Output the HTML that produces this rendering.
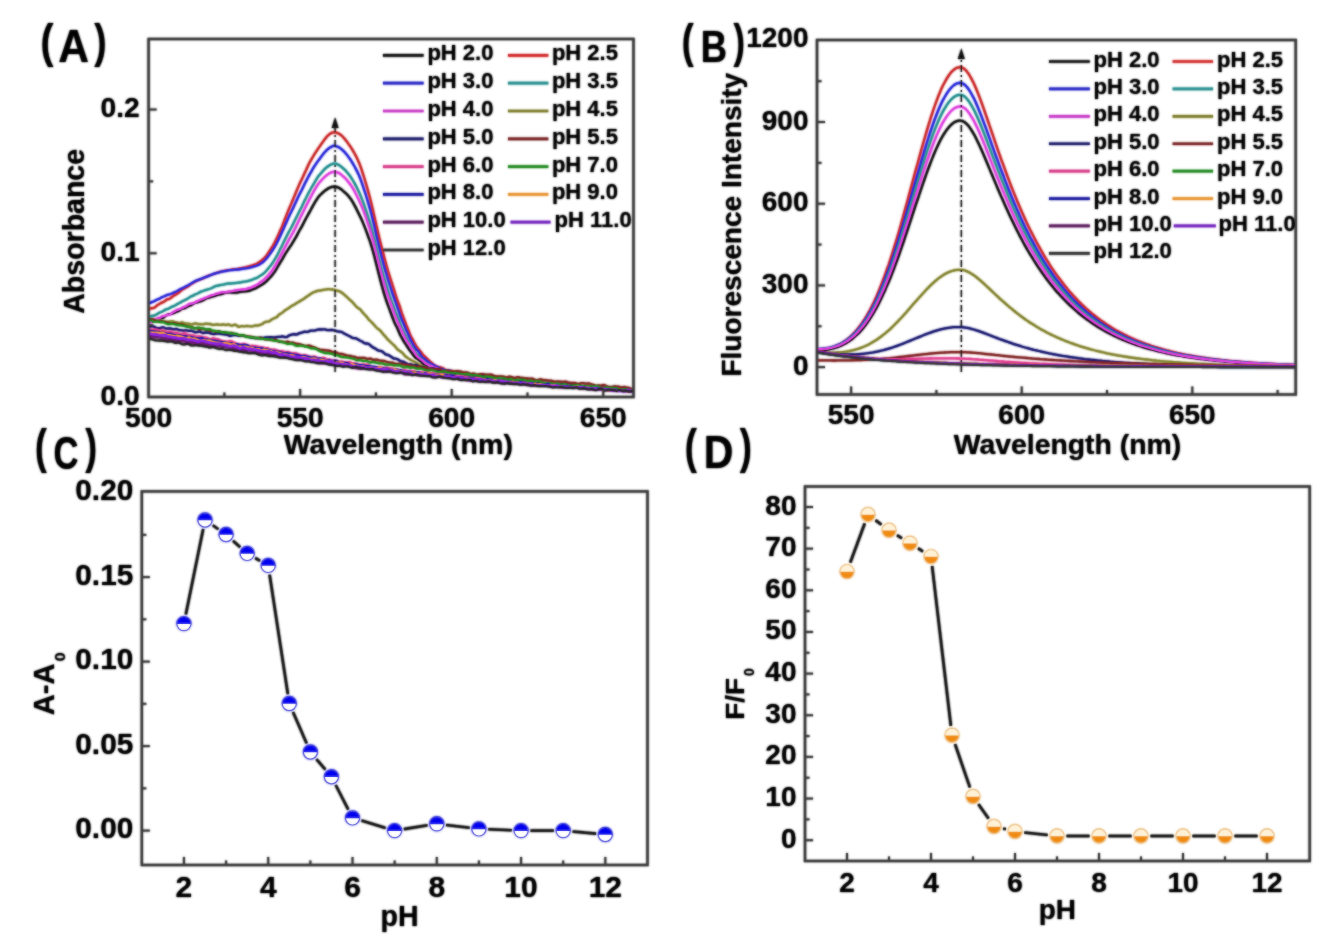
<!DOCTYPE html>
<html><head><meta charset="utf-8"><style>
html,body{margin:0;padding:0;background:#fff;width:1326px;height:945px;overflow:hidden;font-family:"Liberation Sans", sans-serif;}
</style></head><body>
<svg width="1326" height="945" viewBox="0 0 1326 945" style="position:absolute;left:0;top:0">
<defs><filter id="soft" x="0" y="0" width="1326" height="945" filterUnits="userSpaceOnUse"><feGaussianBlur stdDeviation="0.9"/></filter>
<g id="content" font-family='"Liberation Sans", sans-serif'>
<svg x="148.6" y="39" width="484.9" height="358" viewBox="148.6 39 484.9 358" overflow="hidden">
<path d="M148.6 321.4 L150.1 321.3 L151.6 321.5 L153.1 321.4 L154.7 320.7 L156.2 319.9 L157.7 319.4 L159.2 318.9 L160.7 318.3 L162.2 317.9 L163.8 317.3 L165.3 316.1 L166.8 315.1 L168.3 314.4 L169.8 314.2 L171.3 313.9 L172.8 313.5 L174.4 312.8 L175.9 311.9 L177.4 311.4 L178.9 310.9 L180.4 309.8 L181.9 308.7 L183.5 308.3 L185.0 308.0 L186.5 307.2 L188.0 306.3 L189.5 305.7 L191.0 305.2 L192.5 304.3 L194.1 303.2 L195.6 302.6 L197.1 302.4 L198.6 302.0 L200.1 301.5 L201.6 301.0 L203.2 300.3 L204.7 299.3 L206.2 298.4 L207.7 298.0 L209.2 297.6 L210.7 296.9 L212.3 296.5 L213.8 296.2 L215.3 295.6 L216.8 295.1 L218.3 294.6 L219.8 294.3 L221.3 294.2 L222.9 293.6 L224.4 293.0 L225.9 292.7 L227.4 292.5 L228.9 292.3 L230.4 292.4 L232.0 292.5 L233.5 292.5 L235.0 292.6 L236.5 292.7 L238.0 292.4 L239.5 291.9 L241.0 291.6 L242.6 291.5 L244.1 291.3 L245.6 291.3 L247.1 291.1 L248.6 290.8 L250.1 290.5 L251.7 289.8 L253.2 289.1 L254.7 288.7 L256.2 288.0 L257.7 287.1 L259.2 286.2 L260.7 285.3 L262.3 284.4 L263.8 283.3 L265.3 282.2 L266.8 280.9 L268.3 279.3 L269.8 277.8 L271.4 276.0 L272.9 274.1 L274.4 272.1 L275.9 269.8 L277.4 267.2 L278.9 264.7 L280.4 262.2 L282.0 259.6 L283.5 256.9 L285.0 254.2 L286.5 251.9 L288.0 249.6 L289.5 247.3 L291.1 245.1 L292.6 242.7 L294.1 240.2 L295.6 237.7 L297.1 234.9 L298.6 232.0 L300.1 229.3 L301.7 226.6 L303.2 223.7 L304.7 220.8 L306.2 218.0 L307.7 215.3 L309.2 212.6 L310.8 209.8 L312.3 206.9 L313.8 204.2 L315.3 201.6 L316.8 199.3 L318.3 197.1 L319.9 195.3 L321.4 193.8 L322.9 192.4 L324.4 191.1 L325.9 190.0 L327.4 189.0 L328.9 188.0 L330.5 187.4 L332.0 186.9 L333.5 186.7 L335.0 186.8 L336.5 186.9 L338.0 187.4 L339.6 188.2 L341.1 189.2 L342.6 190.5 L344.1 191.8 L345.6 193.1 L347.1 194.4 L348.6 196.2 L350.2 198.2 L351.7 200.4 L353.2 202.9 L354.7 205.6 L356.2 208.4 L357.7 211.5 L359.3 214.7 L360.8 217.8 L362.3 221.1 L363.8 224.6 L365.3 228.4 L366.8 232.4 L368.3 236.5 L369.9 240.9 L371.4 245.7 L372.9 250.8 L374.4 256.3 L375.9 262.2 L377.4 268.2 L379.0 274.4 L380.5 280.4 L382.0 286.0 L383.5 291.4 L385.0 296.4 L386.5 301.0 L388.0 305.1 L389.6 309.3 L391.1 313.5 L392.6 317.5 L394.1 321.4 L395.6 324.7 L397.1 327.5 L398.7 331.3 L400.2 334.9 L401.7 337.5 L403.2 340.3 L404.7 342.7 L406.2 344.9 L407.8 347.4 L409.3 349.7 L410.8 351.6 L412.3 353.7 L413.8 355.8 L415.3 357.5 L416.8 358.6 L418.4 359.6 L419.9 360.8 L421.4 361.9 L422.9 363.5 L424.4 365.0 L425.9 366.2 L427.5 367.4 L429.0 368.1 L430.5 368.4 L432.0 368.5 L433.5 369.0 L435.0 369.8 L436.5 370.7 L438.1 371.2 L439.6 371.3 L441.1 371.3 L442.6 371.8 L444.1 372.1 L445.6 371.9 L447.2 372.3 L448.7 373.2 L450.2 373.9 L451.7 374.2 L453.2 374.3 L454.7 374.6 L456.2 374.7 L457.8 374.7 L459.3 374.9 L460.8 375.3 L462.3 376.0 L463.8 376.5 L465.3 377.0 L466.9 377.0 L468.4 376.9 L469.9 377.2 L471.4 377.4 L472.9 377.9 L474.4 378.2 L475.9 378.3 L477.5 378.7 L479.0 379.1 L480.5 379.5 L482.0 379.8 L483.5 380.1 L485.0 380.0 L486.6 379.9 L488.1 380.0 L489.6 380.6 L491.1 381.5 L492.6 381.4 L494.1 381.1 L495.6 381.2 L497.2 381.2 L498.7 381.4 L500.2 381.8 L501.7 381.5 L503.2 381.2 L504.7 381.8 L506.3 382.4 L507.8 382.7 L509.3 383.0 L510.8 383.3 L512.3 382.9 L513.8 382.2 L515.4 382.4 L516.9 382.8 L518.4 382.7 L519.9 382.7 L521.4 382.9 L522.9 382.9 L524.4 383.2 L526.0 383.5 L527.5 383.9 L529.0 384.8 L530.5 384.9 L532.0 384.6 L533.5 384.8 L535.1 384.9 L536.6 385.1 L538.1 384.7 L539.6 384.0 L541.1 384.4 L542.6 384.8 L544.1 384.8 L545.7 385.0 L547.2 385.1 L548.7 384.9 L550.2 385.2 L551.7 385.7 L553.2 385.7 L554.8 385.9 L556.3 386.1 L557.8 386.0 L559.3 386.0 L560.8 385.8 L562.3 385.8 L563.8 386.1 L565.4 386.2 L566.9 386.6 L568.4 387.2 L569.9 387.2 L571.4 387.0 L572.9 387.0 L574.5 387.0 L576.0 387.1 L577.5 387.2 L579.0 386.5 L580.5 386.5 L582.0 387.3 L583.5 387.6 L585.1 387.5 L586.6 387.1 L588.1 387.3 L589.6 388.2 L591.1 388.7 L592.6 388.8 L594.2 389.1 L595.7 389.0 L597.2 388.8 L598.7 388.6 L600.2 388.2 L601.7 388.4 L603.2 389.2 L604.8 389.5 L606.3 389.2 L607.8 388.9 L609.3 389.5 L610.8 389.9 L612.3 389.6 L613.9 389.4 L615.4 389.4 L616.9 389.2 L618.4 389.3 L619.9 389.7 L621.4 390.1 L623.0 390.1 L624.5 390.5 L626.0 390.8 L627.5 390.8 L629.0 390.8 L630.5 390.9 L632.0 390.6 L633.6 390.1" fill="none" stroke="#0a0a0a" stroke-width="2.3" stroke-linejoin="round" stroke-linecap="round"/>
<path d="M148.6 309.4 L150.1 308.7 L151.6 308.2 L153.1 308.1 L154.7 307.5 L156.2 306.2 L157.7 304.9 L159.2 304.1 L160.7 303.1 L162.2 302.4 L163.8 301.9 L165.3 300.7 L166.8 299.5 L168.3 299.2 L169.8 298.6 L171.3 297.5 L172.8 296.3 L174.4 295.3 L175.9 294.4 L177.4 293.5 L178.9 292.5 L180.4 291.1 L181.9 289.7 L183.5 288.9 L185.0 288.1 L186.5 287.3 L188.0 286.4 L189.5 285.2 L191.0 284.1 L192.5 283.3 L194.1 282.3 L195.6 281.4 L197.1 280.6 L198.6 279.9 L200.1 279.4 L201.6 278.9 L203.2 278.3 L204.7 277.4 L206.2 276.7 L207.7 276.0 L209.2 275.4 L210.7 275.0 L212.3 274.5 L213.8 273.9 L215.3 273.4 L216.8 272.9 L218.3 272.4 L219.8 271.9 L221.3 271.5 L222.9 271.2 L224.4 270.8 L225.9 270.5 L227.4 270.3 L228.9 270.1 L230.4 269.8 L232.0 269.5 L233.5 269.3 L235.0 269.2 L236.5 269.1 L238.0 268.8 L239.5 268.5 L241.0 268.3 L242.6 268.0 L244.1 267.7 L245.6 267.4 L247.1 266.9 L248.6 266.5 L250.1 266.1 L251.7 265.7 L253.2 265.1 L254.7 264.6 L256.2 264.1 L257.7 263.3 L259.2 262.2 L260.7 261.1 L262.3 259.8 L263.8 258.5 L265.3 257.0 L266.8 255.1 L268.3 252.9 L269.8 250.6 L271.4 248.2 L272.9 245.8 L274.4 243.1 L275.9 240.1 L277.4 236.9 L278.9 233.7 L280.4 230.2 L282.0 226.6 L283.5 222.8 L285.0 219.0 L286.5 215.2 L288.0 211.4 L289.5 207.7 L291.1 204.1 L292.6 200.5 L294.1 196.9 L295.6 193.3 L297.1 189.6 L298.6 186.1 L300.1 182.8 L301.7 179.6 L303.2 176.2 L304.7 172.9 L306.2 169.8 L307.7 166.5 L309.2 163.3 L310.8 160.4 L312.3 157.9 L313.8 155.3 L315.3 152.9 L316.8 150.7 L318.3 148.4 L319.9 146.1 L321.4 143.9 L322.9 141.8 L324.4 139.7 L325.9 137.7 L327.4 136.0 L328.9 134.6 L330.5 133.5 L332.0 132.7 L333.5 132.4 L335.0 132.4 L336.5 132.6 L338.0 133.2 L339.6 134.1 L341.1 135.2 L342.6 136.5 L344.1 138.2 L345.6 140.0 L347.1 141.9 L348.6 144.1 L350.2 146.3 L351.7 148.6 L353.2 151.1 L354.7 153.7 L356.2 156.6 L357.7 159.8 L359.3 163.4 L360.8 167.3 L362.3 171.8 L363.8 176.5 L365.3 181.5 L366.8 186.6 L368.3 191.9 L369.9 197.7 L371.4 203.8 L372.9 210.2 L374.4 216.7 L375.9 223.4 L377.4 230.1 L379.0 236.7 L380.5 242.9 L382.0 248.8 L383.5 254.6 L385.0 260.3 L386.5 265.7 L388.0 271.0 L389.6 276.0 L391.1 280.8 L392.6 285.5 L394.1 290.2 L395.6 295.1 L397.1 299.7 L398.7 303.7 L400.2 308.0 L401.7 312.8 L403.2 316.9 L404.7 320.8 L406.2 325.0 L407.8 328.7 L409.3 332.7 L410.8 336.2 L412.3 338.9 L413.8 341.8 L415.3 344.5 L416.8 346.9 L418.4 349.1 L419.9 350.7 L421.4 352.7 L422.9 354.7 L424.4 356.2 L425.9 357.6 L427.5 359.1 L429.0 360.7 L430.5 361.9 L432.0 363.2 L433.5 364.4 L435.0 365.4 L436.5 366.4 L438.1 366.9 L439.6 367.1 L441.1 367.6 L442.6 368.1 L444.1 368.9 L445.6 370.1 L447.2 370.9 L448.7 370.9 L450.2 370.9 L451.7 371.3 L453.2 371.7 L454.7 372.1 L456.2 372.9 L457.8 373.4 L459.3 372.8 L460.8 372.6 L462.3 373.4 L463.8 374.2 L465.3 374.2 L466.9 374.1 L468.4 374.6 L469.9 375.3 L471.4 375.8 L472.9 375.8 L474.4 375.6 L475.9 375.4 L477.5 375.7 L479.0 376.8 L480.5 377.4 L482.0 377.4 L483.5 377.5 L485.0 377.6 L486.6 377.7 L488.1 377.8 L489.6 378.0 L491.1 378.6 L492.6 379.4 L494.1 379.9 L495.6 380.0 L497.2 380.2 L498.7 380.2 L500.2 379.8 L501.7 379.8 L503.2 380.3 L504.7 380.9 L506.3 381.2 L507.8 380.8 L509.3 380.6 L510.8 381.3 L512.3 381.2 L513.8 380.9 L515.4 381.2 L516.9 381.4 L518.4 381.5 L519.9 381.8 L521.4 381.6 L522.9 381.6 L524.4 382.3 L526.0 382.6 L527.5 382.2 L529.0 381.9 L530.5 381.8 L532.0 382.3 L533.5 383.1 L535.1 383.3 L536.6 383.0 L538.1 383.1 L539.6 383.5 L541.1 383.4 L542.6 383.2 L544.1 383.3 L545.7 383.7 L547.2 384.0 L548.7 384.2 L550.2 384.3 L551.7 384.0 L553.2 383.2 L554.8 383.0 L556.3 383.7 L557.8 384.2 L559.3 384.5 L560.8 384.9 L562.3 385.1 L563.8 385.0 L565.4 384.6 L566.9 384.4 L568.4 385.1 L569.9 385.4 L571.4 385.1 L572.9 385.3 L574.5 385.6 L576.0 386.0 L577.5 386.4 L579.0 386.1 L580.5 385.8 L582.0 386.1 L583.5 386.5 L585.1 386.7 L586.6 386.6 L588.1 386.6 L589.6 386.9 L591.1 387.0 L592.6 386.7 L594.2 386.6 L595.7 386.8 L597.2 386.9 L598.7 386.7 L600.2 386.9 L601.7 387.4 L603.2 387.9 L604.8 388.1 L606.3 388.0 L607.8 387.8 L609.3 387.9 L610.8 388.3 L612.3 388.6 L613.9 388.6 L615.4 388.5 L616.9 388.6 L618.4 388.9 L619.9 389.2 L621.4 389.4 L623.0 389.1 L624.5 388.7 L626.0 389.0 L627.5 389.6 L629.0 390.0 L630.5 389.9 L632.0 389.3 L633.6 389.1" fill="none" stroke="#c82424" stroke-width="2.3" stroke-linejoin="round" stroke-linecap="round"/>
<path d="M148.6 303.5 L150.1 303.0 L151.6 302.2 L153.1 301.7 L154.7 301.0 L156.2 300.0 L157.7 299.3 L159.2 298.8 L160.7 298.0 L162.2 297.0 L163.8 296.5 L165.3 295.9 L166.8 295.1 L168.3 294.7 L169.8 294.3 L171.3 293.7 L172.8 293.1 L174.4 292.4 L175.9 291.7 L177.4 291.0 L178.9 290.1 L180.4 289.2 L181.9 288.4 L183.5 287.7 L185.0 286.9 L186.5 286.1 L188.0 285.5 L189.5 284.6 L191.0 283.6 L192.5 282.8 L194.1 281.8 L195.6 280.9 L197.1 280.4 L198.6 279.9 L200.1 279.2 L201.6 278.6 L203.2 278.0 L204.7 277.3 L206.2 276.8 L207.7 276.4 L209.2 275.7 L210.7 275.0 L212.3 274.4 L213.8 273.8 L215.3 273.3 L216.8 272.9 L218.3 272.6 L219.8 272.2 L221.3 271.7 L222.9 271.3 L224.4 271.1 L225.9 271.0 L227.4 270.6 L228.9 270.2 L230.4 270.1 L232.0 270.0 L233.5 269.8 L235.0 269.6 L236.5 269.5 L238.0 269.5 L239.5 269.3 L241.0 269.0 L242.6 268.7 L244.1 268.5 L245.6 268.3 L247.1 268.1 L248.6 267.8 L250.1 267.5 L251.7 267.1 L253.2 266.7 L254.7 266.2 L256.2 265.8 L257.7 265.2 L259.2 264.4 L260.7 263.5 L262.3 262.5 L263.8 261.3 L265.3 259.8 L266.8 258.0 L268.3 256.1 L269.8 254.1 L271.4 251.8 L272.9 249.5 L274.4 247.3 L275.9 244.7 L277.4 241.7 L278.9 238.7 L280.4 235.4 L282.0 232.0 L283.5 228.7 L285.0 225.3 L286.5 222.0 L288.0 218.6 L289.5 215.3 L291.1 212.1 L292.6 208.9 L294.1 205.7 L295.6 202.5 L297.1 199.2 L298.6 196.0 L300.1 193.0 L301.7 190.1 L303.2 187.0 L304.7 183.8 L306.2 180.9 L307.7 178.0 L309.2 175.1 L310.8 172.4 L312.3 169.7 L313.8 167.2 L315.3 164.9 L316.8 162.7 L318.3 160.6 L319.9 158.5 L321.4 156.4 L322.9 154.4 L324.4 152.6 L325.9 150.9 L327.4 149.5 L328.9 148.3 L330.5 147.2 L332.0 146.4 L333.5 145.9 L335.0 145.9 L336.5 146.3 L338.0 146.8 L339.6 147.7 L341.1 148.9 L342.6 150.2 L344.1 151.6 L345.6 153.3 L347.1 155.1 L348.6 157.1 L350.2 159.3 L351.7 161.6 L353.2 164.1 L354.7 166.7 L356.2 169.6 L357.7 172.6 L359.3 176.0 L360.8 179.9 L362.3 184.2 L363.8 188.6 L365.3 193.2 L366.8 198.0 L368.3 203.1 L369.9 208.6 L371.4 214.3 L372.9 220.3 L374.4 226.5 L375.9 233.0 L377.4 239.6 L379.0 246.1 L380.5 252.3 L382.0 258.3 L383.5 264.0 L385.0 269.4 L386.5 274.5 L388.0 279.6 L389.6 284.5 L391.1 289.2 L392.6 293.8 L394.1 298.0 L395.6 302.1 L397.1 306.4 L398.7 310.9 L400.2 315.5 L401.7 319.4 L403.2 322.7 L404.7 326.5 L406.2 330.1 L407.8 333.3 L409.3 336.8 L410.8 340.1 L412.3 342.8 L413.8 345.5 L415.3 348.1 L416.8 349.9 L418.4 351.2 L419.9 353.6 L421.4 356.4 L422.9 358.0 L424.4 358.6 L425.9 359.9 L427.5 361.1 L429.0 362.3 L430.5 363.7 L432.0 364.3 L433.5 365.0 L435.0 366.0 L436.5 366.6 L438.1 367.3 L439.6 368.3 L441.1 368.9 L442.6 369.1 L444.1 369.8 L445.6 370.4 L447.2 370.3 L448.7 370.3 L450.2 370.9 L451.7 371.6 L453.2 372.2 L454.7 372.9 L456.2 373.4 L457.8 373.4 L459.3 373.7 L460.8 373.9 L462.3 374.1 L463.8 375.0 L465.3 375.6 L466.9 375.4 L468.4 375.3 L469.9 375.7 L471.4 376.4 L472.9 376.8 L474.4 377.2 L475.9 377.3 L477.5 376.9 L479.0 376.9 L480.5 377.3 L482.0 377.5 L483.5 377.6 L485.0 378.6 L486.6 379.4 L488.1 379.2 L489.6 378.9 L491.1 379.1 L492.6 379.5 L494.1 379.3 L495.6 379.2 L497.2 380.1 L498.7 380.8 L500.2 380.9 L501.7 380.5 L503.2 380.2 L504.7 380.2 L506.3 380.3 L507.8 380.5 L509.3 380.8 L510.8 381.2 L512.3 381.8 L513.8 382.0 L515.4 382.0 L516.9 382.0 L518.4 381.8 L519.9 381.6 L521.4 382.1 L522.9 382.7 L524.4 382.7 L526.0 382.5 L527.5 382.8 L529.0 383.0 L530.5 383.1 L532.0 383.0 L533.5 382.9 L535.1 383.6 L536.6 383.7 L538.1 383.3 L539.6 383.2 L541.1 383.5 L542.6 383.6 L544.1 383.5 L545.7 383.3 L547.2 383.6 L548.7 384.2 L550.2 384.5 L551.7 384.4 L553.2 384.4 L554.8 384.6 L556.3 385.3 L557.8 385.7 L559.3 385.1 L560.8 384.7 L562.3 384.6 L563.8 384.6 L565.4 385.0 L566.9 385.4 L568.4 385.4 L569.9 385.5 L571.4 385.5 L572.9 385.7 L574.5 385.9 L576.0 386.1 L577.5 386.5 L579.0 386.9 L580.5 387.1 L582.0 387.3 L583.5 386.8 L585.1 386.1 L586.6 386.1 L588.1 386.7 L589.6 387.6 L591.1 387.6 L592.6 387.2 L594.2 387.5 L595.7 387.9 L597.2 388.3 L598.7 388.1 L600.2 387.6 L601.7 387.8 L603.2 388.2 L604.8 388.6 L606.3 388.6 L607.8 388.1 L609.3 388.2 L610.8 388.5 L612.3 388.8 L613.9 388.9 L615.4 388.5 L616.9 388.5 L618.4 389.1 L619.9 389.1 L621.4 389.0 L623.0 389.1 L624.5 388.6 L626.0 388.8 L627.5 389.3 L629.0 389.2 L630.5 389.3 L632.0 389.9 L633.6 389.9" fill="none" stroke="#2424d8" stroke-width="2.3" stroke-linejoin="round" stroke-linecap="round"/>
<path d="M148.6 317.1 L150.1 316.6 L151.6 316.0 L153.1 315.8 L154.7 315.5 L156.2 314.8 L157.7 313.7 L159.2 312.8 L160.7 312.2 L162.2 311.6 L163.8 310.7 L165.3 309.7 L166.8 309.2 L168.3 308.8 L169.8 307.9 L171.3 307.0 L172.8 306.4 L174.4 305.8 L175.9 305.0 L177.4 304.1 L178.9 303.3 L180.4 302.5 L181.9 301.5 L183.5 300.7 L185.0 300.1 L186.5 299.2 L188.0 298.4 L189.5 297.4 L191.0 296.4 L192.5 295.9 L194.1 295.1 L195.6 294.3 L197.1 293.7 L198.6 293.0 L200.1 292.1 L201.6 291.4 L203.2 291.0 L204.7 290.3 L206.2 289.8 L207.7 289.5 L209.2 289.0 L210.7 288.5 L212.3 287.8 L213.8 286.9 L215.3 286.2 L216.8 285.8 L218.3 285.5 L219.8 285.2 L221.3 284.9 L222.9 284.7 L224.4 284.3 L225.9 283.9 L227.4 283.6 L228.9 283.5 L230.4 283.5 L232.0 283.3 L233.5 283.2 L235.0 283.1 L236.5 282.8 L238.0 282.7 L239.5 282.5 L241.0 282.3 L242.6 281.9 L244.1 281.7 L245.6 281.5 L247.1 281.2 L248.6 280.8 L250.1 280.4 L251.7 279.9 L253.2 279.2 L254.7 278.6 L256.2 278.1 L257.7 277.5 L259.2 276.4 L260.7 275.4 L262.3 274.5 L263.8 273.4 L265.3 272.0 L266.8 270.3 L268.3 268.5 L269.8 266.6 L271.4 264.7 L272.9 262.5 L274.4 260.1 L275.9 257.6 L277.4 254.9 L278.9 251.9 L280.4 248.8 L282.0 245.7 L283.5 242.6 L285.0 239.5 L286.5 236.6 L288.0 233.6 L289.5 230.8 L291.1 228.0 L292.6 225.1 L294.1 222.1 L295.6 219.1 L297.1 216.1 L298.6 213.1 L300.1 210.1 L301.7 206.9 L303.2 203.7 L304.7 200.6 L306.2 197.8 L307.7 194.8 L309.2 191.8 L310.8 189.0 L312.3 186.3 L313.8 183.8 L315.3 181.2 L316.8 178.6 L318.3 176.3 L319.9 174.4 L321.4 172.7 L322.9 171.0 L324.4 169.3 L325.9 167.9 L327.4 166.8 L328.9 165.7 L330.5 164.8 L332.0 164.0 L333.5 163.6 L335.0 163.7 L336.5 163.9 L338.0 164.5 L339.6 165.4 L341.1 166.6 L342.6 167.9 L344.1 169.2 L345.6 170.6 L347.1 172.4 L348.6 174.3 L350.2 176.3 L351.7 178.6 L353.2 181.0 L354.7 183.6 L356.2 186.4 L357.7 189.5 L359.3 192.8 L360.8 196.4 L362.3 200.2 L363.8 204.2 L365.3 208.6 L366.8 213.1 L368.3 217.8 L369.9 222.7 L371.4 228.0 L372.9 233.6 L374.4 239.4 L375.9 245.6 L377.4 252.1 L379.0 258.5 L380.5 264.5 L382.0 270.3 L383.5 275.8 L385.0 280.9 L386.5 285.7 L388.0 290.7 L389.6 295.5 L391.1 299.8 L392.6 303.9 L394.1 308.0 L395.6 312.1 L397.1 315.8 L398.7 319.6 L400.2 323.9 L401.7 327.7 L403.2 330.7 L404.7 333.9 L406.2 337.1 L407.8 339.9 L409.3 342.9 L410.8 345.4 L412.3 347.5 L413.8 349.6 L415.3 351.8 L416.8 353.9 L418.4 355.8 L419.9 357.5 L421.4 358.8 L422.9 360.0 L424.4 361.6 L425.9 363.0 L427.5 363.8 L429.0 364.4 L430.5 365.1 L432.0 366.2 L433.5 367.4 L435.0 367.9 L436.5 368.1 L438.1 369.1 L439.6 370.1 L441.1 370.5 L442.6 370.9 L444.1 370.9 L445.6 371.0 L447.2 371.7 L448.7 372.5 L450.2 372.7 L451.7 372.5 L453.2 372.3 L454.7 372.3 L456.2 373.4 L457.8 374.7 L459.3 374.9 L460.8 374.8 L462.3 374.9 L463.8 375.3 L465.3 375.7 L466.9 376.0 L468.4 376.0 L469.9 376.2 L471.4 377.2 L472.9 378.1 L474.4 377.9 L475.9 377.3 L477.5 377.7 L479.0 378.4 L480.5 378.6 L482.0 378.4 L483.5 378.7 L485.0 379.2 L486.6 379.6 L488.1 379.7 L489.6 379.8 L491.1 379.6 L492.6 380.0 L494.1 381.0 L495.6 381.3 L497.2 380.9 L498.7 381.1 L500.2 381.6 L501.7 381.7 L503.2 381.6 L504.7 381.8 L506.3 381.9 L507.8 381.7 L509.3 381.5 L510.8 381.6 L512.3 381.8 L513.8 382.3 L515.4 382.7 L516.9 382.7 L518.4 382.5 L519.9 382.5 L521.4 382.6 L522.9 382.8 L524.4 383.0 L526.0 383.4 L527.5 383.8 L529.0 383.9 L530.5 383.7 L532.0 383.6 L533.5 383.9 L535.1 384.0 L536.6 384.1 L538.1 383.9 L539.6 384.0 L541.1 384.3 L542.6 384.4 L544.1 384.3 L545.7 384.4 L547.2 384.7 L548.7 384.9 L550.2 385.2 L551.7 385.4 L553.2 385.2 L554.8 385.2 L556.3 385.3 L557.8 385.2 L559.3 385.4 L560.8 385.5 L562.3 385.8 L563.8 386.4 L565.4 386.5 L566.9 386.6 L568.4 386.4 L569.9 385.8 L571.4 385.6 L572.9 386.2 L574.5 387.0 L576.0 386.8 L577.5 386.3 L579.0 386.3 L580.5 386.5 L582.0 387.1 L583.5 387.7 L585.1 387.9 L586.6 387.5 L588.1 387.3 L589.6 387.6 L591.1 387.5 L592.6 387.4 L594.2 387.6 L595.7 387.9 L597.2 387.8 L598.7 387.7 L600.2 388.2 L601.7 388.1 L603.2 387.8 L604.8 387.9 L606.3 388.5 L607.8 389.5 L609.3 389.6 L610.8 389.4 L612.3 389.4 L613.9 389.2 L615.4 389.2 L616.9 389.4 L618.4 389.5 L619.9 389.7 L621.4 389.6 L623.0 389.9 L624.5 390.7 L626.0 391.0 L627.5 391.0 L629.0 390.6 L630.5 390.0 L632.0 389.6 L633.6 389.8" fill="none" stroke="#1e8c8c" stroke-width="2.3" stroke-linejoin="round" stroke-linecap="round"/>
<path d="M148.6 322.2 L150.1 322.1 L151.6 321.4 L153.1 320.7 L154.7 320.1 L156.2 319.0 L157.7 318.2 L159.2 318.1 L160.7 317.4 L162.2 316.3 L163.8 316.2 L165.3 315.7 L166.8 314.9 L168.3 314.9 L169.8 314.6 L171.3 313.5 L172.8 312.3 L174.4 311.4 L175.9 310.6 L177.4 309.8 L178.9 309.4 L180.4 309.0 L181.9 308.1 L183.5 307.2 L185.0 306.7 L186.5 305.9 L188.0 304.8 L189.5 304.0 L191.0 303.7 L192.5 303.5 L194.1 303.0 L195.6 302.1 L197.1 301.4 L198.6 300.7 L200.1 300.0 L201.6 299.3 L203.2 298.8 L204.7 298.1 L206.2 297.5 L207.7 297.0 L209.2 296.3 L210.7 295.6 L212.3 295.2 L213.8 294.8 L215.3 294.2 L216.8 293.7 L218.3 293.3 L219.8 292.8 L221.3 292.4 L222.9 292.2 L224.4 292.3 L225.9 292.3 L227.4 291.9 L228.9 291.5 L230.4 291.3 L232.0 291.2 L233.5 290.8 L235.0 290.3 L236.5 290.1 L238.0 290.0 L239.5 289.8 L241.0 289.6 L242.6 289.5 L244.1 289.5 L245.6 289.3 L247.1 288.7 L248.6 288.2 L250.1 288.0 L251.7 287.4 L253.2 286.6 L254.7 285.9 L256.2 285.3 L257.7 284.4 L259.2 283.2 L260.7 282.0 L262.3 281.0 L263.8 279.8 L265.3 278.4 L266.8 276.9 L268.3 275.2 L269.8 273.4 L271.4 271.5 L272.9 269.3 L274.4 266.9 L275.9 264.4 L277.4 261.7 L278.9 258.9 L280.4 255.9 L282.0 253.1 L283.5 250.0 L285.0 247.0 L286.5 244.2 L288.0 241.4 L289.5 238.7 L291.1 236.0 L292.6 233.2 L294.1 230.4 L295.6 227.4 L297.1 224.3 L298.6 221.2 L300.1 218.0 L301.7 214.9 L303.2 211.8 L304.7 208.7 L306.2 205.7 L307.7 202.8 L309.2 199.9 L310.8 196.9 L312.3 194.0 L313.8 191.1 L315.3 188.6 L316.8 186.2 L318.3 183.9 L319.9 181.9 L321.4 180.2 L322.9 178.7 L324.4 177.2 L325.9 175.8 L327.4 174.6 L328.9 173.6 L330.5 172.8 L332.0 172.1 L333.5 171.9 L335.0 171.9 L336.5 172.1 L338.0 172.6 L339.6 173.4 L341.1 174.5 L342.6 175.8 L344.1 177.1 L345.6 178.6 L347.1 180.3 L348.6 182.2 L350.2 184.2 L351.7 186.3 L353.2 188.8 L354.7 191.4 L356.2 194.4 L357.7 197.5 L359.3 200.9 L360.8 204.3 L362.3 207.8 L363.8 211.4 L365.3 215.5 L366.8 219.9 L368.3 224.4 L369.9 229.1 L371.4 234.4 L372.9 239.9 L374.4 245.5 L375.9 251.6 L377.4 257.8 L379.0 263.9 L380.5 270.0 L382.0 275.7 L383.5 281.1 L385.0 286.5 L386.5 291.4 L388.0 295.8 L389.6 300.1 L391.1 304.3 L392.6 308.6 L394.1 312.9 L395.6 316.7 L397.1 320.5 L398.7 324.1 L400.2 327.4 L401.7 330.6 L403.2 333.9 L404.7 337.1 L406.2 339.9 L407.8 342.3 L409.3 344.4 L410.8 347.1 L412.3 349.3 L413.8 351.1 L415.3 353.5 L416.8 355.9 L418.4 357.6 L419.9 358.6 L421.4 359.7 L422.9 360.9 L424.4 362.4 L425.9 363.6 L427.5 364.3 L429.0 365.1 L430.5 365.7 L432.0 366.1 L433.5 367.1 L435.0 367.7 L436.5 368.0 L438.1 368.8 L439.6 369.6 L441.1 370.0 L442.6 370.8 L444.1 371.9 L445.6 372.1 L447.2 372.3 L448.7 372.8 L450.2 372.9 L451.7 373.1 L453.2 373.5 L454.7 373.8 L456.2 374.3 L457.8 375.2 L459.3 375.7 L460.8 375.7 L462.3 375.8 L463.8 375.9 L465.3 376.1 L466.9 376.4 L468.4 376.3 L469.9 376.6 L471.4 377.6 L472.9 378.3 L474.4 378.7 L475.9 378.5 L477.5 378.0 L479.0 378.3 L480.5 378.7 L482.0 378.6 L483.5 379.4 L485.0 380.0 L486.6 379.5 L488.1 379.3 L489.6 380.0 L491.1 380.3 L492.6 380.3 L494.1 380.6 L495.6 380.8 L497.2 380.8 L498.7 381.1 L500.2 381.6 L501.7 381.8 L503.2 381.9 L504.7 382.3 L506.3 382.1 L507.8 381.8 L509.3 382.0 L510.8 382.3 L512.3 382.3 L513.8 382.5 L515.4 382.9 L516.9 382.9 L518.4 383.0 L519.9 383.6 L521.4 383.4 L522.9 382.8 L524.4 382.9 L526.0 383.5 L527.5 383.5 L529.0 383.3 L530.5 383.1 L532.0 383.7 L533.5 384.7 L535.1 384.4 L536.6 383.6 L538.1 383.7 L539.6 384.6 L541.1 385.0 L542.6 384.9 L544.1 384.9 L545.7 385.1 L547.2 385.2 L548.7 384.9 L550.2 384.7 L551.7 385.2 L553.2 385.9 L554.8 386.4 L556.3 386.1 L557.8 386.0 L559.3 386.1 L560.8 385.6 L562.3 385.3 L563.8 386.0 L565.4 386.1 L566.9 385.8 L568.4 386.0 L569.9 386.5 L571.4 386.7 L572.9 386.7 L574.5 386.7 L576.0 386.6 L577.5 386.5 L579.0 386.8 L580.5 387.3 L582.0 387.0 L583.5 386.9 L585.1 387.3 L586.6 387.2 L588.1 387.2 L589.6 387.5 L591.1 387.8 L592.6 388.0 L594.2 388.4 L595.7 388.8 L597.2 388.8 L598.7 388.6 L600.2 388.3 L601.7 388.1 L603.2 388.1 L604.8 388.2 L606.3 388.6 L607.8 389.2 L609.3 389.4 L610.8 389.5 L612.3 389.1 L613.9 389.0 L615.4 389.5 L616.9 389.4 L618.4 389.2 L619.9 389.4 L621.4 389.5 L623.0 389.6 L624.5 389.7 L626.0 390.1 L627.5 390.4 L629.0 390.1 L630.5 390.1 L632.0 390.5 L633.6 390.3" fill="none" stroke="#dd3add" stroke-width="2.3" stroke-linejoin="round" stroke-linecap="round"/>
<path d="M148.6 319.7 L150.1 319.5 L151.6 319.5 L153.1 319.7 L154.7 320.1 L156.2 320.4 L157.7 320.1 L159.2 320.3 L160.7 321.0 L162.2 321.0 L163.8 321.2 L165.3 321.7 L166.8 321.8 L168.3 321.6 L169.8 321.7 L171.3 321.5 L172.8 321.4 L174.4 322.0 L175.9 322.5 L177.4 322.7 L178.9 323.2 L180.4 322.9 L181.9 322.3 L183.5 322.9 L185.0 323.4 L186.5 323.6 L188.0 323.6 L189.5 323.9 L191.0 324.6 L192.5 324.3 L194.1 323.6 L195.6 323.4 L197.1 323.8 L198.6 324.2 L200.1 324.1 L201.6 324.3 L203.2 324.4 L204.7 323.9 L206.2 323.6 L207.7 323.9 L209.2 324.0 L210.7 324.2 L212.3 324.8 L213.8 324.8 L215.3 324.6 L216.8 324.5 L218.3 324.5 L219.8 324.9 L221.3 324.8 L222.9 324.4 L224.4 324.6 L225.9 325.0 L227.4 324.7 L228.9 324.5 L230.4 325.3 L232.0 325.7 L233.5 325.1 L235.0 324.6 L236.5 325.3 L238.0 326.5 L239.5 326.8 L241.0 326.2 L242.6 326.1 L244.1 326.3 L245.6 326.2 L247.1 325.9 L248.6 326.2 L250.1 326.4 L251.7 326.3 L253.2 326.2 L254.7 325.6 L256.2 325.5 L257.7 325.6 L259.2 325.2 L260.7 324.7 L262.3 324.0 L263.8 322.8 L265.3 321.9 L266.8 321.7 L268.3 321.7 L269.8 321.0 L271.4 319.7 L272.9 318.8 L274.4 318.2 L275.9 317.7 L277.4 316.5 L278.9 314.7 L280.4 313.7 L282.0 313.0 L283.5 311.7 L285.0 310.3 L286.5 309.4 L288.0 308.5 L289.5 307.5 L291.1 306.3 L292.6 305.4 L294.1 304.8 L295.6 303.8 L297.1 302.8 L298.6 302.0 L300.1 301.0 L301.7 300.0 L303.2 299.2 L304.7 298.2 L306.2 297.0 L307.7 296.1 L309.2 295.0 L310.8 293.8 L312.3 292.9 L313.8 292.2 L315.3 291.6 L316.8 291.1 L318.3 290.6 L319.9 290.5 L321.4 290.3 L322.9 289.9 L324.4 289.7 L325.9 289.6 L327.4 289.2 L328.9 289.1 L330.5 289.3 L332.0 289.5 L333.5 289.7 L335.0 290.0 L336.5 290.5 L338.0 290.8 L339.6 291.3 L341.1 292.2 L342.6 293.3 L344.1 294.5 L345.6 295.8 L347.1 297.2 L348.6 298.7 L350.2 300.1 L351.7 301.4 L353.2 303.0 L354.7 304.8 L356.2 306.5 L357.7 307.9 L359.3 308.7 L360.8 310.0 L362.3 312.1 L363.8 313.8 L365.3 315.3 L366.8 316.9 L368.3 319.0 L369.9 320.7 L371.4 322.0 L372.9 323.6 L374.4 325.3 L375.9 327.0 L377.4 328.5 L379.0 329.4 L380.5 330.8 L382.0 332.8 L383.5 334.6 L385.0 336.1 L386.5 337.9 L388.0 339.7 L389.6 341.2 L391.1 342.7 L392.6 344.0 L394.1 345.3 L395.6 347.1 L397.1 348.9 L398.7 350.3 L400.2 351.2 L401.7 352.2 L403.2 353.8 L404.7 355.6 L406.2 357.1 L407.8 358.1 L409.3 359.1 L410.8 360.0 L412.3 360.8 L413.8 361.6 L415.3 362.2 L416.8 363.3 L418.4 364.3 L419.9 364.9 L421.4 365.7 L422.9 366.1 L424.4 366.6 L425.9 367.5 L427.5 368.1 L429.0 368.4 L430.5 368.4 L432.0 368.4 L433.5 369.0 L435.0 369.5 L436.5 369.9 L438.1 370.3 L439.6 370.5 L441.1 370.9 L442.6 371.5 L444.1 372.0 L445.6 371.8 L447.2 371.4 L448.7 371.5 L450.2 372.2 L451.7 372.7 L453.2 373.1 L454.7 373.8 L456.2 373.8 L457.8 373.4 L459.3 373.8 L460.8 373.8 L462.3 373.7 L463.8 374.3 L465.3 374.7 L466.9 374.8 L468.4 375.0 L469.9 375.2 L471.4 375.3 L472.9 375.2 L474.4 375.6 L475.9 376.4 L477.5 376.8 L479.0 376.8 L480.5 376.9 L482.0 376.8 L483.5 376.7 L485.0 377.1 L486.6 377.4 L488.1 377.6 L489.6 378.0 L491.1 377.7 L492.6 377.3 L494.1 377.5 L495.6 378.2 L497.2 378.5 L498.7 378.4 L500.2 378.8 L501.7 379.1 L503.2 378.8 L504.7 378.9 L506.3 379.2 L507.8 379.4 L509.3 379.4 L510.8 379.7 L512.3 379.9 L513.8 379.6 L515.4 379.7 L516.9 380.2 L518.4 379.9 L519.9 379.8 L521.4 380.6 L522.9 381.2 L524.4 380.9 L526.0 380.9 L527.5 381.2 L529.0 381.1 L530.5 381.4 L532.0 381.6 L533.5 381.5 L535.1 381.6 L536.6 381.8 L538.1 382.1 L539.6 382.4 L541.1 382.5 L542.6 382.6 L544.1 382.6 L545.7 382.9 L547.2 383.1 L548.7 383.1 L550.2 383.2 L551.7 383.2 L553.2 383.4 L554.8 384.0 L556.3 384.3 L557.8 384.1 L559.3 383.9 L560.8 384.0 L562.3 384.3 L563.8 384.7 L565.4 385.1 L566.9 385.6 L568.4 385.9 L569.9 385.5 L571.4 385.4 L572.9 385.4 L574.5 385.6 L576.0 385.7 L577.5 385.8 L579.0 386.2 L580.5 386.5 L582.0 386.7 L583.5 386.5 L585.1 386.5 L586.6 387.0 L588.1 387.0 L589.6 386.8 L591.1 386.9 L592.6 386.9 L594.2 386.9 L595.7 387.0 L597.2 387.2 L598.7 387.2 L600.2 387.4 L601.7 388.0 L603.2 388.2 L604.8 388.0 L606.3 387.9 L607.8 387.9 L609.3 388.5 L610.8 388.8 L612.3 388.5 L613.9 389.0 L615.4 389.2 L616.9 389.0 L618.4 389.0 L619.9 389.0 L621.4 389.2 L623.0 389.2 L624.5 389.5 L626.0 390.0 L627.5 389.9 L629.0 389.7 L630.5 389.6 L632.0 389.3 L633.6 389.2" fill="none" stroke="#80802a" stroke-width="2.3" stroke-linejoin="round" stroke-linecap="round"/>
<path d="M148.6 326.8 L150.1 326.5 L151.6 326.1 L153.1 326.3 L154.7 327.1 L156.2 328.0 L157.7 328.3 L159.2 328.1 L160.7 327.9 L162.2 327.4 L163.8 327.4 L165.3 328.4 L166.8 328.7 L168.3 328.5 L169.8 328.4 L171.3 328.6 L172.8 329.2 L174.4 329.3 L175.9 328.8 L177.4 329.3 L178.9 330.1 L180.4 330.2 L181.9 330.4 L183.5 330.6 L185.0 330.3 L186.5 330.4 L188.0 330.9 L189.5 330.8 L191.0 330.6 L192.5 331.0 L194.1 331.9 L195.6 332.4 L197.1 332.2 L198.6 331.5 L200.1 331.5 L201.6 332.5 L203.2 333.1 L204.7 332.7 L206.2 332.4 L207.7 332.5 L209.2 332.9 L210.7 333.4 L212.3 333.9 L213.8 334.1 L215.3 333.9 L216.8 333.7 L218.3 333.4 L219.8 333.6 L221.3 334.0 L222.9 334.0 L224.4 334.3 L225.9 334.5 L227.4 334.7 L228.9 335.6 L230.4 335.9 L232.0 335.5 L233.5 335.1 L235.0 334.8 L236.5 335.1 L238.0 335.6 L239.5 335.8 L241.0 335.7 L242.6 335.7 L244.1 335.9 L245.6 336.3 L247.1 336.6 L248.6 336.9 L250.1 337.3 L251.7 337.6 L253.2 337.9 L254.7 338.0 L256.2 338.2 L257.7 338.3 L259.2 337.9 L260.7 337.7 L262.3 337.8 L263.8 337.8 L265.3 337.5 L266.8 337.3 L268.3 337.3 L269.8 337.2 L271.4 337.1 L272.9 337.4 L274.4 337.5 L275.9 337.3 L277.4 336.8 L278.9 336.9 L280.4 336.8 L282.0 336.5 L283.5 336.7 L285.0 337.2 L286.5 337.2 L288.0 336.2 L289.5 335.2 L291.1 334.8 L292.6 334.4 L294.1 334.2 L295.6 334.5 L297.1 334.4 L298.6 333.6 L300.1 332.9 L301.7 332.6 L303.2 332.1 L304.7 331.7 L306.2 331.8 L307.7 331.9 L309.2 331.2 L310.8 330.7 L312.3 330.7 L313.8 330.7 L315.3 330.4 L316.8 329.9 L318.3 329.5 L319.9 329.5 L321.4 329.5 L322.9 329.3 L324.4 329.3 L325.9 329.7 L327.4 330.1 L328.9 330.1 L330.5 330.0 L332.0 329.9 L333.5 330.1 L335.0 330.5 L336.5 331.1 L338.0 331.5 L339.6 331.6 L341.1 331.8 L342.6 332.5 L344.1 333.4 L345.6 334.2 L347.1 335.0 L348.6 335.8 L350.2 336.5 L351.7 337.5 L353.2 338.1 L354.7 338.1 L356.2 338.4 L357.7 339.3 L359.3 340.3 L360.8 341.0 L362.3 341.6 L363.8 342.8 L365.3 343.6 L366.8 343.4 L368.3 343.8 L369.9 344.9 L371.4 346.3 L372.9 347.4 L374.4 348.1 L375.9 348.9 L377.4 350.1 L379.0 350.7 L380.5 350.9 L382.0 351.4 L383.5 352.5 L385.0 353.9 L386.5 354.7 L388.0 354.9 L389.6 355.7 L391.1 356.7 L392.6 357.9 L394.1 358.6 L395.6 358.6 L397.1 359.0 L398.7 360.0 L400.2 361.0 L401.7 361.4 L403.2 361.6 L404.7 362.5 L406.2 363.4 L407.8 364.1 L409.3 364.3 L410.8 364.2 L412.3 364.9 L413.8 365.4 L415.3 365.0 L416.8 365.0 L418.4 365.9 L419.9 366.9 L421.4 366.9 L422.9 366.8 L424.4 367.7 L425.9 368.2 L427.5 368.5 L429.0 369.0 L430.5 368.7 L432.0 368.4 L433.5 368.5 L435.0 368.8 L436.5 369.4 L438.1 370.0 L439.6 370.4 L441.1 370.9 L442.6 371.3 L444.1 371.4 L445.6 371.5 L447.2 371.6 L448.7 371.7 L450.2 371.8 L451.7 372.0 L453.2 372.8 L454.7 373.5 L456.2 373.2 L457.8 372.5 L459.3 372.8 L460.8 373.5 L462.3 373.9 L463.8 374.1 L465.3 374.3 L466.9 374.2 L468.4 374.1 L469.9 374.3 L471.4 374.9 L472.9 375.3 L474.4 375.5 L475.9 375.4 L477.5 375.5 L479.0 375.6 L480.5 375.4 L482.0 375.6 L483.5 376.2 L485.0 376.8 L486.6 377.2 L488.1 377.2 L489.6 377.6 L491.1 377.9 L492.6 378.0 L494.1 378.1 L495.6 377.9 L497.2 377.7 L498.7 378.1 L500.2 378.5 L501.7 378.7 L503.2 378.8 L504.7 378.7 L506.3 378.6 L507.8 378.6 L509.3 378.8 L510.8 379.4 L512.3 379.9 L513.8 380.3 L515.4 380.6 L516.9 380.6 L518.4 380.3 L519.9 380.0 L521.4 380.0 L522.9 380.5 L524.4 381.3 L526.0 381.2 L527.5 380.9 L529.0 381.3 L530.5 381.7 L532.0 381.8 L533.5 381.9 L535.1 382.0 L536.6 382.0 L538.1 382.1 L539.6 382.3 L541.1 382.6 L542.6 382.8 L544.1 383.0 L545.7 383.3 L547.2 383.4 L548.7 383.4 L550.2 383.6 L551.7 383.9 L553.2 384.1 L554.8 384.4 L556.3 384.5 L557.8 384.2 L559.3 384.3 L560.8 384.4 L562.3 384.5 L563.8 384.9 L565.4 385.0 L566.9 384.5 L568.4 384.5 L569.9 384.9 L571.4 385.1 L572.9 385.7 L574.5 386.1 L576.0 385.9 L577.5 385.7 L579.0 386.1 L580.5 386.5 L582.0 387.3 L583.5 387.7 L585.1 387.5 L586.6 387.5 L588.1 387.6 L589.6 387.5 L591.1 387.4 L592.6 387.6 L594.2 388.2 L595.7 388.2 L597.2 387.9 L598.7 387.7 L600.2 388.1 L601.7 388.7 L603.2 388.5 L604.8 388.3 L606.3 388.7 L607.8 388.9 L609.3 389.0 L610.8 389.5 L612.3 389.9 L613.9 390.2 L615.4 389.9 L616.9 389.4 L618.4 389.7 L619.9 390.0 L621.4 389.8 L623.0 390.2 L624.5 390.2 L626.0 389.6 L627.5 389.8 L629.0 390.0 L630.5 389.9 L632.0 390.1 L633.6 390.4" fill="none" stroke="#14146e" stroke-width="2.3" stroke-linejoin="round" stroke-linecap="round"/>
<path d="M148.6 319.0 L150.1 319.2 L151.6 319.2 L153.1 319.4 L154.7 319.9 L156.2 320.7 L157.7 321.4 L159.2 321.5 L160.7 321.2 L162.2 321.5 L163.8 321.8 L165.3 321.9 L166.8 322.3 L168.3 322.7 L169.8 323.3 L171.3 323.8 L172.8 323.4 L174.4 323.0 L175.9 323.5 L177.4 324.1 L178.9 324.5 L180.4 324.5 L181.9 324.5 L183.5 324.9 L185.0 325.7 L186.5 326.2 L188.0 326.5 L189.5 327.0 L191.0 327.2 L192.5 327.7 L194.1 328.2 L195.6 328.1 L197.1 328.3 L198.6 328.8 L200.1 329.0 L201.6 328.9 L203.2 329.0 L204.7 329.5 L206.2 329.8 L207.7 329.9 L209.2 330.6 L210.7 330.9 L212.3 330.8 L213.8 331.2 L215.3 331.8 L216.8 332.0 L218.3 331.5 L219.8 331.5 L221.3 332.1 L222.9 332.2 L224.4 332.1 L225.9 332.6 L227.4 333.2 L228.9 333.3 L230.4 333.0 L232.0 333.0 L233.5 333.6 L235.0 334.0 L236.5 334.2 L238.0 334.8 L239.5 335.3 L241.0 335.2 L242.6 335.2 L244.1 335.7 L245.6 336.2 L247.1 336.5 L248.6 336.6 L250.1 336.6 L251.7 336.9 L253.2 337.4 L254.7 337.8 L256.2 338.0 L257.7 338.0 L259.2 337.8 L260.7 337.8 L262.3 338.4 L263.8 338.9 L265.3 339.3 L266.8 339.4 L268.3 339.2 L269.8 339.4 L271.4 340.0 L272.9 340.1 L274.4 339.5 L275.9 339.7 L277.4 341.0 L278.9 341.7 L280.4 341.7 L282.0 341.7 L283.5 341.9 L285.0 342.1 L286.5 341.9 L288.0 341.7 L289.5 342.4 L291.1 342.8 L292.6 342.5 L294.1 343.0 L295.6 343.6 L297.1 343.8 L298.6 344.0 L300.1 344.4 L301.7 344.8 L303.2 345.3 L304.7 345.8 L306.2 345.8 L307.7 345.6 L309.2 345.6 L310.8 346.2 L312.3 346.9 L313.8 347.1 L315.3 347.7 L316.8 348.6 L318.3 349.1 L319.9 349.7 L321.4 350.1 L322.9 350.0 L324.4 350.1 L325.9 350.3 L327.4 350.5 L328.9 350.6 L330.5 351.1 L332.0 351.8 L333.5 352.1 L335.0 352.0 L336.5 352.5 L338.0 353.5 L339.6 354.0 L341.1 353.9 L342.6 354.1 L344.1 354.6 L345.6 355.0 L347.1 355.7 L348.6 355.8 L350.2 355.8 L351.7 356.3 L353.2 356.6 L354.7 356.8 L356.2 357.5 L357.7 358.0 L359.3 358.0 L360.8 357.8 L362.3 357.9 L363.8 357.9 L365.3 358.2 L366.8 358.8 L368.3 358.9 L369.9 358.7 L371.4 359.0 L372.9 359.6 L374.4 359.9 L375.9 359.7 L377.4 359.9 L379.0 360.4 L380.5 360.7 L382.0 361.0 L383.5 361.0 L385.0 361.2 L386.5 361.8 L388.0 362.1 L389.6 362.6 L391.1 362.7 L392.6 362.7 L394.1 363.3 L395.6 363.8 L397.1 364.0 L398.7 363.9 L400.2 363.7 L401.7 363.8 L403.2 364.2 L404.7 364.5 L406.2 364.7 L407.8 364.6 L409.3 365.1 L410.8 365.7 L412.3 365.7 L413.8 365.9 L415.3 366.5 L416.8 366.8 L418.4 366.5 L419.9 366.5 L421.4 367.3 L422.9 367.7 L424.4 367.4 L425.9 367.6 L427.5 368.5 L429.0 368.8 L430.5 368.7 L432.0 368.9 L433.5 369.1 L435.0 369.0 L436.5 368.9 L438.1 368.9 L439.6 369.0 L441.1 369.5 L442.6 370.4 L444.1 371.0 L445.6 370.6 L447.2 370.3 L448.7 370.7 L450.2 370.8 L451.7 370.9 L453.2 371.4 L454.7 371.4 L456.2 371.2 L457.8 371.2 L459.3 371.3 L460.8 371.7 L462.3 372.2 L463.8 372.4 L465.3 372.4 L466.9 372.5 L468.4 372.9 L469.9 373.6 L471.4 374.0 L472.9 373.6 L474.4 373.7 L475.9 374.4 L477.5 374.6 L479.0 374.3 L480.5 374.2 L482.0 374.1 L483.5 374.2 L485.0 374.6 L486.6 374.6 L488.1 374.6 L489.6 374.7 L491.1 374.7 L492.6 375.2 L494.1 375.9 L495.6 376.4 L497.2 376.3 L498.7 376.3 L500.2 376.4 L501.7 376.5 L503.2 376.7 L504.7 377.0 L506.3 377.4 L507.8 377.2 L509.3 376.7 L510.8 376.8 L512.3 377.3 L513.8 377.9 L515.4 377.9 L516.9 377.4 L518.4 377.2 L519.9 377.6 L521.4 377.8 L522.9 378.0 L524.4 378.3 L526.0 378.3 L527.5 378.5 L529.0 378.8 L530.5 378.7 L532.0 378.7 L533.5 379.2 L535.1 379.9 L536.6 380.2 L538.1 379.9 L539.6 379.5 L541.1 379.4 L542.6 379.8 L544.1 380.1 L545.7 380.2 L547.2 380.5 L548.7 380.6 L550.2 380.7 L551.7 381.0 L553.2 381.3 L554.8 381.7 L556.3 381.7 L557.8 381.5 L559.3 381.6 L560.8 381.7 L562.3 381.8 L563.8 381.8 L565.4 381.7 L566.9 382.0 L568.4 382.7 L569.9 382.8 L571.4 383.0 L572.9 383.2 L574.5 382.9 L576.0 383.3 L577.5 384.0 L579.0 383.8 L580.5 383.3 L582.0 383.1 L583.5 383.2 L585.1 383.6 L586.6 383.7 L588.1 383.3 L589.6 383.6 L591.1 384.4 L592.6 384.7 L594.2 385.1 L595.7 385.6 L597.2 385.7 L598.7 385.5 L600.2 385.7 L601.7 385.6 L603.2 385.0 L604.8 385.3 L606.3 386.1 L607.8 386.6 L609.3 386.8 L610.8 387.2 L612.3 387.0 L613.9 386.4 L615.4 386.4 L616.9 386.6 L618.4 386.7 L619.9 387.1 L621.4 387.5 L623.0 387.3 L624.5 387.0 L626.0 387.4 L627.5 387.7 L629.0 388.0 L630.5 388.6 L632.0 389.0 L633.6 389.0" fill="none" stroke="#7e1e1e" stroke-width="2.3" stroke-linejoin="round" stroke-linecap="round"/>
<path d="M148.6 328.8 L150.1 329.3 L151.6 329.9 L153.1 329.9 L154.7 329.5 L156.2 329.5 L157.7 329.9 L159.2 330.2 L160.7 330.4 L162.2 330.7 L163.8 331.0 L165.3 331.5 L166.8 332.1 L168.3 332.1 L169.8 331.8 L171.3 331.8 L172.8 332.7 L174.4 333.1 L175.9 332.8 L177.4 333.0 L178.9 333.7 L180.4 334.1 L181.9 334.2 L183.5 333.7 L185.0 333.5 L186.5 334.4 L188.0 335.0 L189.5 335.2 L191.0 335.4 L192.5 335.5 L194.1 335.9 L195.6 336.6 L197.1 336.7 L198.6 336.5 L200.1 336.6 L201.6 336.9 L203.2 337.3 L204.7 337.6 L206.2 337.7 L207.7 338.4 L209.2 339.0 L210.7 339.1 L212.3 338.7 L213.8 338.3 L215.3 338.9 L216.8 339.3 L218.3 339.4 L219.8 340.2 L221.3 341.0 L222.9 341.1 L224.4 341.4 L225.9 341.8 L227.4 341.8 L228.9 341.4 L230.4 341.2 L232.0 341.6 L233.5 342.4 L235.0 343.0 L236.5 343.6 L238.0 344.0 L239.5 344.2 L241.0 344.6 L242.6 344.2 L244.1 343.9 L245.6 344.4 L247.1 345.0 L248.6 345.7 L250.1 346.2 L251.7 346.0 L253.2 346.0 L254.7 346.2 L256.2 346.4 L257.7 346.7 L259.2 347.1 L260.7 347.2 L262.3 347.4 L263.8 348.0 L265.3 348.3 L266.8 348.2 L268.3 348.5 L269.8 349.3 L271.4 349.9 L272.9 349.7 L274.4 349.6 L275.9 350.1 L277.4 350.8 L278.9 351.1 L280.4 351.2 L282.0 351.3 L283.5 351.6 L285.0 352.2 L286.5 352.3 L288.0 351.9 L289.5 352.5 L291.1 353.3 L292.6 353.4 L294.1 353.3 L295.6 353.4 L297.1 353.9 L298.6 354.4 L300.1 354.8 L301.7 355.4 L303.2 355.5 L304.7 355.2 L306.2 355.5 L307.7 356.1 L309.2 356.7 L310.8 357.0 L312.3 356.9 L313.8 356.8 L315.3 356.9 L316.8 357.6 L318.3 358.1 L319.9 358.4 L321.4 358.4 L322.9 358.0 L324.4 358.1 L325.9 359.1 L327.4 359.8 L328.9 359.7 L330.5 359.8 L332.0 360.5 L333.5 360.7 L335.0 360.5 L336.5 360.8 L338.0 361.1 L339.6 361.4 L341.1 361.6 L342.6 361.7 L344.1 362.3 L345.6 362.5 L347.1 362.4 L348.6 362.2 L350.2 362.4 L351.7 363.1 L353.2 363.5 L354.7 363.5 L356.2 363.7 L357.7 364.3 L359.3 364.8 L360.8 364.7 L362.3 364.6 L363.8 364.8 L365.3 364.8 L366.8 364.6 L368.3 364.9 L369.9 365.9 L371.4 366.9 L372.9 367.2 L374.4 367.1 L375.9 367.1 L377.4 367.2 L379.0 367.4 L380.5 367.2 L382.0 367.5 L383.5 368.1 L385.0 367.9 L386.5 367.7 L388.0 368.0 L389.6 368.3 L391.1 368.4 L392.6 368.6 L394.1 369.1 L395.6 369.5 L397.1 369.7 L398.7 369.8 L400.2 370.2 L401.7 370.5 L403.2 370.5 L404.7 370.3 L406.2 370.6 L407.8 371.1 L409.3 371.1 L410.8 371.1 L412.3 371.2 L413.8 371.5 L415.3 371.8 L416.8 372.3 L418.4 372.6 L419.9 372.3 L421.4 372.3 L422.9 372.8 L424.4 372.7 L425.9 372.4 L427.5 372.5 L429.0 372.7 L430.5 373.1 L432.0 373.4 L433.5 373.3 L435.0 373.8 L436.5 374.2 L438.1 374.1 L439.6 374.4 L441.1 374.7 L442.6 374.8 L444.1 374.6 L445.6 374.7 L447.2 375.2 L448.7 375.3 L450.2 375.4 L451.7 375.7 L453.2 375.9 L454.7 376.2 L456.2 376.7 L457.8 376.9 L459.3 376.6 L460.8 376.4 L462.3 376.5 L463.8 376.7 L465.3 377.0 L466.9 377.1 L468.4 377.2 L469.9 377.6 L471.4 377.8 L472.9 378.0 L474.4 377.9 L475.9 377.6 L477.5 378.1 L479.0 378.8 L480.5 378.9 L482.0 378.7 L483.5 378.6 L485.0 379.1 L486.6 379.5 L488.1 379.7 L489.6 379.7 L491.1 379.4 L492.6 379.2 L494.1 379.5 L495.6 380.1 L497.2 380.4 L498.7 380.4 L500.2 380.4 L501.7 380.5 L503.2 381.0 L504.7 381.3 L506.3 381.6 L507.8 382.0 L509.3 382.3 L510.8 382.1 L512.3 381.8 L513.8 382.1 L515.4 382.6 L516.9 382.8 L518.4 382.8 L519.9 382.5 L521.4 382.3 L522.9 382.5 L524.4 382.8 L526.0 382.8 L527.5 383.0 L529.0 383.3 L530.5 383.5 L532.0 383.9 L533.5 383.9 L535.1 383.6 L536.6 383.7 L538.1 384.1 L539.6 384.3 L541.1 383.8 L542.6 383.4 L544.1 383.8 L545.7 384.3 L547.2 384.4 L548.7 384.5 L550.2 384.4 L551.7 384.1 L553.2 384.6 L554.8 385.0 L556.3 385.1 L557.8 385.7 L559.3 386.1 L560.8 386.1 L562.3 385.7 L563.8 385.6 L565.4 385.7 L566.9 385.4 L568.4 385.4 L569.9 385.7 L571.4 386.5 L572.9 387.3 L574.5 387.2 L576.0 386.7 L577.5 386.8 L579.0 387.0 L580.5 386.8 L582.0 386.6 L583.5 386.7 L585.1 387.2 L586.6 387.4 L588.1 387.6 L589.6 388.2 L591.1 388.6 L592.6 388.7 L594.2 388.9 L595.7 388.8 L597.2 388.4 L598.7 388.2 L600.2 388.1 L601.7 388.5 L603.2 388.9 L604.8 388.9 L606.3 388.8 L607.8 388.9 L609.3 389.2 L610.8 389.4 L612.3 389.7 L613.9 390.0 L615.4 389.9 L616.9 389.8 L618.4 390.2 L619.9 390.3 L621.4 389.9 L623.0 390.3 L624.5 390.9 L626.0 391.0 L627.5 391.0 L629.0 391.0 L630.5 391.1 L632.0 391.3 L633.6 391.4" fill="none" stroke="#e0388a" stroke-width="2.4" stroke-linejoin="round" stroke-linecap="round"/>
<path d="M148.6 320.5 L150.1 320.3 L151.6 320.7 L153.1 321.3 L154.7 321.6 L156.2 321.6 L157.7 321.5 L159.2 321.8 L160.7 322.0 L162.2 321.8 L163.8 322.2 L165.3 323.0 L166.8 323.7 L168.3 324.0 L169.8 324.0 L171.3 323.7 L172.8 323.9 L174.4 324.2 L175.9 324.6 L177.4 325.0 L178.9 325.0 L180.4 325.1 L181.9 325.5 L183.5 325.7 L185.0 326.0 L186.5 326.5 L188.0 326.7 L189.5 327.0 L191.0 327.2 L192.5 327.6 L194.1 328.3 L195.6 328.4 L197.1 327.9 L198.6 327.6 L200.1 328.0 L201.6 328.5 L203.2 328.5 L204.7 328.9 L206.2 329.5 L207.7 329.5 L209.2 329.2 L210.7 329.7 L212.3 330.6 L213.8 330.9 L215.3 331.0 L216.8 331.5 L218.3 331.6 L219.8 331.6 L221.3 332.2 L222.9 332.5 L224.4 332.5 L225.9 332.5 L227.4 332.6 L228.9 332.9 L230.4 333.2 L232.0 333.5 L233.5 333.9 L235.0 333.9 L236.5 334.0 L238.0 334.7 L239.5 335.3 L241.0 335.3 L242.6 335.2 L244.1 335.7 L245.6 336.5 L247.1 336.8 L248.6 337.1 L250.1 337.2 L251.7 337.2 L253.2 337.7 L254.7 338.0 L256.2 337.8 L257.7 337.8 L259.2 338.4 L260.7 338.8 L262.3 338.8 L263.8 338.9 L265.3 339.2 L266.8 339.2 L268.3 339.4 L269.8 339.7 L271.4 339.8 L272.9 340.2 L274.4 340.7 L275.9 340.9 L277.4 340.9 L278.9 341.0 L280.4 341.6 L282.0 342.1 L283.5 342.3 L285.0 342.6 L286.5 343.5 L288.0 343.9 L289.5 343.6 L291.1 343.5 L292.6 343.8 L294.1 344.5 L295.6 345.4 L297.1 345.8 L298.6 345.6 L300.1 345.6 L301.7 345.6 L303.2 345.9 L304.7 346.3 L306.2 346.5 L307.7 347.0 L309.2 347.5 L310.8 348.1 L312.3 348.4 L313.8 348.2 L315.3 348.6 L316.8 349.3 L318.3 350.2 L319.9 351.1 L321.4 351.6 L322.9 352.1 L324.4 352.9 L325.9 353.2 L327.4 353.0 L328.9 353.2 L330.5 353.5 L332.0 353.7 L333.5 354.5 L335.0 354.8 L336.5 355.0 L338.0 355.4 L339.6 356.2 L341.1 356.9 L342.6 357.2 L344.1 357.1 L345.6 357.3 L347.1 357.4 L348.6 357.7 L350.2 358.0 L351.7 358.4 L353.2 358.6 L354.7 359.1 L356.2 360.1 L357.7 360.3 L359.3 359.8 L360.8 360.0 L362.3 360.9 L363.8 361.2 L365.3 360.8 L366.8 360.9 L368.3 361.8 L369.9 362.5 L371.4 362.2 L372.9 361.9 L374.4 362.2 L375.9 362.5 L377.4 362.9 L379.0 363.3 L380.5 363.3 L382.0 363.3 L383.5 363.9 L385.0 364.5 L386.5 364.6 L388.0 364.6 L389.6 364.7 L391.1 364.7 L392.6 365.0 L394.1 365.3 L395.6 365.4 L397.1 365.4 L398.7 365.1 L400.2 365.6 L401.7 366.5 L403.2 367.2 L404.7 367.4 L406.2 367.0 L407.8 366.9 L409.3 367.5 L410.8 367.8 L412.3 367.4 L413.8 367.4 L415.3 368.2 L416.8 368.7 L418.4 368.7 L419.9 368.5 L421.4 368.7 L422.9 369.2 L424.4 369.6 L425.9 370.1 L427.5 370.4 L429.0 370.4 L430.5 370.0 L432.0 370.1 L433.5 370.5 L435.0 370.9 L436.5 371.5 L438.1 371.9 L439.6 371.8 L441.1 371.7 L442.6 371.6 L444.1 371.4 L445.6 371.6 L447.2 372.4 L448.7 372.6 L450.2 372.6 L451.7 373.2 L453.2 373.1 L454.7 372.8 L456.2 373.1 L457.8 373.4 L459.3 373.5 L460.8 373.9 L462.3 374.2 L463.8 374.1 L465.3 374.2 L466.9 374.1 L468.4 373.9 L469.9 374.5 L471.4 375.4 L472.9 375.3 L474.4 374.9 L475.9 375.2 L477.5 375.7 L479.0 375.9 L480.5 376.0 L482.0 376.6 L483.5 376.9 L485.0 376.4 L486.6 376.5 L488.1 376.9 L489.6 377.0 L491.1 377.2 L492.6 377.5 L494.1 377.8 L495.6 378.0 L497.2 378.1 L498.7 378.2 L500.2 378.0 L501.7 378.2 L503.2 378.4 L504.7 378.5 L506.3 379.1 L507.8 379.7 L509.3 379.2 L510.8 378.8 L512.3 379.5 L513.8 380.2 L515.4 380.1 L516.9 379.8 L518.4 379.8 L519.9 379.8 L521.4 379.6 L522.9 379.7 L524.4 380.2 L526.0 380.7 L527.5 380.8 L529.0 380.8 L530.5 380.7 L532.0 381.2 L533.5 381.7 L535.1 381.3 L536.6 381.2 L538.1 381.4 L539.6 381.3 L541.1 381.9 L542.6 382.8 L544.1 383.1 L545.7 383.2 L547.2 383.3 L548.7 383.3 L550.2 383.1 L551.7 383.4 L553.2 383.8 L554.8 383.6 L556.3 383.5 L557.8 383.6 L559.3 384.3 L560.8 384.9 L562.3 384.6 L563.8 384.2 L565.4 384.3 L566.9 384.8 L568.4 385.3 L569.9 385.5 L571.4 385.6 L572.9 385.6 L574.5 385.4 L576.0 385.2 L577.5 385.2 L579.0 385.5 L580.5 385.7 L582.0 385.8 L583.5 386.1 L585.1 386.4 L586.6 386.2 L588.1 386.3 L589.6 386.4 L591.1 386.2 L592.6 386.3 L594.2 386.3 L595.7 386.1 L597.2 386.3 L598.7 386.8 L600.2 387.5 L601.7 388.5 L603.2 388.9 L604.8 388.1 L606.3 387.3 L607.8 387.7 L609.3 388.2 L610.8 387.9 L612.3 387.8 L613.9 388.0 L615.4 388.2 L616.9 388.5 L618.4 388.9 L619.9 389.5 L621.4 389.8 L623.0 389.5 L624.5 389.2 L626.0 389.1 L627.5 389.3 L629.0 390.0 L630.5 390.1 L632.0 390.0 L633.6 390.2" fill="none" stroke="#1a8a1a" stroke-width="2.3" stroke-linejoin="round" stroke-linecap="round"/>
<path d="M148.6 330.7 L150.1 330.8 L151.6 331.1 L153.1 331.4 L154.7 331.7 L156.2 332.0 L157.7 332.0 L159.2 332.2 L160.7 332.6 L162.2 332.5 L163.8 332.7 L165.3 333.4 L166.8 333.9 L168.3 333.9 L169.8 333.7 L171.3 333.9 L172.8 334.6 L174.4 335.0 L175.9 335.2 L177.4 335.1 L178.9 335.1 L180.4 335.5 L181.9 336.1 L183.5 336.2 L185.0 336.1 L186.5 336.5 L188.0 336.9 L189.5 336.9 L191.0 336.9 L192.5 337.4 L194.1 338.0 L195.6 338.2 L197.1 338.2 L198.6 338.5 L200.1 338.2 L201.6 337.9 L203.2 338.4 L204.7 339.4 L206.2 339.9 L207.7 339.6 L209.2 339.8 L210.7 340.2 L212.3 340.4 L213.8 340.8 L215.3 340.9 L216.8 341.0 L218.3 341.4 L219.8 341.6 L221.3 342.0 L222.9 342.5 L224.4 342.5 L225.9 342.7 L227.4 343.2 L228.9 343.4 L230.4 343.3 L232.0 343.5 L233.5 344.1 L235.0 344.3 L236.5 344.1 L238.0 344.4 L239.5 344.9 L241.0 345.1 L242.6 345.0 L244.1 345.0 L245.6 345.2 L247.1 345.3 L248.6 346.1 L250.1 347.3 L251.7 347.8 L253.2 347.7 L254.7 347.5 L256.2 347.9 L257.7 348.2 L259.2 348.1 L260.7 348.1 L262.3 348.5 L263.8 349.0 L265.3 349.1 L266.8 349.3 L268.3 349.9 L269.8 350.3 L271.4 350.6 L272.9 350.9 L274.4 351.4 L275.9 351.8 L277.4 351.7 L278.9 352.0 L280.4 352.5 L282.0 352.8 L283.5 353.5 L285.0 353.5 L286.5 353.0 L288.0 353.3 L289.5 353.8 L291.1 353.8 L292.6 354.3 L294.1 354.8 L295.6 354.9 L297.1 354.9 L298.6 355.4 L300.1 356.0 L301.7 356.2 L303.2 356.0 L304.7 356.0 L306.2 356.4 L307.7 356.6 L309.2 357.1 L310.8 357.8 L312.3 357.7 L313.8 357.5 L315.3 358.0 L316.8 358.6 L318.3 358.7 L319.9 358.5 L321.4 359.0 L322.9 359.4 L324.4 359.8 L325.9 360.5 L327.4 360.5 L328.9 360.4 L330.5 360.7 L332.0 360.9 L333.5 361.0 L335.0 360.8 L336.5 361.0 L338.0 361.9 L339.6 362.4 L341.1 362.8 L342.6 363.1 L344.1 363.0 L345.6 363.0 L347.1 363.1 L348.6 363.7 L350.2 364.5 L351.7 364.8 L353.2 364.9 L354.7 364.5 L356.2 364.3 L357.7 364.7 L359.3 365.1 L360.8 365.1 L362.3 365.1 L363.8 365.5 L365.3 366.0 L366.8 366.1 L368.3 366.0 L369.9 366.3 L371.4 366.7 L372.9 366.8 L374.4 366.9 L375.9 367.1 L377.4 367.6 L379.0 368.0 L380.5 368.1 L382.0 368.1 L383.5 368.4 L385.0 368.7 L386.5 368.7 L388.0 369.0 L389.6 369.5 L391.1 369.8 L392.6 369.9 L394.1 369.8 L395.6 369.7 L397.1 369.8 L398.7 370.1 L400.2 370.2 L401.7 370.5 L403.2 371.1 L404.7 371.2 L406.2 371.2 L407.8 371.5 L409.3 371.8 L410.8 372.0 L412.3 372.1 L413.8 372.1 L415.3 372.1 L416.8 372.2 L418.4 372.5 L419.9 372.9 L421.4 373.2 L422.9 373.0 L424.4 373.1 L425.9 373.7 L427.5 374.3 L429.0 374.2 L430.5 374.1 L432.0 374.6 L433.5 374.7 L435.0 374.6 L436.5 374.8 L438.1 375.2 L439.6 375.4 L441.1 375.5 L442.6 375.2 L444.1 375.0 L445.6 375.3 L447.2 375.4 L448.7 375.7 L450.2 375.7 L451.7 375.4 L453.2 375.8 L454.7 376.8 L456.2 377.7 L457.8 377.6 L459.3 377.3 L460.8 377.7 L462.3 377.8 L463.8 377.9 L465.3 378.3 L466.9 378.4 L468.4 377.7 L469.9 377.6 L471.4 378.3 L472.9 378.5 L474.4 378.6 L475.9 379.1 L477.5 379.3 L479.0 379.3 L480.5 379.7 L482.0 379.5 L483.5 379.4 L485.0 379.7 L486.6 379.3 L488.1 379.3 L489.6 379.9 L491.1 379.9 L492.6 380.3 L494.1 380.9 L495.6 381.1 L497.2 380.9 L498.7 380.7 L500.2 381.4 L501.7 381.9 L503.2 381.8 L504.7 381.4 L506.3 381.1 L507.8 381.7 L509.3 382.3 L510.8 382.5 L512.3 382.8 L513.8 383.0 L515.4 382.8 L516.9 382.8 L518.4 382.7 L519.9 382.3 L521.4 382.3 L522.9 382.8 L524.4 383.4 L526.0 383.6 L527.5 383.7 L529.0 383.8 L530.5 383.9 L532.0 383.9 L533.5 383.8 L535.1 383.9 L536.6 383.8 L538.1 384.0 L539.6 384.3 L541.1 384.5 L542.6 384.8 L544.1 384.8 L545.7 384.7 L547.2 384.3 L548.7 384.0 L550.2 385.2 L551.7 385.8 L553.2 385.4 L554.8 385.7 L556.3 386.2 L557.8 386.3 L559.3 386.4 L560.8 386.3 L562.3 386.2 L563.8 386.4 L565.4 386.5 L566.9 386.3 L568.4 386.6 L569.9 387.1 L571.4 387.6 L572.9 387.9 L574.5 387.8 L576.0 387.4 L577.5 387.5 L579.0 387.7 L580.5 387.6 L582.0 387.4 L583.5 387.4 L585.1 387.6 L586.6 388.2 L588.1 388.5 L589.6 388.3 L591.1 388.3 L592.6 388.6 L594.2 388.8 L595.7 388.6 L597.2 388.5 L598.7 388.7 L600.2 388.8 L601.7 389.0 L603.2 389.1 L604.8 389.0 L606.3 389.2 L607.8 389.6 L609.3 389.8 L610.8 389.7 L612.3 389.8 L613.9 390.0 L615.4 390.0 L616.9 390.1 L618.4 390.4 L619.9 390.6 L621.4 390.4 L623.0 390.4 L624.5 390.5 L626.0 390.3 L627.5 390.4 L629.0 390.8 L630.5 390.8 L632.0 391.0 L633.6 391.4" fill="none" stroke="#1a1aa8" stroke-width="2.4" stroke-linejoin="round" stroke-linecap="round"/>
<path d="M148.6 332.9 L150.1 333.0 L151.6 332.5 L153.1 332.7 L154.7 333.0 L156.2 332.8 L157.7 332.7 L159.2 333.0 L160.7 333.0 L162.2 332.8 L163.8 333.0 L165.3 334.3 L166.8 335.1 L168.3 335.2 L169.8 335.2 L171.3 335.4 L172.8 335.8 L174.4 336.2 L175.9 336.0 L177.4 335.7 L178.9 335.9 L180.4 336.3 L181.9 336.8 L183.5 337.4 L185.0 338.1 L186.5 338.1 L188.0 337.6 L189.5 337.5 L191.0 338.3 L192.5 338.8 L194.1 338.6 L195.6 339.0 L197.1 339.6 L198.6 340.4 L200.1 341.0 L201.6 340.4 L203.2 340.2 L204.7 340.4 L206.2 340.7 L207.7 340.6 L209.2 340.5 L210.7 341.0 L212.3 341.7 L213.8 342.1 L215.3 342.5 L216.8 342.8 L218.3 342.7 L219.8 342.9 L221.3 343.7 L222.9 343.7 L224.4 343.2 L225.9 343.3 L227.4 343.4 L228.9 343.7 L230.4 344.2 L232.0 344.4 L233.5 344.3 L235.0 344.6 L236.5 345.7 L238.0 346.7 L239.5 346.8 L241.0 346.8 L242.6 346.9 L244.1 346.8 L245.6 346.8 L247.1 347.1 L248.6 347.4 L250.1 347.7 L251.7 348.0 L253.2 348.5 L254.7 349.0 L256.2 349.2 L257.7 349.1 L259.2 349.3 L260.7 349.9 L262.3 350.1 L263.8 349.7 L265.3 349.8 L266.8 350.1 L268.3 350.5 L269.8 351.0 L271.4 351.3 L272.9 351.9 L274.4 352.5 L275.9 352.5 L277.4 352.5 L278.9 352.8 L280.4 353.3 L282.0 353.8 L283.5 354.1 L285.0 354.3 L286.5 354.8 L288.0 355.0 L289.5 355.1 L291.1 355.3 L292.6 355.5 L294.1 356.0 L295.6 356.9 L297.1 357.4 L298.6 357.5 L300.1 357.3 L301.7 357.3 L303.2 357.4 L304.7 357.5 L306.2 357.8 L307.7 358.3 L309.2 358.9 L310.8 359.0 L312.3 358.8 L313.8 358.4 L315.3 358.8 L316.8 359.7 L318.3 359.7 L319.9 359.6 L321.4 359.8 L322.9 360.1 L324.4 360.4 L325.9 360.7 L327.4 361.0 L328.9 361.6 L330.5 362.0 L332.0 361.9 L333.5 361.8 L335.0 362.3 L336.5 362.8 L338.0 362.6 L339.6 362.5 L341.1 362.8 L342.6 363.2 L344.1 363.9 L345.6 364.5 L347.1 364.6 L348.6 364.9 L350.2 364.6 L351.7 364.2 L353.2 364.5 L354.7 365.1 L356.2 365.4 L357.7 365.8 L359.3 366.2 L360.8 366.2 L362.3 366.2 L363.8 366.6 L365.3 367.4 L366.8 367.9 L368.3 367.7 L369.9 367.7 L371.4 367.7 L372.9 367.9 L374.4 368.2 L375.9 368.3 L377.4 368.2 L379.0 367.7 L380.5 367.7 L382.0 368.6 L383.5 369.2 L385.0 369.3 L386.5 369.4 L388.0 369.9 L389.6 369.9 L391.1 369.7 L392.6 369.7 L394.1 369.5 L395.6 369.9 L397.1 370.5 L398.7 370.7 L400.2 371.2 L401.7 371.6 L403.2 371.6 L404.7 371.6 L406.2 371.3 L407.8 371.8 L409.3 372.8 L410.8 372.9 L412.3 372.6 L413.8 372.4 L415.3 372.6 L416.8 372.9 L418.4 373.2 L419.9 373.6 L421.4 373.5 L422.9 373.4 L424.4 373.9 L425.9 374.1 L427.5 373.9 L429.0 373.5 L430.5 373.6 L432.0 374.5 L433.5 375.0 L435.0 375.0 L436.5 375.3 L438.1 375.6 L439.6 375.6 L441.1 375.0 L442.6 374.9 L444.1 375.8 L445.6 376.9 L447.2 377.0 L448.7 376.8 L450.2 377.1 L451.7 377.2 L453.2 377.2 L454.7 377.1 L456.2 377.2 L457.8 377.7 L459.3 378.0 L460.8 378.1 L462.3 378.4 L463.8 378.8 L465.3 378.5 L466.9 378.2 L468.4 378.6 L469.9 378.8 L471.4 378.9 L472.9 379.1 L474.4 379.1 L475.9 379.3 L477.5 379.7 L479.0 379.7 L480.5 379.6 L482.0 379.8 L483.5 379.7 L485.0 379.6 L486.6 380.3 L488.1 380.7 L489.6 380.5 L491.1 380.8 L492.6 380.9 L494.1 380.5 L495.6 380.4 L497.2 381.0 L498.7 381.5 L500.2 381.1 L501.7 381.1 L503.2 381.6 L504.7 381.8 L506.3 381.8 L507.8 382.1 L509.3 382.2 L510.8 382.1 L512.3 381.8 L513.8 382.0 L515.4 382.6 L516.9 382.6 L518.4 382.8 L519.9 383.6 L521.4 383.6 L522.9 383.4 L524.4 383.5 L526.0 383.5 L527.5 383.8 L529.0 384.1 L530.5 384.4 L532.0 384.8 L533.5 384.3 L535.1 383.7 L536.6 384.0 L538.1 384.2 L539.6 384.1 L541.1 384.4 L542.6 384.9 L544.1 385.0 L545.7 385.1 L547.2 385.7 L548.7 385.9 L550.2 385.4 L551.7 385.2 L553.2 385.1 L554.8 384.9 L556.3 385.8 L557.8 386.3 L559.3 386.2 L560.8 386.5 L562.3 386.3 L563.8 386.2 L565.4 387.0 L566.9 387.7 L568.4 387.5 L569.9 387.5 L571.4 387.5 L572.9 387.5 L574.5 387.1 L576.0 386.7 L577.5 386.8 L579.0 386.9 L580.5 387.5 L582.0 388.4 L583.5 388.7 L585.1 388.3 L586.6 387.6 L588.1 387.6 L589.6 388.7 L591.1 389.1 L592.6 388.9 L594.2 388.9 L595.7 389.0 L597.2 389.2 L598.7 389.4 L600.2 389.6 L601.7 389.7 L603.2 389.2 L604.8 389.1 L606.3 389.9 L607.8 390.4 L609.3 390.2 L610.8 389.9 L612.3 389.7 L613.9 389.8 L615.4 390.3 L616.9 390.6 L618.4 390.3 L619.9 389.9 L621.4 390.2 L623.0 390.8 L624.5 390.9 L626.0 390.8 L627.5 391.0 L629.0 390.6 L630.5 390.4 L632.0 390.7 L633.6 391.0" fill="none" stroke="#ec9030" stroke-width="2.4" stroke-linejoin="round" stroke-linecap="round"/>
<path d="M148.6 336.1 L150.1 336.1 L151.6 336.3 L153.1 336.7 L154.7 337.0 L156.2 337.0 L157.7 337.0 L159.2 337.1 L160.7 337.5 L162.2 338.1 L163.8 338.4 L165.3 338.5 L166.8 338.7 L168.3 339.4 L169.8 339.6 L171.3 339.1 L172.8 339.4 L174.4 339.8 L175.9 340.1 L177.4 340.4 L178.9 340.7 L180.4 340.8 L181.9 340.7 L183.5 340.8 L185.0 341.5 L186.5 342.2 L188.0 342.6 L189.5 342.6 L191.0 342.5 L192.5 342.6 L194.1 343.2 L195.6 343.2 L197.1 343.0 L198.6 343.1 L200.1 343.3 L201.6 343.4 L203.2 343.6 L204.7 344.2 L206.2 344.4 L207.7 344.8 L209.2 345.1 L210.7 345.1 L212.3 345.2 L213.8 345.2 L215.3 345.5 L216.8 346.0 L218.3 345.9 L219.8 345.7 L221.3 346.1 L222.9 346.5 L224.4 346.5 L225.9 346.7 L227.4 347.1 L228.9 347.4 L230.4 347.4 L232.0 347.6 L233.5 348.5 L235.0 349.2 L236.5 348.9 L238.0 348.9 L239.5 349.5 L241.0 350.0 L242.6 350.3 L244.1 350.3 L245.6 350.4 L247.1 350.2 L248.6 349.9 L250.1 350.0 L251.7 350.3 L253.2 350.9 L254.7 351.2 L256.2 351.6 L257.7 352.7 L259.2 352.9 L260.7 352.5 L262.3 353.1 L263.8 353.8 L265.3 353.7 L266.8 353.4 L268.3 353.4 L269.8 353.9 L271.4 354.6 L272.9 354.8 L274.4 354.9 L275.9 355.1 L277.4 355.6 L278.9 355.9 L280.4 355.8 L282.0 356.0 L283.5 356.6 L285.0 357.3 L286.5 357.6 L288.0 357.3 L289.5 357.4 L291.1 357.8 L292.6 357.8 L294.1 358.0 L295.6 358.1 L297.1 358.0 L298.6 358.5 L300.1 359.3 L301.7 359.3 L303.2 359.1 L304.7 359.9 L306.2 360.6 L307.7 360.8 L309.2 360.8 L310.8 360.7 L312.3 360.9 L313.8 361.7 L315.3 361.9 L316.8 361.9 L318.3 362.7 L319.9 363.0 L321.4 363.0 L322.9 363.0 L324.4 363.0 L325.9 363.2 L327.4 363.4 L328.9 363.8 L330.5 364.2 L332.0 364.3 L333.5 364.2 L335.0 364.3 L336.5 364.2 L338.0 364.0 L339.6 364.3 L341.1 365.3 L342.6 365.6 L344.1 365.6 L345.6 365.6 L347.1 365.3 L348.6 365.2 L350.2 365.9 L351.7 367.0 L353.2 367.6 L354.7 367.6 L356.2 367.8 L357.7 368.1 L359.3 368.3 L360.8 368.6 L362.3 368.5 L363.8 368.2 L365.3 368.2 L366.8 368.6 L368.3 368.9 L369.9 369.1 L371.4 369.2 L372.9 369.2 L374.4 369.4 L375.9 369.7 L377.4 370.0 L379.0 370.3 L380.5 370.6 L382.0 370.8 L383.5 370.7 L385.0 370.9 L386.5 371.5 L388.0 371.4 L389.6 371.2 L391.1 371.4 L392.6 371.4 L394.1 371.8 L395.6 372.5 L397.1 372.5 L398.7 372.0 L400.2 372.0 L401.7 372.5 L403.2 373.3 L404.7 374.0 L406.2 374.1 L407.8 374.2 L409.3 374.1 L410.8 374.0 L412.3 374.1 L413.8 374.1 L415.3 374.5 L416.8 375.0 L418.4 374.9 L419.9 374.3 L421.4 374.4 L422.9 375.2 L424.4 375.2 L425.9 375.0 L427.5 375.4 L429.0 375.6 L430.5 375.3 L432.0 375.3 L433.5 376.1 L435.0 376.9 L436.5 377.1 L438.1 376.5 L439.6 376.4 L441.1 376.9 L442.6 377.3 L444.1 377.1 L445.6 377.0 L447.2 377.5 L448.7 377.8 L450.2 377.9 L451.7 377.9 L453.2 377.8 L454.7 377.9 L456.2 378.5 L457.8 379.0 L459.3 379.3 L460.8 379.2 L462.3 378.9 L463.8 379.4 L465.3 379.9 L466.9 379.8 L468.4 380.1 L469.9 380.5 L471.4 380.3 L472.9 380.3 L474.4 380.5 L475.9 380.8 L477.5 381.2 L479.0 380.9 L480.5 380.5 L482.0 380.9 L483.5 381.0 L485.0 380.9 L486.6 381.5 L488.1 381.9 L489.6 381.6 L491.1 381.4 L492.6 381.3 L494.1 381.9 L495.6 382.3 L497.2 382.0 L498.7 382.2 L500.2 382.2 L501.7 382.3 L503.2 383.0 L504.7 383.4 L506.3 382.9 L507.8 382.7 L509.3 383.1 L510.8 383.2 L512.3 382.8 L513.8 382.9 L515.4 383.1 L516.9 383.1 L518.4 383.6 L519.9 384.1 L521.4 384.2 L522.9 383.9 L524.4 383.9 L526.0 384.5 L527.5 385.0 L529.0 384.8 L530.5 384.7 L532.0 385.0 L533.5 385.3 L535.1 385.3 L536.6 385.3 L538.1 385.1 L539.6 385.3 L541.1 385.6 L542.6 385.5 L544.1 385.3 L545.7 385.3 L547.2 385.7 L548.7 386.2 L550.2 386.4 L551.7 386.6 L553.2 386.9 L554.8 386.6 L556.3 386.2 L557.8 386.5 L559.3 387.0 L560.8 387.3 L562.3 387.3 L563.8 387.2 L565.4 387.4 L566.9 387.4 L568.4 386.9 L569.9 386.9 L571.4 387.5 L572.9 387.7 L574.5 387.2 L576.0 387.1 L577.5 387.7 L579.0 388.0 L580.5 387.8 L582.0 387.7 L583.5 388.0 L585.1 388.4 L586.6 388.8 L588.1 388.9 L589.6 388.8 L591.1 388.9 L592.6 389.3 L594.2 389.6 L595.7 389.6 L597.2 389.5 L598.7 389.3 L600.2 389.0 L601.7 389.0 L603.2 389.4 L604.8 390.0 L606.3 390.0 L607.8 390.1 L609.3 390.2 L610.8 390.1 L612.3 390.3 L613.9 390.5 L615.4 390.7 L616.9 390.9 L618.4 390.7 L619.9 390.5 L621.4 390.4 L623.0 390.8 L624.5 391.2 L626.0 391.1 L627.5 391.1 L629.0 391.3 L630.5 391.6 L632.0 391.7 L633.6 391.6" fill="none" stroke="#6a1a6a" stroke-width="2.8" stroke-linejoin="round" stroke-linecap="round"/>
<path d="M148.6 333.4 L150.1 333.7 L151.6 334.1 L153.1 334.3 L154.7 334.5 L156.2 334.5 L157.7 334.9 L159.2 335.3 L160.7 335.3 L162.2 335.4 L163.8 335.2 L165.3 335.1 L166.8 336.0 L168.3 336.7 L169.8 336.6 L171.3 337.0 L172.8 337.5 L174.4 337.4 L175.9 337.6 L177.4 338.2 L178.9 338.5 L180.4 338.4 L181.9 338.3 L183.5 338.4 L185.0 338.8 L186.5 339.2 L188.0 339.8 L189.5 339.9 L191.0 339.7 L192.5 340.0 L194.1 340.4 L195.6 340.8 L197.1 341.4 L198.6 341.5 L200.1 340.9 L201.6 340.6 L203.2 341.0 L204.7 341.3 L206.2 341.8 L207.7 342.2 L209.2 342.5 L210.7 343.0 L212.3 343.2 L213.8 343.3 L215.3 343.7 L216.8 344.1 L218.3 343.7 L219.8 343.6 L221.3 344.0 L222.9 344.5 L224.4 344.9 L225.9 345.1 L227.4 345.5 L228.9 346.1 L230.4 346.4 L232.0 346.0 L233.5 345.7 L235.0 346.0 L236.5 346.3 L238.0 347.5 L239.5 348.5 L241.0 348.1 L242.6 347.5 L244.1 347.5 L245.6 348.2 L247.1 348.7 L248.6 348.9 L250.1 349.0 L251.7 349.2 L253.2 349.6 L254.7 349.6 L256.2 349.9 L257.7 350.3 L259.2 350.5 L260.7 350.8 L262.3 351.1 L263.8 351.5 L265.3 351.7 L266.8 351.3 L268.3 351.2 L269.8 351.7 L271.4 352.3 L272.9 352.6 L274.4 352.5 L275.9 352.9 L277.4 353.6 L278.9 354.3 L280.4 354.6 L282.0 354.4 L283.5 354.6 L285.0 355.3 L286.5 355.6 L288.0 355.6 L289.5 355.9 L291.1 356.7 L292.6 357.1 L294.1 357.0 L295.6 356.7 L297.1 356.9 L298.6 357.1 L300.1 357.3 L301.7 358.1 L303.2 358.5 L304.7 358.4 L306.2 358.5 L307.7 358.9 L309.2 359.5 L310.8 360.0 L312.3 360.1 L313.8 360.0 L315.3 360.2 L316.8 360.3 L318.3 360.2 L319.9 360.9 L321.4 361.5 L322.9 361.6 L324.4 361.2 L325.9 361.1 L327.4 361.7 L328.9 361.9 L330.5 361.3 L332.0 361.7 L333.5 362.8 L335.0 363.6 L336.5 363.9 L338.0 363.8 L339.6 363.8 L341.1 364.1 L342.6 364.2 L344.1 364.7 L345.6 364.9 L347.1 364.9 L348.6 365.2 L350.2 365.3 L351.7 365.8 L353.2 366.7 L354.7 366.4 L356.2 366.1 L357.7 366.7 L359.3 366.7 L360.8 366.5 L362.3 366.9 L363.8 367.3 L365.3 367.7 L366.8 367.8 L368.3 367.8 L369.9 368.1 L371.4 368.2 L372.9 368.3 L374.4 368.6 L375.9 368.6 L377.4 368.9 L379.0 369.3 L380.5 369.2 L382.0 369.2 L383.5 369.6 L385.0 369.7 L386.5 369.4 L388.0 370.0 L389.6 370.4 L391.1 370.0 L392.6 370.2 L394.1 371.0 L395.6 371.3 L397.1 371.2 L398.7 371.5 L400.2 371.9 L401.7 372.3 L403.2 372.2 L404.7 371.7 L406.2 371.8 L407.8 372.3 L409.3 372.6 L410.8 373.1 L412.3 373.9 L413.8 374.4 L415.3 374.4 L416.8 373.9 L418.4 373.5 L419.9 373.9 L421.4 374.5 L422.9 374.6 L424.4 374.5 L425.9 374.4 L427.5 374.5 L429.0 374.9 L430.5 374.9 L432.0 374.8 L433.5 375.2 L435.0 375.9 L436.5 376.2 L438.1 376.4 L439.6 376.7 L441.1 376.8 L442.6 376.8 L444.1 376.7 L445.6 376.8 L447.2 376.8 L448.7 376.8 L450.2 376.7 L451.7 377.0 L453.2 377.7 L454.7 377.9 L456.2 377.5 L457.8 377.5 L459.3 377.9 L460.8 377.7 L462.3 377.8 L463.8 378.4 L465.3 378.6 L466.9 378.7 L468.4 379.2 L469.9 379.5 L471.4 379.4 L472.9 379.3 L474.4 379.3 L475.9 379.7 L477.5 379.6 L479.0 379.3 L480.5 379.5 L482.0 379.9 L483.5 380.3 L485.0 380.8 L486.6 380.7 L488.1 380.9 L489.6 381.0 L491.1 380.7 L492.6 381.1 L494.1 381.5 L495.6 381.3 L497.2 381.1 L498.7 381.3 L500.2 381.4 L501.7 381.3 L503.2 381.6 L504.7 381.9 L506.3 382.1 L507.8 382.5 L509.3 382.6 L510.8 382.7 L512.3 383.0 L513.8 383.2 L515.4 383.1 L516.9 383.2 L518.4 383.5 L519.9 383.4 L521.4 383.2 L522.9 383.3 L524.4 383.5 L526.0 383.7 L527.5 384.2 L529.0 384.2 L530.5 383.9 L532.0 384.2 L533.5 385.0 L535.1 385.1 L536.6 384.8 L538.1 385.2 L539.6 385.3 L541.1 385.1 L542.6 385.0 L544.1 385.3 L545.7 385.8 L547.2 385.4 L548.7 385.3 L550.2 385.9 L551.7 386.0 L553.2 385.9 L554.8 385.9 L556.3 385.5 L557.8 385.9 L559.3 386.7 L560.8 386.7 L562.3 386.4 L563.8 386.5 L565.4 386.8 L566.9 387.0 L568.4 387.1 L569.9 387.4 L571.4 387.4 L572.9 387.3 L574.5 387.3 L576.0 387.4 L577.5 387.5 L579.0 387.5 L580.5 387.2 L582.0 387.3 L583.5 387.9 L585.1 388.3 L586.6 388.1 L588.1 388.1 L589.6 388.6 L591.1 388.9 L592.6 388.7 L594.2 388.3 L595.7 388.4 L597.2 388.9 L598.7 389.1 L600.2 389.2 L601.7 389.3 L603.2 389.6 L604.8 389.6 L606.3 389.3 L607.8 389.4 L609.3 389.7 L610.8 390.1 L612.3 390.1 L613.9 389.9 L615.4 390.0 L616.9 390.2 L618.4 390.6 L619.9 391.0 L621.4 390.7 L623.0 390.8 L624.5 391.1 L626.0 390.7 L627.5 390.2 L629.0 390.3 L630.5 390.7 L632.0 391.2 L633.6 391.7" fill="none" stroke="#8a20e0" stroke-width="2.8" stroke-linejoin="round" stroke-linecap="round"/>
<path d="M148.6 338.1 L150.1 338.6 L151.6 339.1 L153.1 339.5 L154.7 340.2 L156.2 340.4 L157.7 340.3 L159.2 340.5 L160.7 340.5 L162.2 340.6 L163.8 340.8 L165.3 341.1 L166.8 341.5 L168.3 341.6 L169.8 341.4 L171.3 341.3 L172.8 341.7 L174.4 342.5 L175.9 342.8 L177.4 342.5 L178.9 342.4 L180.4 343.2 L181.9 344.0 L183.5 344.3 L185.0 344.3 L186.5 343.9 L188.0 343.8 L189.5 344.5 L191.0 345.3 L192.5 345.4 L194.1 345.4 L195.6 345.2 L197.1 345.2 L198.6 345.5 L200.1 345.5 L201.6 345.7 L203.2 346.1 L204.7 346.4 L206.2 346.5 L207.7 346.8 L209.2 347.5 L210.7 347.3 L212.3 347.0 L213.8 347.2 L215.3 347.6 L216.8 348.2 L218.3 348.7 L219.8 348.9 L221.3 348.7 L222.9 348.8 L224.4 349.5 L225.9 350.0 L227.4 349.9 L228.9 349.9 L230.4 349.8 L232.0 350.0 L233.5 350.6 L235.0 350.9 L236.5 350.8 L238.0 351.2 L239.5 351.6 L241.0 351.7 L242.6 352.1 L244.1 352.4 L245.6 352.2 L247.1 352.6 L248.6 353.1 L250.1 353.1 L251.7 353.1 L253.2 353.1 L254.7 353.0 L256.2 353.5 L257.7 354.2 L259.2 354.7 L260.7 355.2 L262.3 355.3 L263.8 355.0 L265.3 354.9 L266.8 355.3 L268.3 355.8 L269.8 356.0 L271.4 356.0 L272.9 356.0 L274.4 356.3 L275.9 356.5 L277.4 356.8 L278.9 357.3 L280.4 357.6 L282.0 357.7 L283.5 357.5 L285.0 357.3 L286.5 357.7 L288.0 358.1 L289.5 358.6 L291.1 358.9 L292.6 359.0 L294.1 359.6 L295.6 359.9 L297.1 360.1 L298.6 360.2 L300.1 360.0 L301.7 360.2 L303.2 360.7 L304.7 361.1 L306.2 361.3 L307.7 361.1 L309.2 361.2 L310.8 361.8 L312.3 362.1 L313.8 362.0 L315.3 362.5 L316.8 363.0 L318.3 363.0 L319.9 362.8 L321.4 362.7 L322.9 362.9 L324.4 363.0 L325.9 363.4 L327.4 364.0 L328.9 364.3 L330.5 364.6 L332.0 364.9 L333.5 365.2 L335.0 365.5 L336.5 365.8 L338.0 365.9 L339.6 365.7 L341.1 366.0 L342.6 366.6 L344.1 366.5 L345.6 366.4 L347.1 366.3 L348.6 366.5 L350.2 367.1 L351.7 367.5 L353.2 367.4 L354.7 367.1 L356.2 367.0 L357.7 367.3 L359.3 367.8 L360.8 368.0 L362.3 368.2 L363.8 368.4 L365.3 368.9 L366.8 369.1 L368.3 369.0 L369.9 369.4 L371.4 369.2 L372.9 369.1 L374.4 369.9 L375.9 370.3 L377.4 370.5 L379.0 370.9 L380.5 371.0 L382.0 371.4 L383.5 371.8 L385.0 371.6 L386.5 371.6 L388.0 371.3 L389.6 371.3 L391.1 371.7 L392.6 372.4 L394.1 372.7 L395.6 372.8 L397.1 373.2 L398.7 372.9 L400.2 372.5 L401.7 372.7 L403.2 373.3 L404.7 373.7 L406.2 373.7 L407.8 374.0 L409.3 374.0 L410.8 374.5 L412.3 375.1 L413.8 374.8 L415.3 374.5 L416.8 374.5 L418.4 375.0 L419.9 375.6 L421.4 375.6 L422.9 375.7 L424.4 375.8 L425.9 375.8 L427.5 376.1 L429.0 375.9 L430.5 376.3 L432.0 377.1 L433.5 377.3 L435.0 377.3 L436.5 377.2 L438.1 376.9 L439.6 376.6 L441.1 376.8 L442.6 377.2 L444.1 377.6 L445.6 377.9 L447.2 378.1 L448.7 378.1 L450.2 378.2 L451.7 378.8 L453.2 379.1 L454.7 379.1 L456.2 378.9 L457.8 378.7 L459.3 379.2 L460.8 379.9 L462.3 380.0 L463.8 379.7 L465.3 379.8 L466.9 380.0 L468.4 379.8 L469.9 379.8 L471.4 380.5 L472.9 381.4 L474.4 381.2 L475.9 380.6 L477.5 380.9 L479.0 381.6 L480.5 381.8 L482.0 381.5 L483.5 381.6 L485.0 382.0 L486.6 381.8 L488.1 381.3 L489.6 381.4 L491.1 382.2 L492.6 382.5 L494.1 382.5 L495.6 382.5 L497.2 382.2 L498.7 382.5 L500.2 383.3 L501.7 383.3 L503.2 383.5 L504.7 383.6 L506.3 383.1 L507.8 383.2 L509.3 383.5 L510.8 383.5 L512.3 383.8 L513.8 384.0 L515.4 384.0 L516.9 384.0 L518.4 384.1 L519.9 384.6 L521.4 384.6 L522.9 384.2 L524.4 384.5 L526.0 384.6 L527.5 384.4 L529.0 385.0 L530.5 385.6 L532.0 385.6 L533.5 385.2 L535.1 385.4 L536.6 385.9 L538.1 386.0 L539.6 386.0 L541.1 386.1 L542.6 386.1 L544.1 386.1 L545.7 386.1 L547.2 386.1 L548.7 386.3 L550.2 386.6 L551.7 387.1 L553.2 387.3 L554.8 387.1 L556.3 387.2 L557.8 387.4 L559.3 387.2 L560.8 386.9 L562.3 386.9 L563.8 387.4 L565.4 387.8 L566.9 387.9 L568.4 387.9 L569.9 387.8 L571.4 387.7 L572.9 388.0 L574.5 388.0 L576.0 387.5 L577.5 387.7 L579.0 388.6 L580.5 388.7 L582.0 388.5 L583.5 388.5 L585.1 388.6 L586.6 388.9 L588.1 389.3 L589.6 389.3 L591.1 389.2 L592.6 389.2 L594.2 389.7 L595.7 390.3 L597.2 389.7 L598.7 389.2 L600.2 389.2 L601.7 389.2 L603.2 389.7 L604.8 390.4 L606.3 390.2 L607.8 389.8 L609.3 389.8 L610.8 389.8 L612.3 389.8 L613.9 390.0 L615.4 390.5 L616.9 390.8 L618.4 390.2 L619.9 390.1 L621.4 390.7 L623.0 391.2 L624.5 390.9 L626.0 390.6 L627.5 391.0 L629.0 391.4 L630.5 391.4 L632.0 390.8 L633.6 390.7" fill="none" stroke="#222222" stroke-width="2.3" stroke-linejoin="round" stroke-linecap="round"/>
</svg>
<line x1="335.1" y1="372" x2="335.1" y2="126" stroke="#111" stroke-width="1.3" stroke-dasharray="7 3 2 3"/>
<path d="M335.1 117.2 L331.6 128 L338.6 128 Z" fill="#111"/>
<rect x="148.6" y="39" width="484.9" height="358" fill="none" stroke="#383838" stroke-width="2.4"/>
<line x1="300.15" y1="397" x2="300.15" y2="389" stroke="#383838" stroke-width="2"/>
<line x1="451.7" y1="397" x2="451.7" y2="389" stroke="#383838" stroke-width="2"/>
<line x1="603.25" y1="397" x2="603.25" y2="389" stroke="#383838" stroke-width="2"/>
<line x1="224.38" y1="397" x2="224.38" y2="392.5" stroke="#383838" stroke-width="2"/>
<line x1="375.93" y1="397" x2="375.93" y2="392.5" stroke="#383838" stroke-width="2"/>
<line x1="527.48" y1="397" x2="527.48" y2="392.5" stroke="#383838" stroke-width="2"/>
<line x1="148.6" y1="253.25" x2="156.6" y2="253.25" stroke="#383838" stroke-width="2"/>
<line x1="148.6" y1="109.5" x2="156.6" y2="109.5" stroke="#383838" stroke-width="2"/>
<line x1="148.6" y1="325.12" x2="153.1" y2="325.12" stroke="#383838" stroke-width="2"/>
<line x1="148.6" y1="181.38" x2="153.1" y2="181.38" stroke="#383838" stroke-width="2"/>
<text x="148.6" y="426.8" font-size="28.2" text-anchor="middle" font-weight="bold" fill="#000">500</text>
<text x="300.15" y="426.8" font-size="28.2" text-anchor="middle" font-weight="bold" fill="#000">550</text>
<text x="451.7" y="426.8" font-size="28.2" text-anchor="middle" font-weight="bold" fill="#000">600</text>
<text x="603.25" y="426.8" font-size="28.2" text-anchor="middle" font-weight="bold" fill="#000">650</text>
<text x="139.7" y="404.8" font-size="28.2" text-anchor="end" font-weight="bold" fill="#000">0.0</text>
<text x="139.7" y="261.05" font-size="28.2" text-anchor="end" font-weight="bold" fill="#000">0.1</text>
<text x="139.7" y="117.3" font-size="28.2" text-anchor="end" font-weight="bold" fill="#000">0.2</text>
<text font-size="28.068" font-weight="bold" fill="#000" transform="translate(283.67 454.35) scale(1.0186 1)">Wavelength (nm)</text>
<text font-size="28.571" font-weight="bold" fill="#000" transform="translate(83.91 313.71) rotate(-90) scale(0.9980 1)">Absorbance</text>
<line x1="383" y1="55.4" x2="423.6" y2="55.4" stroke="#111111" stroke-width="2.7"/>
<text x="427.4" y="60.4" font-size="22" text-anchor="start" font-weight="bold" fill="#000">pH 2.0</text>
<line x1="508" y1="55.4" x2="548.3" y2="55.4" stroke="#d02a2a" stroke-width="2.7"/>
<text x="551.9" y="60.4" font-size="22" text-anchor="start" font-weight="bold" fill="#000">pH 2.5</text>
<line x1="383" y1="83.2" x2="423.6" y2="83.2" stroke="#2a2ac8" stroke-width="2.7"/>
<text x="427.4" y="88.2" font-size="22" text-anchor="start" font-weight="bold" fill="#000">pH 3.0</text>
<line x1="508" y1="83.2" x2="548.3" y2="83.2" stroke="#2a9090" stroke-width="2.7"/>
<text x="551.9" y="88.2" font-size="22" text-anchor="start" font-weight="bold" fill="#000">pH 3.5</text>
<line x1="383" y1="111" x2="423.6" y2="111" stroke="#c83cc8" stroke-width="2.7"/>
<text x="427.4" y="116" font-size="22" text-anchor="start" font-weight="bold" fill="#000">pH 4.0</text>
<line x1="508" y1="111" x2="548.3" y2="111" stroke="#7e7e2c" stroke-width="2.7"/>
<text x="551.9" y="116" font-size="22" text-anchor="start" font-weight="bold" fill="#000">pH 4.5</text>
<line x1="383" y1="138.8" x2="423.6" y2="138.8" stroke="#1c1c6a" stroke-width="2.7"/>
<text x="427.4" y="143.8" font-size="22" text-anchor="start" font-weight="bold" fill="#000">pH 5.0</text>
<line x1="508" y1="138.8" x2="548.3" y2="138.8" stroke="#7a2424" stroke-width="2.7"/>
<text x="551.9" y="143.8" font-size="22" text-anchor="start" font-weight="bold" fill="#000">pH 5.5</text>
<line x1="383" y1="166.6" x2="423.6" y2="166.6" stroke="#d83c8a" stroke-width="2.7"/>
<text x="427.4" y="171.6" font-size="22" text-anchor="start" font-weight="bold" fill="#000">pH 6.0</text>
<line x1="508" y1="166.6" x2="548.3" y2="166.6" stroke="#228a22" stroke-width="2.7"/>
<text x="551.9" y="171.6" font-size="22" text-anchor="start" font-weight="bold" fill="#000">pH 7.0</text>
<line x1="383" y1="194.4" x2="423.6" y2="194.4" stroke="#1c1ca0" stroke-width="2.7"/>
<text x="427.4" y="199.4" font-size="22" text-anchor="start" font-weight="bold" fill="#000">pH 8.0</text>
<line x1="508" y1="194.4" x2="548.3" y2="194.4" stroke="#e89432" stroke-width="2.7"/>
<text x="551.9" y="199.4" font-size="22" text-anchor="start" font-weight="bold" fill="#000">pH 9.0</text>
<line x1="383" y1="222.2" x2="423.6" y2="222.2" stroke="#5c1c5c" stroke-width="2.7"/>
<text x="427.4" y="227.2" font-size="22" text-anchor="start" font-weight="bold" fill="#000">pH 10.0</text>
<line x1="510.5" y1="222.2" x2="550.5" y2="222.2" stroke="#7424c0" stroke-width="2.7"/>
<text x="554.6" y="227.2" font-size="22" text-anchor="start" font-weight="bold" fill="#000">pH 11.0</text>
<line x1="383" y1="250" x2="423.6" y2="250" stroke="#333333" stroke-width="2.7"/>
<text x="427.4" y="255" font-size="22" text-anchor="start" font-weight="bold" fill="#000">pH 12.0</text>
<svg x="817" y="40" width="478.7" height="354.5" viewBox="817 40 478.7 354.5" overflow="hidden">
<path d="M817.0 350.2 L818.7 350.2 L820.4 350.2 L822.1 350.1 L823.8 349.9 L825.5 349.8 L827.2 349.5 L828.9 349.3 L830.6 348.9 L832.4 348.6 L834.1 348.1 L835.8 347.6 L837.5 347.1 L839.2 346.4 L840.9 345.7 L842.6 345.0 L844.3 344.1 L846.0 343.2 L847.7 342.1 L849.4 341.0 L851.1 339.8 L852.8 338.5 L854.5 337.0 L856.2 335.5 L857.9 333.9 L859.6 332.1 L861.4 330.2 L863.1 328.2 L864.8 326.1 L866.5 323.8 L868.2 321.4 L869.9 318.9 L871.6 316.2 L873.3 313.4 L875.0 310.5 L876.7 307.4 L878.4 304.2 L880.1 300.8 L881.8 297.3 L883.5 293.6 L885.2 289.9 L886.9 285.9 L888.7 281.9 L890.4 277.7 L892.1 273.4 L893.8 269.0 L895.5 264.4 L897.2 259.8 L898.9 255.0 L900.6 250.2 L902.3 245.3 L904.0 240.3 L905.7 235.2 L907.4 230.1 L909.1 225.0 L910.8 219.8 L912.5 214.6 L914.2 209.4 L915.9 204.2 L917.7 199.1 L919.4 194.0 L921.1 188.9 L922.8 183.9 L924.5 179.0 L926.2 174.2 L927.9 169.5 L929.6 165.0 L931.3 160.6 L933.0 156.3 L934.7 152.3 L936.4 148.4 L938.1 144.7 L939.8 141.3 L941.5 138.0 L943.2 135.1 L945.0 132.3 L946.7 129.9 L948.4 127.7 L950.1 125.8 L951.8 124.2 L953.5 122.8 L955.2 121.8 L956.9 121.1 L958.6 120.7 L960.3 120.6 L962.0 120.9 L963.7 121.6 L965.4 122.8 L967.1 124.3 L968.8 126.3 L970.5 128.7 L972.2 131.3 L974.0 134.3 L975.7 137.5 L977.4 140.9 L979.1 144.5 L980.8 148.2 L982.5 152.0 L984.2 156.0 L985.9 160.0 L987.6 164.0 L989.3 168.1 L991.0 172.2 L992.7 176.3 L994.4 180.4 L996.1 184.4 L997.8 188.5 L999.5 192.5 L1001.2 196.4 L1003.0 200.3 L1004.7 204.2 L1006.4 208.0 L1008.1 211.7 L1009.8 215.4 L1011.5 219.0 L1013.2 222.6 L1014.9 226.1 L1016.6 229.5 L1018.3 232.8 L1020.0 236.1 L1021.7 239.3 L1023.4 242.5 L1025.1 245.6 L1026.8 248.6 L1028.5 251.5 L1030.2 254.4 L1032.0 257.2 L1033.7 260.0 L1035.4 262.7 L1037.1 265.3 L1038.8 267.9 L1040.5 270.4 L1042.2 272.8 L1043.9 275.2 L1045.6 277.6 L1047.3 279.8 L1049.0 282.1 L1050.7 284.2 L1052.4 286.3 L1054.1 288.4 L1055.8 290.4 L1057.5 292.4 L1059.3 294.3 L1061.0 296.2 L1062.7 298.0 L1064.4 299.8 L1066.1 301.5 L1067.8 303.2 L1069.5 304.8 L1071.2 306.4 L1072.9 308.0 L1074.6 309.5 L1076.3 311.0 L1078.0 312.5 L1079.7 313.9 L1081.4 315.3 L1083.1 316.6 L1084.8 317.9 L1086.5 319.2 L1088.3 320.4 L1090.0 321.6 L1091.7 322.8 L1093.4 324.0 L1095.1 325.1 L1096.8 326.2 L1098.5 327.2 L1100.2 328.3 L1101.9 329.3 L1103.6 330.3 L1105.3 331.2 L1107.0 332.2 L1108.7 333.1 L1110.4 334.0 L1112.1 334.8 L1113.8 335.7 L1115.5 336.5 L1117.3 337.3 L1119.0 338.1 L1120.7 338.8 L1122.4 339.6 L1124.1 340.3 L1125.8 341.0 L1127.5 341.7 L1129.2 342.3 L1130.9 343.0 L1132.6 343.6 L1134.3 344.2 L1136.0 344.8 L1137.7 345.4 L1139.4 346.0 L1141.1 346.5 L1142.8 347.1 L1144.6 347.6 L1146.3 348.1 L1148.0 348.6 L1149.7 349.1 L1151.4 349.5 L1153.1 350.0 L1154.8 350.5 L1156.5 350.9 L1158.2 351.3 L1159.9 351.7 L1161.6 352.1 L1163.3 352.5 L1165.0 352.9 L1166.7 353.3 L1168.4 353.6 L1170.1 354.0 L1171.8 354.3 L1173.6 354.7 L1175.3 355.0 L1177.0 355.3 L1178.7 355.6 L1180.4 355.9 L1182.1 356.2 L1183.8 356.5 L1185.5 356.8 L1187.2 357.0 L1188.9 357.3 L1190.6 357.6 L1192.3 357.8 L1194.0 358.1 L1195.7 358.3 L1197.4 358.5 L1199.1 358.8 L1200.8 359.0 L1202.6 359.2 L1204.3 359.4 L1206.0 359.6 L1207.7 359.8 L1209.4 360.0 L1211.1 360.2 L1212.8 360.4 L1214.5 360.5 L1216.2 360.7 L1217.9 360.9 L1219.6 361.0 L1221.3 361.2 L1223.0 361.3 L1224.7 361.5 L1226.4 361.6 L1228.1 361.8 L1229.9 361.9 L1231.6 362.1 L1233.3 362.2 L1235.0 362.3 L1236.7 362.5 L1238.4 362.6 L1240.1 362.7 L1241.8 362.8 L1243.5 362.9 L1245.2 363.0 L1246.9 363.1 L1248.6 363.2 L1250.3 363.3 L1252.0 363.4 L1253.7 363.5 L1255.4 363.6 L1257.1 363.7 L1258.9 363.8 L1260.6 363.9 L1262.3 364.0 L1264.0 364.1 L1265.7 364.1 L1267.4 364.2 L1269.1 364.3 L1270.8 364.4 L1272.5 364.4 L1274.2 364.5 L1275.9 364.6 L1277.6 364.6 L1279.3 364.7 L1281.0 364.8 L1282.7 364.8 L1284.4 364.9 L1286.2 364.9 L1287.9 365.0 L1289.6 365.1 L1291.3 365.1 L1293.0 365.2 L1294.7 365.2" fill="none" stroke="#0a0a0a" stroke-width="2.3" stroke-linejoin="round" stroke-linecap="round"/>
<path d="M817.0 349.6 L818.7 349.6 L820.4 349.4 L822.1 349.3 L823.8 349.0 L825.5 348.8 L827.2 348.4 L828.9 348.0 L830.6 347.6 L832.4 347.1 L834.1 346.5 L835.8 345.9 L837.5 345.1 L839.2 344.3 L840.9 343.4 L842.6 342.4 L844.3 341.3 L846.0 340.1 L847.7 338.8 L849.4 337.4 L851.1 335.9 L852.8 334.2 L854.5 332.4 L856.2 330.5 L857.9 328.5 L859.6 326.3 L861.4 324.0 L863.1 321.5 L864.8 318.9 L866.5 316.1 L868.2 313.1 L869.9 310.0 L871.6 306.7 L873.3 303.3 L875.0 299.7 L876.7 295.9 L878.4 291.9 L880.1 287.8 L881.8 283.5 L883.5 279.0 L885.2 274.3 L886.9 269.5 L888.7 264.6 L890.4 259.4 L892.1 254.2 L893.8 248.7 L895.5 243.2 L897.2 237.5 L898.9 231.7 L900.6 225.8 L902.3 219.7 L904.0 213.6 L905.7 207.4 L907.4 201.2 L909.1 194.9 L910.8 188.6 L912.5 182.2 L914.2 175.9 L915.9 169.6 L917.7 163.3 L919.4 157.0 L921.1 150.8 L922.8 144.7 L924.5 138.7 L926.2 132.9 L927.9 127.1 L929.6 121.6 L931.3 116.2 L933.0 111.0 L934.7 106.0 L936.4 101.3 L938.1 96.8 L939.8 92.6 L941.5 88.6 L943.2 85.0 L945.0 81.7 L946.7 78.6 L948.4 76.0 L950.1 73.6 L951.8 71.6 L953.5 70.0 L955.2 68.7 L956.9 67.8 L958.6 67.3 L960.3 67.2 L962.0 67.5 L963.7 68.4 L965.4 69.8 L967.1 71.8 L968.8 74.2 L970.5 77.0 L972.2 80.2 L974.0 83.8 L975.7 87.7 L977.4 91.8 L979.1 96.2 L980.8 100.7 L982.5 105.4 L984.2 110.2 L985.9 115.1 L987.6 120.0 L989.3 125.0 L991.0 129.9 L992.7 134.9 L994.4 139.9 L996.1 144.9 L997.8 149.8 L999.5 154.6 L1001.2 159.5 L1003.0 164.2 L1004.7 168.9 L1006.4 173.5 L1008.1 178.1 L1009.8 182.6 L1011.5 187.0 L1013.2 191.3 L1014.9 195.5 L1016.6 199.7 L1018.3 203.7 L1020.0 207.7 L1021.7 211.7 L1023.4 215.5 L1025.1 219.2 L1026.8 222.9 L1028.5 226.5 L1030.2 230.0 L1032.0 233.4 L1033.7 236.8 L1035.4 240.1 L1037.1 243.3 L1038.8 246.4 L1040.5 249.4 L1042.2 252.4 L1043.9 255.3 L1045.6 258.2 L1047.3 260.9 L1049.0 263.6 L1050.7 266.3 L1052.4 268.9 L1054.1 271.4 L1055.8 273.8 L1057.5 276.2 L1059.3 278.5 L1061.0 280.8 L1062.7 283.0 L1064.4 285.2 L1066.1 287.3 L1067.8 289.4 L1069.5 291.4 L1071.2 293.3 L1072.9 295.2 L1074.6 297.1 L1076.3 298.9 L1078.0 300.7 L1079.7 302.4 L1081.4 304.1 L1083.1 305.7 L1084.8 307.3 L1086.5 308.8 L1088.3 310.3 L1090.0 311.8 L1091.7 313.3 L1093.4 314.6 L1095.1 316.0 L1096.8 317.3 L1098.5 318.6 L1100.2 319.9 L1101.9 321.1 L1103.6 322.3 L1105.3 323.5 L1107.0 324.6 L1108.7 325.7 L1110.4 326.8 L1112.1 327.9 L1113.8 328.9 L1115.5 329.9 L1117.3 330.9 L1119.0 331.8 L1120.7 332.7 L1122.4 333.6 L1124.1 334.5 L1125.8 335.3 L1127.5 336.2 L1129.2 337.0 L1130.9 337.8 L1132.6 338.5 L1134.3 339.3 L1136.0 340.0 L1137.7 340.7 L1139.4 341.4 L1141.1 342.1 L1142.8 342.7 L1144.6 343.4 L1146.3 344.0 L1148.0 344.6 L1149.7 345.2 L1151.4 345.8 L1153.1 346.3 L1154.8 346.9 L1156.5 347.4 L1158.2 347.9 L1159.9 348.4 L1161.6 348.9 L1163.3 349.4 L1165.0 349.8 L1166.7 350.3 L1168.4 350.7 L1170.1 351.2 L1171.8 351.6 L1173.6 352.0 L1175.3 352.4 L1177.0 352.8 L1178.7 353.1 L1180.4 353.5 L1182.1 353.9 L1183.8 354.2 L1185.5 354.6 L1187.2 354.9 L1188.9 355.2 L1190.6 355.5 L1192.3 355.8 L1194.0 356.1 L1195.7 356.4 L1197.4 356.7 L1199.1 357.0 L1200.8 357.2 L1202.6 357.5 L1204.3 357.7 L1206.0 358.0 L1207.7 358.2 L1209.4 358.5 L1211.1 358.7 L1212.8 358.9 L1214.5 359.1 L1216.2 359.3 L1217.9 359.5 L1219.6 359.7 L1221.3 359.9 L1223.0 360.1 L1224.7 360.3 L1226.4 360.5 L1228.1 360.6 L1229.9 360.8 L1231.6 361.0 L1233.3 361.1 L1235.0 361.3 L1236.7 361.5 L1238.4 361.6 L1240.1 361.7 L1241.8 361.9 L1243.5 362.0 L1245.2 362.2 L1246.9 362.3 L1248.6 362.4 L1250.3 362.5 L1252.0 362.7 L1253.7 362.8 L1255.4 362.9 L1257.1 363.0 L1258.9 363.1 L1260.6 363.2 L1262.3 363.3 L1264.0 363.4 L1265.7 363.5 L1267.4 363.6 L1269.1 363.7 L1270.8 363.8 L1272.5 363.9 L1274.2 364.0 L1275.9 364.0 L1277.6 364.1 L1279.3 364.2 L1281.0 364.3 L1282.7 364.3 L1284.4 364.4 L1286.2 364.5 L1287.9 364.6 L1289.6 364.6 L1291.3 364.7 L1293.0 364.8 L1294.7 364.8" fill="none" stroke="#c82424" stroke-width="2.3" stroke-linejoin="round" stroke-linecap="round"/>
<path d="M817.0 349.0 L818.7 348.9 L820.4 348.9 L822.1 348.7 L823.8 348.5 L825.5 348.3 L827.2 348.0 L828.9 347.7 L830.6 347.3 L832.4 346.8 L834.1 346.3 L835.8 345.7 L837.5 345.1 L839.2 344.3 L840.9 343.5 L842.6 342.6 L844.3 341.5 L846.0 340.4 L847.7 339.2 L849.4 337.9 L851.1 336.5 L852.8 334.9 L854.5 333.3 L856.2 331.5 L857.9 329.6 L859.6 327.5 L861.4 325.3 L863.1 323.0 L864.8 320.5 L866.5 317.9 L868.2 315.1 L869.9 312.2 L871.6 309.1 L873.3 305.9 L875.0 302.5 L876.7 298.9 L878.4 295.1 L880.1 291.2 L881.8 287.2 L883.5 283.0 L885.2 278.6 L886.9 274.0 L888.7 269.3 L890.4 264.5 L892.1 259.5 L893.8 254.4 L895.5 249.1 L897.2 243.8 L898.9 238.3 L900.6 232.7 L902.3 227.0 L904.0 221.2 L905.7 215.4 L907.4 209.5 L909.1 203.5 L910.8 197.5 L912.5 191.6 L914.2 185.6 L915.9 179.6 L917.7 173.6 L919.4 167.7 L921.1 161.9 L922.8 156.1 L924.5 150.4 L926.2 144.9 L927.9 139.5 L929.6 134.2 L931.3 129.1 L933.0 124.2 L934.7 119.5 L936.4 115.0 L938.1 110.8 L939.8 106.8 L941.5 103.1 L943.2 99.6 L945.0 96.5 L946.7 93.6 L948.4 91.1 L950.1 88.9 L951.8 87.0 L953.5 85.5 L955.2 84.3 L956.9 83.4 L958.6 83.0 L960.3 82.8 L962.0 83.2 L963.7 84.0 L965.4 85.4 L967.1 87.2 L968.8 89.5 L970.5 92.2 L972.2 95.2 L974.0 98.6 L975.7 102.3 L977.4 106.2 L979.1 110.4 L980.8 114.7 L982.5 119.1 L984.2 123.6 L985.9 128.2 L987.6 132.9 L989.3 137.6 L991.0 142.4 L992.7 147.1 L994.4 151.8 L996.1 156.5 L997.8 161.1 L999.5 165.7 L1001.2 170.3 L1003.0 174.8 L1004.7 179.3 L1006.4 183.6 L1008.1 188.0 L1009.8 192.2 L1011.5 196.4 L1013.2 200.5 L1014.9 204.5 L1016.6 208.4 L1018.3 212.3 L1020.0 216.1 L1021.7 219.8 L1023.4 223.4 L1025.1 227.0 L1026.8 230.4 L1028.5 233.8 L1030.2 237.2 L1032.0 240.4 L1033.7 243.6 L1035.4 246.7 L1037.1 249.7 L1038.8 252.7 L1040.5 255.6 L1042.2 258.4 L1043.9 261.2 L1045.6 263.8 L1047.3 266.5 L1049.0 269.0 L1050.7 271.5 L1052.4 274.0 L1054.1 276.4 L1055.8 278.7 L1057.5 280.9 L1059.3 283.2 L1061.0 285.3 L1062.7 287.4 L1064.4 289.5 L1066.1 291.5 L1067.8 293.4 L1069.5 295.3 L1071.2 297.2 L1072.9 299.0 L1074.6 300.7 L1076.3 302.4 L1078.0 304.1 L1079.7 305.7 L1081.4 307.3 L1083.1 308.9 L1084.8 310.4 L1086.5 311.9 L1088.3 313.3 L1090.0 314.7 L1091.7 316.1 L1093.4 317.4 L1095.1 318.7 L1096.8 319.9 L1098.5 321.2 L1100.2 322.4 L1101.9 323.5 L1103.6 324.6 L1105.3 325.8 L1107.0 326.8 L1108.7 327.9 L1110.4 328.9 L1112.1 329.9 L1113.8 330.9 L1115.5 331.8 L1117.3 332.7 L1119.0 333.6 L1120.7 334.5 L1122.4 335.4 L1124.1 336.2 L1125.8 337.0 L1127.5 337.8 L1129.2 338.5 L1130.9 339.3 L1132.6 340.0 L1134.3 340.7 L1136.0 341.4 L1137.7 342.1 L1139.4 342.7 L1141.1 343.4 L1142.8 344.0 L1144.6 344.6 L1146.3 345.2 L1148.0 345.8 L1149.7 346.3 L1151.4 346.9 L1153.1 347.4 L1154.8 347.9 L1156.5 348.4 L1158.2 348.9 L1159.9 349.4 L1161.6 349.8 L1163.3 350.3 L1165.0 350.7 L1166.7 351.2 L1168.4 351.6 L1170.1 352.0 L1171.8 352.4 L1173.6 352.8 L1175.3 353.1 L1177.0 353.5 L1178.7 353.9 L1180.4 354.2 L1182.1 354.6 L1183.8 354.9 L1185.5 355.2 L1187.2 355.5 L1188.9 355.8 L1190.6 356.1 L1192.3 356.4 L1194.0 356.7 L1195.7 357.0 L1197.4 357.2 L1199.1 357.5 L1200.8 357.7 L1202.6 358.0 L1204.3 358.2 L1206.0 358.5 L1207.7 358.7 L1209.4 358.9 L1211.1 359.1 L1212.8 359.3 L1214.5 359.5 L1216.2 359.7 L1217.9 359.9 L1219.6 360.1 L1221.3 360.3 L1223.0 360.5 L1224.7 360.6 L1226.4 360.8 L1228.1 361.0 L1229.9 361.1 L1231.6 361.3 L1233.3 361.5 L1235.0 361.6 L1236.7 361.7 L1238.4 361.9 L1240.1 362.0 L1241.8 362.2 L1243.5 362.3 L1245.2 362.4 L1246.9 362.5 L1248.6 362.7 L1250.3 362.8 L1252.0 362.9 L1253.7 363.0 L1255.4 363.1 L1257.1 363.2 L1258.9 363.3 L1260.6 363.4 L1262.3 363.5 L1264.0 363.6 L1265.7 363.7 L1267.4 363.8 L1269.1 363.9 L1270.8 364.0 L1272.5 364.0 L1274.2 364.1 L1275.9 364.2 L1277.6 364.3 L1279.3 364.3 L1281.0 364.4 L1282.7 364.5 L1284.4 364.6 L1286.2 364.6 L1287.9 364.7 L1289.6 364.8 L1291.3 364.8 L1293.0 364.9 L1294.7 364.9" fill="none" stroke="#2424d8" stroke-width="2.3" stroke-linejoin="round" stroke-linecap="round"/>
<path d="M817.0 349.1 L818.7 349.1 L820.4 349.0 L822.1 348.9 L823.8 348.7 L825.5 348.5 L827.2 348.3 L828.9 348.0 L830.6 347.6 L832.4 347.2 L834.1 346.7 L835.8 346.1 L837.5 345.5 L839.2 344.8 L840.9 344.0 L842.6 343.1 L844.3 342.2 L846.0 341.1 L847.7 340.0 L849.4 338.7 L851.1 337.4 L852.8 335.9 L854.5 334.3 L856.2 332.6 L857.9 330.8 L859.6 328.8 L861.4 326.7 L863.1 324.5 L864.8 322.2 L866.5 319.7 L868.2 317.0 L869.9 314.2 L871.6 311.2 L873.3 308.1 L875.0 304.9 L876.7 301.5 L878.4 297.9 L880.1 294.2 L881.8 290.3 L883.5 286.2 L885.2 282.1 L886.9 277.7 L888.7 273.2 L890.4 268.6 L892.1 263.8 L893.8 258.9 L895.5 253.9 L897.2 248.8 L898.9 243.5 L900.6 238.2 L902.3 232.7 L904.0 227.2 L905.7 221.6 L907.4 216.0 L909.1 210.3 L910.8 204.6 L912.5 198.8 L914.2 193.1 L915.9 187.3 L917.7 181.7 L919.4 176.0 L921.1 170.4 L922.8 164.9 L924.5 159.5 L926.2 154.2 L927.9 149.0 L929.6 144.0 L931.3 139.1 L933.0 134.4 L934.7 129.9 L936.4 125.6 L938.1 121.6 L939.8 117.7 L941.5 114.2 L943.2 110.9 L945.0 107.9 L946.7 105.1 L948.4 102.7 L950.1 100.6 L951.8 98.8 L953.5 97.3 L955.2 96.2 L956.9 95.4 L958.6 94.9 L960.3 94.8 L962.0 95.1 L963.7 95.9 L965.4 97.2 L967.1 99.0 L968.8 101.2 L970.5 103.8 L972.2 106.7 L974.0 110.0 L975.7 113.5 L977.4 117.2 L979.1 121.2 L980.8 125.3 L982.5 129.6 L984.2 133.9 L985.9 138.3 L987.6 142.8 L989.3 147.3 L991.0 151.8 L992.7 156.4 L994.4 160.9 L996.1 165.4 L997.8 169.8 L999.5 174.2 L1001.2 178.6 L1003.0 182.9 L1004.7 187.2 L1006.4 191.4 L1008.1 195.5 L1009.8 199.6 L1011.5 203.6 L1013.2 207.5 L1014.9 211.3 L1016.6 215.1 L1018.3 218.8 L1020.0 222.4 L1021.7 226.0 L1023.4 229.5 L1025.1 232.9 L1026.8 236.2 L1028.5 239.5 L1030.2 242.6 L1032.0 245.8 L1033.7 248.8 L1035.4 251.8 L1037.1 254.7 L1038.8 257.5 L1040.5 260.3 L1042.2 263.0 L1043.9 265.6 L1045.6 268.2 L1047.3 270.7 L1049.0 273.2 L1050.7 275.6 L1052.4 277.9 L1054.1 280.2 L1055.8 282.4 L1057.5 284.6 L1059.3 286.7 L1061.0 288.8 L1062.7 290.8 L1064.4 292.7 L1066.1 294.6 L1067.8 296.5 L1069.5 298.3 L1071.2 300.1 L1072.9 301.8 L1074.6 303.5 L1076.3 305.2 L1078.0 306.8 L1079.7 308.3 L1081.4 309.9 L1083.1 311.3 L1084.8 312.8 L1086.5 314.2 L1088.3 315.6 L1090.0 316.9 L1091.7 318.2 L1093.4 319.5 L1095.1 320.7 L1096.8 321.9 L1098.5 323.1 L1100.2 324.2 L1101.9 325.3 L1103.6 326.4 L1105.3 327.5 L1107.0 328.5 L1108.7 329.5 L1110.4 330.5 L1112.1 331.5 L1113.8 332.4 L1115.5 333.3 L1117.3 334.2 L1119.0 335.0 L1120.7 335.9 L1122.4 336.7 L1124.1 337.5 L1125.8 338.3 L1127.5 339.0 L1129.2 339.7 L1130.9 340.5 L1132.6 341.2 L1134.3 341.8 L1136.0 342.5 L1137.7 343.1 L1139.4 343.8 L1141.1 344.4 L1142.8 345.0 L1144.6 345.5 L1146.3 346.1 L1148.0 346.7 L1149.7 347.2 L1151.4 347.7 L1153.1 348.2 L1154.8 348.7 L1156.5 349.2 L1158.2 349.7 L1159.9 350.1 L1161.6 350.6 L1163.3 351.0 L1165.0 351.4 L1166.7 351.8 L1168.4 352.2 L1170.1 352.6 L1171.8 353.0 L1173.6 353.4 L1175.3 353.7 L1177.0 354.1 L1178.7 354.4 L1180.4 354.8 L1182.1 355.1 L1183.8 355.4 L1185.5 355.7 L1187.2 356.0 L1188.9 356.3 L1190.6 356.6 L1192.3 356.9 L1194.0 357.1 L1195.7 357.4 L1197.4 357.6 L1199.1 357.9 L1200.8 358.1 L1202.6 358.4 L1204.3 358.6 L1206.0 358.8 L1207.7 359.0 L1209.4 359.2 L1211.1 359.5 L1212.8 359.7 L1214.5 359.8 L1216.2 360.0 L1217.9 360.2 L1219.6 360.4 L1221.3 360.6 L1223.0 360.7 L1224.7 360.9 L1226.4 361.1 L1228.1 361.2 L1229.9 361.4 L1231.6 361.5 L1233.3 361.7 L1235.0 361.8 L1236.7 362.0 L1238.4 362.1 L1240.1 362.2 L1241.8 362.4 L1243.5 362.5 L1245.2 362.6 L1246.9 362.7 L1248.6 362.8 L1250.3 363.0 L1252.0 363.1 L1253.7 363.2 L1255.4 363.3 L1257.1 363.4 L1258.9 363.5 L1260.6 363.6 L1262.3 363.7 L1264.0 363.7 L1265.7 363.8 L1267.4 363.9 L1269.1 364.0 L1270.8 364.1 L1272.5 364.2 L1274.2 364.2 L1275.9 364.3 L1277.6 364.4 L1279.3 364.5 L1281.0 364.5 L1282.7 364.6 L1284.4 364.7 L1286.2 364.7 L1287.9 364.8 L1289.6 364.8 L1291.3 364.9 L1293.0 365.0 L1294.7 365.0" fill="none" stroke="#1e8c8c" stroke-width="2.3" stroke-linejoin="round" stroke-linecap="round"/>
<path d="M817.0 349.3 L818.7 349.2 L820.4 349.2 L822.1 349.1 L823.8 348.9 L825.5 348.8 L827.2 348.5 L828.9 348.2 L830.6 347.9 L832.4 347.5 L834.1 347.0 L835.8 346.5 L837.5 345.9 L839.2 345.3 L840.9 344.5 L842.6 343.7 L844.3 342.8 L846.0 341.8 L847.7 340.7 L849.4 339.5 L851.1 338.2 L852.8 336.8 L854.5 335.3 L856.2 333.7 L857.9 332.0 L859.6 330.1 L861.4 328.1 L863.1 326.0 L864.8 323.7 L866.5 321.4 L868.2 318.8 L869.9 316.2 L871.6 313.3 L873.3 310.4 L875.0 307.3 L876.7 304.0 L878.4 300.6 L880.1 297.0 L881.8 293.3 L883.5 289.5 L885.2 285.5 L886.9 281.3 L888.7 277.0 L890.4 272.6 L892.1 268.1 L893.8 263.4 L895.5 258.6 L897.2 253.7 L898.9 248.6 L900.6 243.5 L902.3 238.3 L904.0 233.1 L905.7 227.7 L907.4 222.3 L909.1 216.9 L910.8 211.4 L912.5 205.9 L914.2 200.4 L915.9 195.0 L917.7 189.5 L919.4 184.1 L921.1 178.8 L922.8 173.5 L924.5 168.3 L926.2 163.2 L927.9 158.3 L929.6 153.5 L931.3 148.8 L933.0 144.3 L934.7 140.0 L936.4 135.9 L938.1 132.1 L939.8 128.4 L941.5 125.0 L943.2 121.9 L945.0 119.0 L946.7 116.4 L948.4 114.1 L950.1 112.0 L951.8 110.3 L953.5 108.9 L955.2 107.8 L956.9 107.1 L958.6 106.6 L960.3 106.5 L962.0 106.8 L963.7 107.6 L965.4 108.8 L967.1 110.5 L968.8 112.6 L970.5 115.1 L972.2 117.9 L974.0 121.0 L975.7 124.4 L977.4 128.0 L979.1 131.8 L980.8 135.7 L982.5 139.8 L984.2 143.9 L985.9 148.2 L987.6 152.5 L989.3 156.8 L991.0 161.1 L992.7 165.4 L994.4 169.8 L996.1 174.1 L997.8 178.3 L999.5 182.5 L1001.2 186.7 L1003.0 190.9 L1004.7 194.9 L1006.4 198.9 L1008.1 202.9 L1009.8 206.8 L1011.5 210.6 L1013.2 214.4 L1014.9 218.0 L1016.6 221.7 L1018.3 225.2 L1020.0 228.7 L1021.7 232.1 L1023.4 235.4 L1025.1 238.6 L1026.8 241.8 L1028.5 244.9 L1030.2 248.0 L1032.0 251.0 L1033.7 253.9 L1035.4 256.7 L1037.1 259.5 L1038.8 262.2 L1040.5 264.9 L1042.2 267.5 L1043.9 270.0 L1045.6 272.5 L1047.3 274.9 L1049.0 277.2 L1050.7 279.5 L1052.4 281.7 L1054.1 283.9 L1055.8 286.1 L1057.5 288.1 L1059.3 290.2 L1061.0 292.1 L1062.7 294.1 L1064.4 295.9 L1066.1 297.8 L1067.8 299.5 L1069.5 301.3 L1071.2 303.0 L1072.9 304.6 L1074.6 306.3 L1076.3 307.8 L1078.0 309.4 L1079.7 310.9 L1081.4 312.3 L1083.1 313.7 L1084.8 315.1 L1086.5 316.5 L1088.3 317.8 L1090.0 319.1 L1091.7 320.3 L1093.4 321.5 L1095.1 322.7 L1096.8 323.9 L1098.5 325.0 L1100.2 326.1 L1101.9 327.1 L1103.6 328.2 L1105.3 329.2 L1107.0 330.2 L1108.7 331.1 L1110.4 332.1 L1112.1 333.0 L1113.8 333.9 L1115.5 334.7 L1117.3 335.6 L1119.0 336.4 L1120.7 337.2 L1122.4 338.0 L1124.1 338.8 L1125.8 339.5 L1127.5 340.2 L1129.2 340.9 L1130.9 341.6 L1132.6 342.3 L1134.3 342.9 L1136.0 343.5 L1137.7 344.2 L1139.4 344.8 L1141.1 345.3 L1142.8 345.9 L1144.6 346.5 L1146.3 347.0 L1148.0 347.5 L1149.7 348.0 L1151.4 348.5 L1153.1 349.0 L1154.8 349.5 L1156.5 350.0 L1158.2 350.4 L1159.9 350.9 L1161.6 351.3 L1163.3 351.7 L1165.0 352.1 L1166.7 352.5 L1168.4 352.9 L1170.1 353.2 L1171.8 353.6 L1173.6 354.0 L1175.3 354.3 L1177.0 354.6 L1178.7 355.0 L1180.4 355.3 L1182.1 355.6 L1183.8 355.9 L1185.5 356.2 L1187.2 356.5 L1188.9 356.8 L1190.6 357.0 L1192.3 357.3 L1194.0 357.5 L1195.7 357.8 L1197.4 358.0 L1199.1 358.3 L1200.8 358.5 L1202.6 358.7 L1204.3 359.0 L1206.0 359.2 L1207.7 359.4 L1209.4 359.6 L1211.1 359.8 L1212.8 360.0 L1214.5 360.2 L1216.2 360.3 L1217.9 360.5 L1219.6 360.7 L1221.3 360.9 L1223.0 361.0 L1224.7 361.2 L1226.4 361.3 L1228.1 361.5 L1229.9 361.6 L1231.6 361.8 L1233.3 361.9 L1235.0 362.1 L1236.7 362.2 L1238.4 362.3 L1240.1 362.4 L1241.8 362.6 L1243.5 362.7 L1245.2 362.8 L1246.9 362.9 L1248.6 363.0 L1250.3 363.1 L1252.0 363.2 L1253.7 363.3 L1255.4 363.4 L1257.1 363.5 L1258.9 363.6 L1260.6 363.7 L1262.3 363.8 L1264.0 363.9 L1265.7 364.0 L1267.4 364.1 L1269.1 364.1 L1270.8 364.2 L1272.5 364.3 L1274.2 364.4 L1275.9 364.4 L1277.6 364.5 L1279.3 364.6 L1281.0 364.6 L1282.7 364.7 L1284.4 364.8 L1286.2 364.8 L1287.9 364.9 L1289.6 364.9 L1291.3 365.0 L1293.0 365.1 L1294.7 365.1" fill="none" stroke="#dd3add" stroke-width="2.3" stroke-linejoin="round" stroke-linecap="round"/>
<path d="M817.0 351.9 L818.7 352.1 L820.4 352.2 L822.1 352.3 L823.8 352.5 L825.5 352.5 L827.2 352.6 L828.9 352.7 L830.6 352.7 L832.4 352.7 L834.1 352.7 L835.8 352.6 L837.5 352.5 L839.2 352.4 L840.9 352.3 L842.6 352.1 L844.3 351.9 L846.0 351.7 L847.7 351.4 L849.4 351.1 L851.1 350.7 L852.8 350.3 L854.5 349.9 L856.2 349.4 L857.9 348.9 L859.6 348.3 L861.4 347.7 L863.1 347.0 L864.8 346.3 L866.5 345.5 L868.2 344.7 L869.9 343.8 L871.6 342.8 L873.3 341.8 L875.0 340.8 L876.7 339.7 L878.4 338.5 L880.1 337.3 L881.8 336.0 L883.5 334.7 L885.2 333.3 L886.9 331.8 L888.7 330.3 L890.4 328.8 L892.1 327.2 L893.8 325.5 L895.5 323.8 L897.2 322.1 L898.9 320.3 L900.6 318.5 L902.3 316.7 L904.0 314.8 L905.7 312.9 L907.4 311.0 L909.1 309.0 L910.8 307.1 L912.5 305.1 L914.2 303.1 L915.9 301.2 L917.7 299.2 L919.4 297.3 L921.1 295.4 L922.8 293.5 L924.5 291.7 L926.2 289.8 L927.9 288.1 L929.6 286.3 L931.3 284.7 L933.0 283.1 L934.7 281.5 L936.4 280.1 L938.1 278.7 L939.8 277.4 L941.5 276.2 L943.2 275.1 L945.0 274.0 L946.7 273.1 L948.4 272.3 L950.1 271.6 L951.8 271.0 L953.5 270.5 L955.2 270.2 L956.9 269.9 L958.6 269.8 L960.3 269.8 L962.0 269.9 L963.7 270.2 L965.4 270.7 L967.1 271.4 L968.8 272.2 L970.5 273.1 L972.2 274.2 L974.0 275.3 L975.7 276.6 L977.4 278.0 L979.1 279.4 L980.8 280.9 L982.5 282.4 L984.2 283.9 L985.9 285.5 L987.6 287.1 L989.3 288.7 L991.0 290.3 L992.7 291.9 L994.4 293.5 L996.1 295.1 L997.8 296.7 L999.5 298.3 L1001.2 299.9 L1003.0 301.4 L1004.7 302.9 L1006.4 304.4 L1008.1 305.9 L1009.8 307.3 L1011.5 308.7 L1013.2 310.1 L1014.9 311.5 L1016.6 312.9 L1018.3 314.2 L1020.0 315.5 L1021.7 316.7 L1023.4 318.0 L1025.1 319.2 L1026.8 320.4 L1028.5 321.5 L1030.2 322.7 L1032.0 323.8 L1033.7 324.8 L1035.4 325.9 L1037.1 326.9 L1038.8 328.0 L1040.5 328.9 L1042.2 329.9 L1043.9 330.8 L1045.6 331.8 L1047.3 332.7 L1049.0 333.5 L1050.7 334.4 L1052.4 335.2 L1054.1 336.0 L1055.8 336.8 L1057.5 337.6 L1059.3 338.3 L1061.0 339.1 L1062.7 339.8 L1064.4 340.5 L1066.1 341.2 L1067.8 341.8 L1069.5 342.5 L1071.2 343.1 L1072.9 343.7 L1074.6 344.3 L1076.3 344.9 L1078.0 345.5 L1079.7 346.1 L1081.4 346.6 L1083.1 347.1 L1084.8 347.6 L1086.5 348.1 L1088.3 348.6 L1090.0 349.1 L1091.7 349.6 L1093.4 350.0 L1095.1 350.5 L1096.8 350.9 L1098.5 351.3 L1100.2 351.7 L1101.9 352.1 L1103.6 352.5 L1105.3 352.9 L1107.0 353.3 L1108.7 353.6 L1110.4 354.0 L1112.1 354.3 L1113.8 354.6 L1115.5 355.0 L1117.3 355.3 L1119.0 355.6 L1120.7 355.9 L1122.4 356.2 L1124.1 356.5 L1125.8 356.7 L1127.5 357.0 L1129.2 357.3 L1130.9 357.5 L1132.6 357.8 L1134.3 358.0 L1136.0 358.3 L1137.7 358.5 L1139.4 358.7 L1141.1 358.9 L1142.8 359.1 L1144.6 359.3 L1146.3 359.5 L1148.0 359.7 L1149.7 359.9 L1151.4 360.1 L1153.1 360.3 L1154.8 360.5 L1156.5 360.7 L1158.2 360.8 L1159.9 361.0 L1161.6 361.1 L1163.3 361.3 L1165.0 361.5 L1166.7 361.6 L1168.4 361.7 L1170.1 361.9 L1171.8 362.0 L1173.6 362.1 L1175.3 362.3 L1177.0 362.4 L1178.7 362.5 L1180.4 362.6 L1182.1 362.8 L1183.8 362.9 L1185.5 363.0 L1187.2 363.1 L1188.9 363.2 L1190.6 363.3 L1192.3 363.4 L1194.0 363.5 L1195.7 363.6 L1197.4 363.7 L1199.1 363.8 L1200.8 363.9 L1202.6 363.9 L1204.3 364.0 L1206.0 364.1 L1207.7 364.2 L1209.4 364.3 L1211.1 364.3 L1212.8 364.4 L1214.5 364.5 L1216.2 364.5 L1217.9 364.6 L1219.6 364.7 L1221.3 364.7 L1223.0 364.8 L1224.7 364.9 L1226.4 364.9 L1228.1 365.0 L1229.9 365.0 L1231.6 365.1 L1233.3 365.1 L1235.0 365.2 L1236.7 365.2 L1238.4 365.3 L1240.1 365.3 L1241.8 365.4 L1243.5 365.4 L1245.2 365.5 L1246.9 365.5 L1248.6 365.6 L1250.3 365.6 L1252.0 365.6 L1253.7 365.7 L1255.4 365.7 L1257.1 365.7 L1258.9 365.8 L1260.6 365.8 L1262.3 365.8 L1264.0 365.9 L1265.7 365.9 L1267.4 365.9 L1269.1 366.0 L1270.8 366.0 L1272.5 366.0 L1274.2 366.1 L1275.9 366.1 L1277.6 366.1 L1279.3 366.1 L1281.0 366.2 L1282.7 366.2 L1284.4 366.2 L1286.2 366.2 L1287.9 366.3 L1289.6 366.3 L1291.3 366.3 L1293.0 366.3 L1294.7 366.3" fill="none" stroke="#80802a" stroke-width="2.3" stroke-linejoin="round" stroke-linecap="round"/>
<path d="M817.0 351.7 L818.7 352.0 L820.4 352.2 L822.1 352.4 L823.8 352.7 L825.5 352.9 L827.2 353.1 L828.9 353.3 L830.6 353.4 L832.4 353.6 L834.1 353.8 L835.8 353.9 L837.5 354.0 L839.2 354.1 L840.9 354.2 L842.6 354.3 L844.3 354.3 L846.0 354.4 L847.7 354.4 L849.4 354.4 L851.1 354.4 L852.8 354.4 L854.5 354.3 L856.2 354.3 L857.9 354.2 L859.6 354.1 L861.4 353.9 L863.1 353.8 L864.8 353.6 L866.5 353.4 L868.2 353.2 L869.9 352.9 L871.6 352.7 L873.3 352.4 L875.0 352.0 L876.7 351.7 L878.4 351.3 L880.1 350.9 L881.8 350.5 L883.5 350.1 L885.2 349.6 L886.9 349.1 L888.7 348.6 L890.4 348.1 L892.1 347.6 L893.8 347.0 L895.5 346.4 L897.2 345.8 L898.9 345.2 L900.6 344.5 L902.3 343.9 L904.0 343.2 L905.7 342.5 L907.4 341.8 L909.1 341.1 L910.8 340.4 L912.5 339.7 L914.2 339.0 L915.9 338.3 L917.7 337.6 L919.4 336.9 L921.1 336.2 L922.8 335.5 L924.5 334.8 L926.2 334.1 L927.9 333.5 L929.6 332.9 L931.3 332.3 L933.0 331.7 L934.7 331.1 L936.4 330.6 L938.1 330.1 L939.8 329.6 L941.5 329.2 L943.2 328.8 L945.0 328.4 L946.7 328.1 L948.4 327.8 L950.1 327.6 L951.8 327.4 L953.5 327.2 L955.2 327.1 L956.9 327.1 L958.6 327.1 L960.3 327.1 L962.0 327.2 L963.7 327.3 L965.4 327.6 L967.1 327.9 L968.8 328.2 L970.5 328.6 L972.2 329.1 L974.0 329.5 L975.7 330.1 L977.4 330.6 L979.1 331.2 L980.8 331.8 L982.5 332.4 L984.2 333.1 L985.9 333.7 L987.6 334.4 L989.3 335.0 L991.0 335.7 L992.7 336.4 L994.4 337.0 L996.1 337.7 L997.8 338.3 L999.5 339.0 L1001.2 339.6 L1003.0 340.2 L1004.7 340.8 L1006.4 341.4 L1008.1 342.0 L1009.8 342.6 L1011.5 343.2 L1013.2 343.8 L1014.9 344.3 L1016.6 344.9 L1018.3 345.4 L1020.0 345.9 L1021.7 346.5 L1023.4 347.0 L1025.1 347.5 L1026.8 347.9 L1028.5 348.4 L1030.2 348.9 L1032.0 349.3 L1033.7 349.8 L1035.4 350.2 L1037.1 350.6 L1038.8 351.0 L1040.5 351.4 L1042.2 351.8 L1043.9 352.2 L1045.6 352.6 L1047.3 352.9 L1049.0 353.3 L1050.7 353.6 L1052.4 354.0 L1054.1 354.3 L1055.8 354.6 L1057.5 355.0 L1059.3 355.3 L1061.0 355.6 L1062.7 355.9 L1064.4 356.1 L1066.1 356.4 L1067.8 356.7 L1069.5 357.0 L1071.2 357.2 L1072.9 357.5 L1074.6 357.7 L1076.3 357.9 L1078.0 358.2 L1079.7 358.4 L1081.4 358.6 L1083.1 358.8 L1084.8 359.1 L1086.5 359.3 L1088.3 359.5 L1090.0 359.7 L1091.7 359.9 L1093.4 360.0 L1095.1 360.2 L1096.8 360.4 L1098.5 360.6 L1100.2 360.7 L1101.9 360.9 L1103.6 361.1 L1105.3 361.2 L1107.0 361.4 L1108.7 361.5 L1110.4 361.7 L1112.1 361.8 L1113.8 361.9 L1115.5 362.1 L1117.3 362.2 L1119.0 362.3 L1120.7 362.4 L1122.4 362.6 L1124.1 362.7 L1125.8 362.8 L1127.5 362.9 L1129.2 363.0 L1130.9 363.1 L1132.6 363.2 L1134.3 363.3 L1136.0 363.4 L1137.7 363.5 L1139.4 363.6 L1141.1 363.7 L1142.8 363.8 L1144.6 363.9 L1146.3 363.9 L1148.0 364.0 L1149.7 364.1 L1151.4 364.2 L1153.1 364.3 L1154.8 364.3 L1156.5 364.4 L1158.2 364.5 L1159.9 364.5 L1161.6 364.6 L1163.3 364.7 L1165.0 364.7 L1166.7 364.8 L1168.4 364.9 L1170.1 364.9 L1171.8 365.0 L1173.6 365.0 L1175.3 365.1 L1177.0 365.1 L1178.7 365.2 L1180.4 365.2 L1182.1 365.3 L1183.8 365.3 L1185.5 365.4 L1187.2 365.4 L1188.9 365.5 L1190.6 365.5 L1192.3 365.5 L1194.0 365.6 L1195.7 365.6 L1197.4 365.7 L1199.1 365.7 L1200.8 365.7 L1202.6 365.8 L1204.3 365.8 L1206.0 365.8 L1207.7 365.9 L1209.4 365.9 L1211.1 365.9 L1212.8 366.0 L1214.5 366.0 L1216.2 366.0 L1217.9 366.0 L1219.6 366.1 L1221.3 366.1 L1223.0 366.1 L1224.7 366.1 L1226.4 366.2 L1228.1 366.2 L1229.9 366.2 L1231.6 366.2 L1233.3 366.3 L1235.0 366.3 L1236.7 366.3 L1238.4 366.3 L1240.1 366.3 L1241.8 366.4 L1243.5 366.4 L1245.2 366.4 L1246.9 366.4 L1248.6 366.4 L1250.3 366.5 L1252.0 366.5 L1253.7 366.5 L1255.4 366.5 L1257.1 366.5 L1258.9 366.5 L1260.6 366.5 L1262.3 366.6 L1264.0 366.6 L1265.7 366.6 L1267.4 366.6 L1269.1 366.6 L1270.8 366.6 L1272.5 366.6 L1274.2 366.6 L1275.9 366.7 L1277.6 366.7 L1279.3 366.7 L1281.0 366.7 L1282.7 366.7 L1284.4 366.7 L1286.2 366.7 L1287.9 366.7 L1289.6 366.7 L1291.3 366.8 L1293.0 366.8 L1294.7 366.8" fill="none" stroke="#14146e" stroke-width="2.3" stroke-linejoin="round" stroke-linecap="round"/>
<path d="M817.0 360.3 L818.7 360.4 L820.4 360.4 L822.1 360.4 L823.8 360.4 L825.5 360.4 L827.2 360.4 L828.9 360.4 L830.6 360.4 L832.4 360.5 L834.1 360.5 L835.8 360.5 L837.5 360.4 L839.2 360.4 L840.9 360.4 L842.6 360.4 L844.3 360.4 L846.0 360.4 L847.7 360.4 L849.4 360.3 L851.1 360.3 L852.8 360.3 L854.5 360.2 L856.2 360.2 L857.9 360.1 L859.6 360.1 L861.4 360.0 L863.1 359.9 L864.8 359.9 L866.5 359.8 L868.2 359.7 L869.9 359.6 L871.6 359.5 L873.3 359.4 L875.0 359.3 L876.7 359.2 L878.4 359.1 L880.1 359.0 L881.8 358.8 L883.5 358.7 L885.2 358.6 L886.9 358.4 L888.7 358.3 L890.4 358.1 L892.1 357.9 L893.8 357.8 L895.5 357.6 L897.2 357.4 L898.9 357.2 L900.6 357.0 L902.3 356.8 L904.0 356.6 L905.7 356.4 L907.4 356.2 L909.1 356.0 L910.8 355.8 L912.5 355.6 L914.2 355.4 L915.9 355.2 L917.7 355.0 L919.4 354.8 L921.1 354.6 L922.8 354.4 L924.5 354.2 L926.2 354.1 L927.9 353.9 L929.6 353.7 L931.3 353.5 L933.0 353.4 L934.7 353.2 L936.4 353.1 L938.1 352.9 L939.8 352.8 L941.5 352.7 L943.2 352.6 L945.0 352.5 L946.7 352.4 L948.4 352.3 L950.1 352.2 L951.8 352.2 L953.5 352.1 L955.2 352.1 L956.9 352.1 L958.6 352.1 L960.3 352.1 L962.0 352.1 L963.7 352.2 L965.4 352.2 L967.1 352.3 L968.8 352.4 L970.5 352.5 L972.2 352.6 L974.0 352.8 L975.7 352.9 L977.4 353.1 L979.1 353.2 L980.8 353.4 L982.5 353.6 L984.2 353.8 L985.9 354.0 L987.6 354.1 L989.3 354.3 L991.0 354.5 L992.7 354.7 L994.4 354.9 L996.1 355.1 L997.8 355.2 L999.5 355.4 L1001.2 355.6 L1003.0 355.8 L1004.7 356.0 L1006.4 356.1 L1008.1 356.3 L1009.8 356.5 L1011.5 356.6 L1013.2 356.8 L1014.9 357.0 L1016.6 357.1 L1018.3 357.3 L1020.0 357.4 L1021.7 357.6 L1023.4 357.7 L1025.1 357.9 L1026.8 358.0 L1028.5 358.2 L1030.2 358.3 L1032.0 358.5 L1033.7 358.6 L1035.4 358.8 L1037.1 358.9 L1038.8 359.0 L1040.5 359.2 L1042.2 359.3 L1043.9 359.4 L1045.6 359.5 L1047.3 359.6 L1049.0 359.8 L1050.7 359.9 L1052.4 360.0 L1054.1 360.1 L1055.8 360.2 L1057.5 360.3 L1059.3 360.4 L1061.0 360.5 L1062.7 360.6 L1064.4 360.7 L1066.1 360.8 L1067.8 360.9 L1069.5 361.0 L1071.2 361.1 L1072.9 361.2 L1074.6 361.3 L1076.3 361.4 L1078.0 361.4 L1079.7 361.5 L1081.4 361.6 L1083.1 361.7 L1084.8 361.8 L1086.5 361.8 L1088.3 361.9 L1090.0 362.0 L1091.7 362.1 L1093.4 362.1 L1095.1 362.2 L1096.8 362.3 L1098.5 362.3 L1100.2 362.4 L1101.9 362.5 L1103.6 362.5 L1105.3 362.6 L1107.0 362.6 L1108.7 362.7 L1110.4 362.8 L1112.1 362.8 L1113.8 362.9 L1115.5 362.9 L1117.3 363.0 L1119.0 363.0 L1120.7 363.1 L1122.4 363.1 L1124.1 363.2 L1125.8 363.2 L1127.5 363.3 L1129.2 363.3 L1130.9 363.4 L1132.6 363.4 L1134.3 363.5 L1136.0 363.5 L1137.7 363.6 L1139.4 363.6 L1141.1 363.7 L1142.8 363.7 L1144.6 363.7 L1146.3 363.8 L1148.0 363.8 L1149.7 363.9 L1151.4 363.9 L1153.1 364.0 L1154.8 364.0 L1156.5 364.0 L1158.2 364.1 L1159.9 364.1 L1161.6 364.1 L1163.3 364.2 L1165.0 364.2 L1166.7 364.2 L1168.4 364.3 L1170.1 364.3 L1171.8 364.3 L1173.6 364.4 L1175.3 364.4 L1177.0 364.4 L1178.7 364.5 L1180.4 364.5 L1182.1 364.5 L1183.8 364.6 L1185.5 364.6 L1187.2 364.6 L1188.9 364.7 L1190.6 364.7 L1192.3 364.7 L1194.0 364.8 L1195.7 364.8 L1197.4 364.8 L1199.1 364.8 L1200.8 364.9 L1202.6 364.9 L1204.3 364.9 L1206.0 364.9 L1207.7 365.0 L1209.4 365.0 L1211.1 365.0 L1212.8 365.1 L1214.5 365.1 L1216.2 365.1 L1217.9 365.1 L1219.6 365.2 L1221.3 365.2 L1223.0 365.2 L1224.7 365.2 L1226.4 365.3 L1228.1 365.3 L1229.9 365.3 L1231.6 365.3 L1233.3 365.3 L1235.0 365.4 L1236.7 365.4 L1238.4 365.4 L1240.1 365.4 L1241.8 365.5 L1243.5 365.5 L1245.2 365.5 L1246.9 365.5 L1248.6 365.6 L1250.3 365.6 L1252.0 365.6 L1253.7 365.6 L1255.4 365.6 L1257.1 365.7 L1258.9 365.7 L1260.6 365.7 L1262.3 365.7 L1264.0 365.7 L1265.7 365.8 L1267.4 365.8 L1269.1 365.8 L1270.8 365.8 L1272.5 365.8 L1274.2 365.9 L1275.9 365.9 L1277.6 365.9 L1279.3 365.9 L1281.0 365.9 L1282.7 366.0 L1284.4 366.0 L1286.2 366.0 L1287.9 366.0 L1289.6 366.0 L1291.3 366.1 L1293.0 366.1 L1294.7 366.1" fill="none" stroke="#7e1e1e" stroke-width="2.3" stroke-linejoin="round" stroke-linecap="round"/>
<path d="M817.0 352.3 L818.7 352.6 L820.4 352.9 L822.1 353.2 L823.8 353.5 L825.5 353.7 L827.2 354.0 L828.9 354.3 L830.6 354.5 L832.4 354.7 L834.1 355.0 L835.8 355.2 L837.5 355.4 L839.2 355.6 L840.9 355.9 L842.6 356.1 L844.3 356.3 L846.0 356.4 L847.7 356.6 L849.4 356.8 L851.1 357.0 L852.8 357.1 L854.5 357.3 L856.2 357.4 L857.9 357.6 L859.6 357.7 L861.4 357.8 L863.1 358.0 L864.8 358.1 L866.5 358.2 L868.2 358.3 L869.9 358.4 L871.6 358.5 L873.3 358.6 L875.0 358.6 L876.7 358.7 L878.4 358.8 L880.1 358.8 L881.8 358.9 L883.5 358.9 L885.2 359.0 L886.9 359.0 L888.7 359.0 L890.4 359.0 L892.1 359.1 L893.8 359.1 L895.5 359.1 L897.2 359.1 L898.9 359.1 L900.6 359.1 L902.3 359.0 L904.0 359.0 L905.7 359.0 L907.4 359.0 L909.1 359.0 L910.8 358.9 L912.5 358.9 L914.2 358.9 L915.9 358.8 L917.7 358.8 L919.4 358.7 L921.1 358.7 L922.8 358.7 L924.5 358.6 L926.2 358.6 L927.9 358.5 L929.6 358.5 L931.3 358.5 L933.0 358.4 L934.7 358.4 L936.4 358.4 L938.1 358.4 L939.8 358.4 L941.5 358.3 L943.2 358.3 L945.0 358.3 L946.7 358.3 L948.4 358.3 L950.1 358.3 L951.8 358.4 L953.5 358.4 L955.2 358.4 L956.9 358.5 L958.6 358.5 L960.3 358.6 L962.0 358.6 L963.7 358.7 L965.4 358.8 L967.1 358.8 L968.8 358.9 L970.5 359.0 L972.2 359.2 L974.0 359.3 L975.7 359.4 L977.4 359.5 L979.1 359.7 L980.8 359.8 L982.5 359.9 L984.2 360.1 L985.9 360.2 L987.6 360.3 L989.3 360.5 L991.0 360.6 L992.7 360.7 L994.4 360.9 L996.1 361.0 L997.8 361.1 L999.5 361.3 L1001.2 361.4 L1003.0 361.5 L1004.7 361.7 L1006.4 361.8 L1008.1 361.9 L1009.8 362.0 L1011.5 362.1 L1013.2 362.2 L1014.9 362.4 L1016.6 362.5 L1018.3 362.6 L1020.0 362.7 L1021.7 362.8 L1023.4 362.9 L1025.1 363.0 L1026.8 363.1 L1028.5 363.2 L1030.2 363.3 L1032.0 363.4 L1033.7 363.5 L1035.4 363.5 L1037.1 363.6 L1038.8 363.7 L1040.5 363.8 L1042.2 363.9 L1043.9 363.9 L1045.6 364.0 L1047.3 364.1 L1049.0 364.2 L1050.7 364.2 L1052.4 364.3 L1054.1 364.4 L1055.8 364.4 L1057.5 364.5 L1059.3 364.6 L1061.0 364.6 L1062.7 364.7 L1064.4 364.7 L1066.1 364.8 L1067.8 364.9 L1069.5 364.9 L1071.2 365.0 L1072.9 365.0 L1074.6 365.1 L1076.3 365.1 L1078.0 365.2 L1079.7 365.2 L1081.4 365.3 L1083.1 365.3 L1084.8 365.3 L1086.5 365.4 L1088.3 365.4 L1090.0 365.5 L1091.7 365.5 L1093.4 365.6 L1095.1 365.6 L1096.8 365.6 L1098.5 365.7 L1100.2 365.7 L1101.9 365.7 L1103.6 365.8 L1105.3 365.8 L1107.0 365.8 L1108.7 365.9 L1110.4 365.9 L1112.1 365.9 L1113.8 365.9 L1115.5 366.0 L1117.3 366.0 L1119.0 366.0 L1120.7 366.1 L1122.4 366.1 L1124.1 366.1 L1125.8 366.1 L1127.5 366.2 L1129.2 366.2 L1130.9 366.2 L1132.6 366.2 L1134.3 366.2 L1136.0 366.3 L1137.7 366.3 L1139.4 366.3 L1141.1 366.3 L1142.8 366.3 L1144.6 366.4 L1146.3 366.4 L1148.0 366.4 L1149.7 366.4 L1151.4 366.4 L1153.1 366.4 L1154.8 366.5 L1156.5 366.5 L1158.2 366.5 L1159.9 366.5 L1161.6 366.5 L1163.3 366.5 L1165.0 366.5 L1166.7 366.6 L1168.4 366.6 L1170.1 366.6 L1171.8 366.6 L1173.6 366.6 L1175.3 366.6 L1177.0 366.6 L1178.7 366.6 L1180.4 366.7 L1182.1 366.7 L1183.8 366.7 L1185.5 366.7 L1187.2 366.7 L1188.9 366.7 L1190.6 366.7 L1192.3 366.7 L1194.0 366.7 L1195.7 366.7 L1197.4 366.8 L1199.1 366.8 L1200.8 366.8 L1202.6 366.8 L1204.3 366.8 L1206.0 366.8 L1207.7 366.8 L1209.4 366.8 L1211.1 366.8 L1212.8 366.8 L1214.5 366.8 L1216.2 366.8 L1217.9 366.8 L1219.6 366.8 L1221.3 366.9 L1223.0 366.9 L1224.7 366.9 L1226.4 366.9 L1228.1 366.9 L1229.9 366.9 L1231.6 366.9 L1233.3 366.9 L1235.0 366.9 L1236.7 366.9 L1238.4 366.9 L1240.1 366.9 L1241.8 366.9 L1243.5 366.9 L1245.2 366.9 L1246.9 366.9 L1248.6 366.9 L1250.3 366.9 L1252.0 366.9 L1253.7 366.9 L1255.4 366.9 L1257.1 367.0 L1258.9 367.0 L1260.6 367.0 L1262.3 367.0 L1264.0 367.0 L1265.7 367.0 L1267.4 367.0 L1269.1 367.0 L1270.8 367.0 L1272.5 367.0 L1274.2 367.0 L1275.9 367.0 L1277.6 367.0 L1279.3 367.0 L1281.0 367.0 L1282.7 367.0 L1284.4 367.0 L1286.2 367.0 L1287.9 367.0 L1289.6 367.0 L1291.3 367.0 L1293.0 367.0 L1294.7 367.0" fill="none" stroke="#e0388a" stroke-width="2.3" stroke-linejoin="round" stroke-linecap="round"/>
<path d="M817.0 352.4 L818.7 352.7 L820.4 353.0 L822.1 353.2 L823.8 353.5 L825.5 353.8 L827.2 354.0 L828.9 354.3 L830.6 354.5 L832.4 354.8 L834.1 355.0 L835.8 355.3 L837.5 355.5 L839.2 355.7 L840.9 356.0 L842.6 356.2 L844.3 356.4 L846.0 356.6 L847.7 356.8 L849.4 357.0 L851.1 357.2 L852.8 357.4 L854.5 357.6 L856.2 357.7 L857.9 357.9 L859.6 358.1 L861.4 358.3 L863.1 358.4 L864.8 358.6 L866.5 358.7 L868.2 358.9 L869.9 359.1 L871.6 359.2 L873.3 359.3 L875.0 359.5 L876.7 359.6 L878.4 359.8 L880.1 359.9 L881.8 360.0 L883.5 360.1 L885.2 360.3 L886.9 360.4 L888.7 360.5 L890.4 360.6 L892.1 360.7 L893.8 360.8 L895.5 360.9 L897.2 361.0 L898.9 361.1 L900.6 361.2 L902.3 361.3 L904.0 361.4 L905.7 361.5 L907.4 361.6 L909.1 361.6 L910.8 361.7 L912.5 361.8 L914.2 361.9 L915.9 362.0 L917.7 362.0 L919.4 362.1 L921.1 362.2 L922.8 362.2 L924.5 362.3 L926.2 362.4 L927.9 362.4 L929.6 362.5 L931.3 362.6 L933.0 362.6 L934.7 362.7 L936.4 362.8 L938.1 362.8 L939.8 362.9 L941.5 362.9 L943.2 363.0 L945.0 363.0 L946.7 363.1 L948.4 363.2 L950.1 363.2 L951.8 363.3 L953.5 363.3 L955.2 363.4 L956.9 363.4 L958.6 363.5 L960.3 363.5 L962.0 363.6 L963.7 363.7 L965.4 363.7 L967.1 363.8 L968.8 363.8 L970.5 363.9 L972.2 363.9 L974.0 364.0 L975.7 364.0 L977.4 364.1 L979.1 364.2 L980.8 364.2 L982.5 364.3 L984.2 364.3 L985.9 364.4 L987.6 364.4 L989.3 364.5 L991.0 364.5 L992.7 364.6 L994.4 364.6 L996.1 364.7 L997.8 364.7 L999.5 364.8 L1001.2 364.8 L1003.0 364.9 L1004.7 364.9 L1006.4 365.0 L1008.1 365.0 L1009.8 365.1 L1011.5 365.1 L1013.2 365.1 L1014.9 365.2 L1016.6 365.2 L1018.3 365.3 L1020.0 365.3 L1021.7 365.3 L1023.4 365.4 L1025.1 365.4 L1026.8 365.5 L1028.5 365.5 L1030.2 365.5 L1032.0 365.6 L1033.7 365.6 L1035.4 365.6 L1037.1 365.6 L1038.8 365.7 L1040.5 365.7 L1042.2 365.7 L1043.9 365.8 L1045.6 365.8 L1047.3 365.8 L1049.0 365.8 L1050.7 365.9 L1052.4 365.9 L1054.1 365.9 L1055.8 366.0 L1057.5 366.0 L1059.3 366.0 L1061.0 366.0 L1062.7 366.0 L1064.4 366.1 L1066.1 366.1 L1067.8 366.1 L1069.5 366.1 L1071.2 366.2 L1072.9 366.2 L1074.6 366.2 L1076.3 366.2 L1078.0 366.2 L1079.7 366.2 L1081.4 366.3 L1083.1 366.3 L1084.8 366.3 L1086.5 366.3 L1088.3 366.3 L1090.0 366.4 L1091.7 366.4 L1093.4 366.4 L1095.1 366.4 L1096.8 366.4 L1098.5 366.4 L1100.2 366.4 L1101.9 366.5 L1103.6 366.5 L1105.3 366.5 L1107.0 366.5 L1108.7 366.5 L1110.4 366.5 L1112.1 366.5 L1113.8 366.5 L1115.5 366.6 L1117.3 366.6 L1119.0 366.6 L1120.7 366.6 L1122.4 366.6 L1124.1 366.6 L1125.8 366.6 L1127.5 366.6 L1129.2 366.6 L1130.9 366.6 L1132.6 366.7 L1134.3 366.7 L1136.0 366.7 L1137.7 366.7 L1139.4 366.7 L1141.1 366.7 L1142.8 366.7 L1144.6 366.7 L1146.3 366.7 L1148.0 366.7 L1149.7 366.7 L1151.4 366.8 L1153.1 366.8 L1154.8 366.8 L1156.5 366.8 L1158.2 366.8 L1159.9 366.8 L1161.6 366.8 L1163.3 366.8 L1165.0 366.8 L1166.7 366.8 L1168.4 366.8 L1170.1 366.8 L1171.8 366.8 L1173.6 366.8 L1175.3 366.8 L1177.0 366.8 L1178.7 366.9 L1180.4 366.9 L1182.1 366.9 L1183.8 366.9 L1185.5 366.9 L1187.2 366.9 L1188.9 366.9 L1190.6 366.9 L1192.3 366.9 L1194.0 366.9 L1195.7 366.9 L1197.4 366.9 L1199.1 366.9 L1200.8 366.9 L1202.6 366.9 L1204.3 366.9 L1206.0 366.9 L1207.7 366.9 L1209.4 366.9 L1211.1 366.9 L1212.8 366.9 L1214.5 366.9 L1216.2 366.9 L1217.9 366.9 L1219.6 366.9 L1221.3 367.0 L1223.0 367.0 L1224.7 367.0 L1226.4 367.0 L1228.1 367.0 L1229.9 367.0 L1231.6 367.0 L1233.3 367.0 L1235.0 367.0 L1236.7 367.0 L1238.4 367.0 L1240.1 367.0 L1241.8 367.0 L1243.5 367.0 L1245.2 367.0 L1246.9 367.0 L1248.6 367.0 L1250.3 367.0 L1252.0 367.0 L1253.7 367.0 L1255.4 367.0 L1257.1 367.0 L1258.9 367.0 L1260.6 367.0 L1262.3 367.0 L1264.0 367.0 L1265.7 367.0 L1267.4 367.0 L1269.1 367.0 L1270.8 367.0 L1272.5 367.0 L1274.2 367.0 L1275.9 367.0 L1277.6 367.0 L1279.3 367.0 L1281.0 367.0 L1282.7 367.0 L1284.4 367.0 L1286.2 367.0 L1287.9 367.0 L1289.6 367.0 L1291.3 367.0 L1293.0 367.0 L1294.7 367.0" fill="none" stroke="#1a8a1a" stroke-width="2.3" stroke-linejoin="round" stroke-linecap="round"/>
<path d="M817.0 352.1 L818.7 352.4 L820.4 352.7 L822.1 353.0 L823.8 353.3 L825.5 353.5 L827.2 353.8 L828.9 354.1 L830.6 354.3 L832.4 354.6 L834.1 354.8 L835.8 355.1 L837.5 355.3 L839.2 355.5 L840.9 355.8 L842.6 356.0 L844.3 356.2 L846.0 356.4 L847.7 356.6 L849.4 356.8 L851.1 357.0 L852.8 357.2 L854.5 357.4 L856.2 357.6 L857.9 357.8 L859.6 358.0 L861.4 358.1 L863.1 358.3 L864.8 358.5 L866.5 358.6 L868.2 358.8 L869.9 359.0 L871.6 359.1 L873.3 359.3 L875.0 359.4 L876.7 359.5 L878.4 359.7 L880.1 359.8 L881.8 360.0 L883.5 360.1 L885.2 360.2 L886.9 360.3 L888.7 360.5 L890.4 360.6 L892.1 360.7 L893.8 360.8 L895.5 360.9 L897.2 361.0 L898.9 361.1 L900.6 361.2 L902.3 361.3 L904.0 361.4 L905.7 361.5 L907.4 361.6 L909.1 361.7 L910.8 361.8 L912.5 361.9 L914.2 362.0 L915.9 362.1 L917.7 362.1 L919.4 362.2 L921.1 362.3 L922.8 362.4 L924.5 362.4 L926.2 362.5 L927.9 362.6 L929.6 362.7 L931.3 362.7 L933.0 362.8 L934.7 362.9 L936.4 362.9 L938.1 363.0 L939.8 363.1 L941.5 363.1 L943.2 363.2 L945.0 363.2 L946.7 363.3 L948.4 363.4 L950.1 363.4 L951.8 363.5 L953.5 363.5 L955.2 363.6 L956.9 363.7 L958.6 363.7 L960.3 363.8 L962.0 363.8 L963.7 363.9 L965.4 363.9 L967.1 364.0 L968.8 364.0 L970.5 364.1 L972.2 364.2 L974.0 364.2 L975.7 364.3 L977.4 364.3 L979.1 364.4 L980.8 364.4 L982.5 364.5 L984.2 364.5 L985.9 364.6 L987.6 364.6 L989.3 364.7 L991.0 364.7 L992.7 364.8 L994.4 364.8 L996.1 364.9 L997.8 364.9 L999.5 365.0 L1001.2 365.0 L1003.0 365.0 L1004.7 365.1 L1006.4 365.1 L1008.1 365.2 L1009.8 365.2 L1011.5 365.2 L1013.2 365.3 L1014.9 365.3 L1016.6 365.4 L1018.3 365.4 L1020.0 365.4 L1021.7 365.5 L1023.4 365.5 L1025.1 365.5 L1026.8 365.6 L1028.5 365.6 L1030.2 365.6 L1032.0 365.7 L1033.7 365.7 L1035.4 365.7 L1037.1 365.7 L1038.8 365.8 L1040.5 365.8 L1042.2 365.8 L1043.9 365.8 L1045.6 365.9 L1047.3 365.9 L1049.0 365.9 L1050.7 365.9 L1052.4 366.0 L1054.1 366.0 L1055.8 366.0 L1057.5 366.0 L1059.3 366.1 L1061.0 366.1 L1062.7 366.1 L1064.4 366.1 L1066.1 366.1 L1067.8 366.2 L1069.5 366.2 L1071.2 366.2 L1072.9 366.2 L1074.6 366.2 L1076.3 366.3 L1078.0 366.3 L1079.7 366.3 L1081.4 366.3 L1083.1 366.3 L1084.8 366.3 L1086.5 366.4 L1088.3 366.4 L1090.0 366.4 L1091.7 366.4 L1093.4 366.4 L1095.1 366.4 L1096.8 366.4 L1098.5 366.5 L1100.2 366.5 L1101.9 366.5 L1103.6 366.5 L1105.3 366.5 L1107.0 366.5 L1108.7 366.5 L1110.4 366.5 L1112.1 366.6 L1113.8 366.6 L1115.5 366.6 L1117.3 366.6 L1119.0 366.6 L1120.7 366.6 L1122.4 366.6 L1124.1 366.6 L1125.8 366.6 L1127.5 366.7 L1129.2 366.7 L1130.9 366.7 L1132.6 366.7 L1134.3 366.7 L1136.0 366.7 L1137.7 366.7 L1139.4 366.7 L1141.1 366.7 L1142.8 366.7 L1144.6 366.7 L1146.3 366.7 L1148.0 366.8 L1149.7 366.8 L1151.4 366.8 L1153.1 366.8 L1154.8 366.8 L1156.5 366.8 L1158.2 366.8 L1159.9 366.8 L1161.6 366.8 L1163.3 366.8 L1165.0 366.8 L1166.7 366.8 L1168.4 366.8 L1170.1 366.8 L1171.8 366.8 L1173.6 366.8 L1175.3 366.8 L1177.0 366.9 L1178.7 366.9 L1180.4 366.9 L1182.1 366.9 L1183.8 366.9 L1185.5 366.9 L1187.2 366.9 L1188.9 366.9 L1190.6 366.9 L1192.3 366.9 L1194.0 366.9 L1195.7 366.9 L1197.4 366.9 L1199.1 366.9 L1200.8 366.9 L1202.6 366.9 L1204.3 366.9 L1206.0 366.9 L1207.7 366.9 L1209.4 366.9 L1211.1 366.9 L1212.8 366.9 L1214.5 366.9 L1216.2 366.9 L1217.9 367.0 L1219.6 367.0 L1221.3 367.0 L1223.0 367.0 L1224.7 367.0 L1226.4 367.0 L1228.1 367.0 L1229.9 367.0 L1231.6 367.0 L1233.3 367.0 L1235.0 367.0 L1236.7 367.0 L1238.4 367.0 L1240.1 367.0 L1241.8 367.0 L1243.5 367.0 L1245.2 367.0 L1246.9 367.0 L1248.6 367.0 L1250.3 367.0 L1252.0 367.0 L1253.7 367.0 L1255.4 367.0 L1257.1 367.0 L1258.9 367.0 L1260.6 367.0 L1262.3 367.0 L1264.0 367.0 L1265.7 367.0 L1267.4 367.0 L1269.1 367.0 L1270.8 367.0 L1272.5 367.0 L1274.2 367.0 L1275.9 367.0 L1277.6 367.0 L1279.3 367.0 L1281.0 367.0 L1282.7 367.0 L1284.4 367.0 L1286.2 367.0 L1287.9 367.0 L1289.6 367.0 L1291.3 367.0 L1293.0 367.0 L1294.7 367.0" fill="none" stroke="#1a1aa8" stroke-width="2.3" stroke-linejoin="round" stroke-linecap="round"/>
<path d="M817.0 351.0 L818.7 351.3 L820.4 351.6 L822.1 351.9 L823.8 352.2 L825.5 352.5 L827.2 352.8 L828.9 353.1 L830.6 353.3 L832.4 353.6 L834.1 353.9 L835.8 354.1 L837.5 354.3 L839.2 354.6 L840.9 354.8 L842.6 355.1 L844.3 355.3 L846.0 355.5 L847.7 355.7 L849.4 355.9 L851.1 356.1 L852.8 356.3 L854.5 356.5 L856.2 356.7 L857.9 356.9 L859.6 357.1 L861.4 357.3 L863.1 357.5 L864.8 357.7 L866.5 357.8 L868.2 358.0 L869.9 358.2 L871.6 358.3 L873.3 358.5 L875.0 358.6 L876.7 358.8 L878.4 358.9 L880.1 359.1 L881.8 359.2 L883.5 359.4 L885.2 359.5 L886.9 359.6 L888.7 359.8 L890.4 359.9 L892.1 360.0 L893.8 360.1 L895.5 360.3 L897.2 360.4 L898.9 360.5 L900.6 360.6 L902.3 360.7 L904.0 360.8 L905.7 360.9 L907.4 361.0 L909.1 361.1 L910.8 361.2 L912.5 361.3 L914.2 361.4 L915.9 361.5 L917.7 361.6 L919.4 361.7 L921.1 361.8 L922.8 361.9 L924.5 362.0 L926.2 362.1 L927.9 362.1 L929.6 362.2 L931.3 362.3 L933.0 362.4 L934.7 362.5 L936.4 362.5 L938.1 362.6 L939.8 362.7 L941.5 362.7 L943.2 362.8 L945.0 362.9 L946.7 362.9 L948.4 363.0 L950.1 363.1 L951.8 363.1 L953.5 363.2 L955.2 363.2 L956.9 363.3 L958.6 363.4 L960.3 363.4 L962.0 363.5 L963.7 363.5 L965.4 363.6 L967.1 363.6 L968.8 363.7 L970.5 363.7 L972.2 363.8 L974.0 363.8 L975.7 363.9 L977.4 363.9 L979.1 363.9 L980.8 364.0 L982.5 364.0 L984.2 364.1 L985.9 364.1 L987.6 364.1 L989.3 364.2 L991.0 364.2 L992.7 364.3 L994.4 364.3 L996.1 364.3 L997.8 364.4 L999.5 364.4 L1001.2 364.4 L1003.0 364.5 L1004.7 364.5 L1006.4 364.5 L1008.1 364.6 L1009.8 364.6 L1011.5 364.6 L1013.2 364.6 L1014.9 364.7 L1016.6 364.7 L1018.3 364.7 L1020.0 364.8 L1021.7 364.8 L1023.4 364.8 L1025.1 364.8 L1026.8 364.9 L1028.5 364.9 L1030.2 364.9 L1032.0 364.9 L1033.7 364.9 L1035.4 365.0 L1037.1 365.0 L1038.8 365.0 L1040.5 365.0 L1042.2 365.1 L1043.9 365.1 L1045.6 365.1 L1047.3 365.1 L1049.0 365.1 L1050.7 365.1 L1052.4 365.2 L1054.1 365.2 L1055.8 365.2 L1057.5 365.2 L1059.3 365.2 L1061.0 365.2 L1062.7 365.3 L1064.4 365.3 L1066.1 365.3 L1067.8 365.3 L1069.5 365.3 L1071.2 365.3 L1072.9 365.4 L1074.6 365.4 L1076.3 365.4 L1078.0 365.4 L1079.7 365.4 L1081.4 365.4 L1083.1 365.4 L1084.8 365.4 L1086.5 365.5 L1088.3 365.5 L1090.0 365.5 L1091.7 365.5 L1093.4 365.5 L1095.1 365.5 L1096.8 365.5 L1098.5 365.5 L1100.2 365.5 L1101.9 365.5 L1103.6 365.6 L1105.3 365.6 L1107.0 365.6 L1108.7 365.6 L1110.4 365.6 L1112.1 365.6 L1113.8 365.6 L1115.5 365.6 L1117.3 365.6 L1119.0 365.6 L1120.7 365.6 L1122.4 365.7 L1124.1 365.7 L1125.8 365.7 L1127.5 365.7 L1129.2 365.7 L1130.9 365.7 L1132.6 365.7 L1134.3 365.7 L1136.0 365.7 L1137.7 365.7 L1139.4 365.7 L1141.1 365.7 L1142.8 365.7 L1144.6 365.7 L1146.3 365.7 L1148.0 365.7 L1149.7 365.8 L1151.4 365.8 L1153.1 365.8 L1154.8 365.8 L1156.5 365.8 L1158.2 365.8 L1159.9 365.8 L1161.6 365.8 L1163.3 365.8 L1165.0 365.8 L1166.7 365.8 L1168.4 365.8 L1170.1 365.8 L1171.8 365.8 L1173.6 365.8 L1175.3 365.8 L1177.0 365.8 L1178.7 365.8 L1180.4 365.8 L1182.1 365.8 L1183.8 365.8 L1185.5 365.8 L1187.2 365.8 L1188.9 365.9 L1190.6 365.9 L1192.3 365.9 L1194.0 365.9 L1195.7 365.9 L1197.4 365.9 L1199.1 365.9 L1200.8 365.9 L1202.6 365.9 L1204.3 365.9 L1206.0 365.9 L1207.7 365.9 L1209.4 365.9 L1211.1 365.9 L1212.8 365.9 L1214.5 365.9 L1216.2 365.9 L1217.9 365.9 L1219.6 365.9 L1221.3 365.9 L1223.0 365.9 L1224.7 365.9 L1226.4 365.9 L1228.1 365.9 L1229.9 365.9 L1231.6 365.9 L1233.3 365.9 L1235.0 365.9 L1236.7 365.9 L1238.4 365.9 L1240.1 365.9 L1241.8 365.9 L1243.5 365.9 L1245.2 365.9 L1246.9 365.9 L1248.6 365.9 L1250.3 365.9 L1252.0 365.9 L1253.7 365.9 L1255.4 365.9 L1257.1 365.9 L1258.9 365.9 L1260.6 365.9 L1262.3 365.9 L1264.0 365.9 L1265.7 365.9 L1267.4 365.9 L1269.1 366.0 L1270.8 366.0 L1272.5 366.0 L1274.2 366.0 L1275.9 366.0 L1277.6 366.0 L1279.3 366.0 L1281.0 366.0 L1282.7 366.0 L1284.4 366.0 L1286.2 366.0 L1287.9 366.0 L1289.6 366.0 L1291.3 366.0 L1293.0 366.0 L1294.7 366.0" fill="none" stroke="#ec9030" stroke-width="2.3" stroke-linejoin="round" stroke-linecap="round"/>
<path d="M817.0 351.0 L818.7 351.3 L820.4 351.6 L822.1 351.9 L823.8 352.2 L825.5 352.5 L827.2 352.8 L828.9 353.1 L830.6 353.3 L832.4 353.6 L834.1 353.8 L835.8 354.1 L837.5 354.3 L839.2 354.6 L840.9 354.8 L842.6 355.1 L844.3 355.3 L846.0 355.5 L847.7 355.7 L849.4 355.9 L851.1 356.1 L852.8 356.3 L854.5 356.6 L856.2 356.7 L857.9 356.9 L859.6 357.1 L861.4 357.3 L863.1 357.5 L864.8 357.7 L866.5 357.8 L868.2 358.0 L869.9 358.2 L871.6 358.3 L873.3 358.5 L875.0 358.7 L876.7 358.8 L878.4 359.0 L880.1 359.1 L881.8 359.3 L883.5 359.4 L885.2 359.5 L886.9 359.7 L888.7 359.8 L890.4 359.9 L892.1 360.1 L893.8 360.2 L895.5 360.3 L897.2 360.4 L898.9 360.6 L900.6 360.7 L902.3 360.8 L904.0 360.9 L905.7 361.0 L907.4 361.1 L909.1 361.2 L910.8 361.3 L912.5 361.4 L914.2 361.5 L915.9 361.6 L917.7 361.7 L919.4 361.8 L921.1 361.9 L922.8 362.0 L924.5 362.1 L926.2 362.2 L927.9 362.2 L929.6 362.3 L931.3 362.4 L933.0 362.5 L934.7 362.6 L936.4 362.6 L938.1 362.7 L939.8 362.8 L941.5 362.8 L943.2 362.9 L945.0 363.0 L946.7 363.0 L948.4 363.1 L950.1 363.2 L951.8 363.2 L953.5 363.3 L955.2 363.4 L956.9 363.4 L958.6 363.5 L960.3 363.5 L962.0 363.6 L963.7 363.6 L965.4 363.7 L967.1 363.8 L968.8 363.8 L970.5 363.9 L972.2 363.9 L974.0 364.0 L975.7 364.0 L977.4 364.0 L979.1 364.1 L980.8 364.1 L982.5 364.2 L984.2 364.2 L985.9 364.3 L987.6 364.3 L989.3 364.3 L991.0 364.4 L992.7 364.4 L994.4 364.5 L996.1 364.5 L997.8 364.5 L999.5 364.6 L1001.2 364.6 L1003.0 364.6 L1004.7 364.7 L1006.4 364.7 L1008.1 364.7 L1009.8 364.8 L1011.5 364.8 L1013.2 364.8 L1014.9 364.9 L1016.6 364.9 L1018.3 364.9 L1020.0 364.9 L1021.7 365.0 L1023.4 365.0 L1025.1 365.0 L1026.8 365.0 L1028.5 365.1 L1030.2 365.1 L1032.0 365.1 L1033.7 365.1 L1035.4 365.2 L1037.1 365.2 L1038.8 365.2 L1040.5 365.2 L1042.2 365.3 L1043.9 365.3 L1045.6 365.3 L1047.3 365.3 L1049.0 365.3 L1050.7 365.4 L1052.4 365.4 L1054.1 365.4 L1055.8 365.4 L1057.5 365.4 L1059.3 365.4 L1061.0 365.5 L1062.7 365.5 L1064.4 365.5 L1066.1 365.5 L1067.8 365.5 L1069.5 365.5 L1071.2 365.6 L1072.9 365.6 L1074.6 365.6 L1076.3 365.6 L1078.0 365.6 L1079.7 365.6 L1081.4 365.6 L1083.1 365.7 L1084.8 365.7 L1086.5 365.7 L1088.3 365.7 L1090.0 365.7 L1091.7 365.7 L1093.4 365.7 L1095.1 365.7 L1096.8 365.7 L1098.5 365.8 L1100.2 365.8 L1101.9 365.8 L1103.6 365.8 L1105.3 365.8 L1107.0 365.8 L1108.7 365.8 L1110.4 365.8 L1112.1 365.8 L1113.8 365.8 L1115.5 365.9 L1117.3 365.9 L1119.0 365.9 L1120.7 365.9 L1122.4 365.9 L1124.1 365.9 L1125.8 365.9 L1127.5 365.9 L1129.2 365.9 L1130.9 365.9 L1132.6 365.9 L1134.3 365.9 L1136.0 365.9 L1137.7 366.0 L1139.4 366.0 L1141.1 366.0 L1142.8 366.0 L1144.6 366.0 L1146.3 366.0 L1148.0 366.0 L1149.7 366.0 L1151.4 366.0 L1153.1 366.0 L1154.8 366.0 L1156.5 366.0 L1158.2 366.0 L1159.9 366.0 L1161.6 366.0 L1163.3 366.0 L1165.0 366.0 L1166.7 366.1 L1168.4 366.1 L1170.1 366.1 L1171.8 366.1 L1173.6 366.1 L1175.3 366.1 L1177.0 366.1 L1178.7 366.1 L1180.4 366.1 L1182.1 366.1 L1183.8 366.1 L1185.5 366.1 L1187.2 366.1 L1188.9 366.1 L1190.6 366.1 L1192.3 366.1 L1194.0 366.1 L1195.7 366.1 L1197.4 366.1 L1199.1 366.1 L1200.8 366.1 L1202.6 366.1 L1204.3 366.1 L1206.0 366.1 L1207.7 366.1 L1209.4 366.1 L1211.1 366.1 L1212.8 366.1 L1214.5 366.2 L1216.2 366.2 L1217.9 366.2 L1219.6 366.2 L1221.3 366.2 L1223.0 366.2 L1224.7 366.2 L1226.4 366.2 L1228.1 366.2 L1229.9 366.2 L1231.6 366.2 L1233.3 366.2 L1235.0 366.2 L1236.7 366.2 L1238.4 366.2 L1240.1 366.2 L1241.8 366.2 L1243.5 366.2 L1245.2 366.2 L1246.9 366.2 L1248.6 366.2 L1250.3 366.2 L1252.0 366.2 L1253.7 366.2 L1255.4 366.2 L1257.1 366.2 L1258.9 366.2 L1260.6 366.2 L1262.3 366.2 L1264.0 366.2 L1265.7 366.2 L1267.4 366.2 L1269.1 366.2 L1270.8 366.2 L1272.5 366.2 L1274.2 366.2 L1275.9 366.2 L1277.6 366.2 L1279.3 366.2 L1281.0 366.2 L1282.7 366.2 L1284.4 366.2 L1286.2 366.2 L1287.9 366.2 L1289.6 366.2 L1291.3 366.2 L1293.0 366.2 L1294.7 366.2" fill="none" stroke="#6a1a6a" stroke-width="2.3" stroke-linejoin="round" stroke-linecap="round"/>
<path d="M817.0 351.6 L818.7 351.9 L820.4 352.2 L822.1 352.5 L823.8 352.8 L825.5 353.0 L827.2 353.3 L828.9 353.6 L830.6 353.8 L832.4 354.1 L834.1 354.3 L835.8 354.6 L837.5 354.8 L839.2 355.1 L840.9 355.3 L842.6 355.5 L844.3 355.8 L846.0 356.0 L847.7 356.2 L849.4 356.4 L851.1 356.6 L852.8 356.8 L854.5 357.0 L856.2 357.2 L857.9 357.4 L859.6 357.6 L861.4 357.7 L863.1 357.9 L864.8 358.1 L866.5 358.3 L868.2 358.4 L869.9 358.6 L871.6 358.8 L873.3 358.9 L875.0 359.1 L876.7 359.2 L878.4 359.4 L880.1 359.5 L881.8 359.7 L883.5 359.8 L885.2 359.9 L886.9 360.1 L888.7 360.2 L890.4 360.3 L892.1 360.5 L893.8 360.6 L895.5 360.7 L897.2 360.8 L898.9 360.9 L900.6 361.0 L902.3 361.2 L904.0 361.3 L905.7 361.4 L907.4 361.5 L909.1 361.6 L910.8 361.7 L912.5 361.8 L914.2 361.9 L915.9 362.0 L917.7 362.1 L919.4 362.2 L921.1 362.2 L922.8 362.3 L924.5 362.4 L926.2 362.5 L927.9 362.6 L929.6 362.7 L931.3 362.7 L933.0 362.8 L934.7 362.9 L936.4 363.0 L938.1 363.0 L939.8 363.1 L941.5 363.2 L943.2 363.2 L945.0 363.3 L946.7 363.4 L948.4 363.4 L950.1 363.5 L951.8 363.6 L953.5 363.6 L955.2 363.7 L956.9 363.7 L958.6 363.8 L960.3 363.9 L962.0 363.9 L963.7 364.0 L965.4 364.0 L967.1 364.1 L968.8 364.1 L970.5 364.2 L972.2 364.2 L974.0 364.3 L975.7 364.3 L977.4 364.4 L979.1 364.4 L980.8 364.4 L982.5 364.5 L984.2 364.5 L985.9 364.6 L987.6 364.6 L989.3 364.6 L991.0 364.7 L992.7 364.7 L994.4 364.8 L996.1 364.8 L997.8 364.8 L999.5 364.9 L1001.2 364.9 L1003.0 364.9 L1004.7 365.0 L1006.4 365.0 L1008.1 365.0 L1009.8 365.1 L1011.5 365.1 L1013.2 365.1 L1014.9 365.2 L1016.6 365.2 L1018.3 365.2 L1020.0 365.2 L1021.7 365.3 L1023.4 365.3 L1025.1 365.3 L1026.8 365.3 L1028.5 365.4 L1030.2 365.4 L1032.0 365.4 L1033.7 365.4 L1035.4 365.5 L1037.1 365.5 L1038.8 365.5 L1040.5 365.5 L1042.2 365.5 L1043.9 365.6 L1045.6 365.6 L1047.3 365.6 L1049.0 365.6 L1050.7 365.6 L1052.4 365.7 L1054.1 365.7 L1055.8 365.7 L1057.5 365.7 L1059.3 365.7 L1061.0 365.7 L1062.7 365.8 L1064.4 365.8 L1066.1 365.8 L1067.8 365.8 L1069.5 365.8 L1071.2 365.8 L1072.9 365.9 L1074.6 365.9 L1076.3 365.9 L1078.0 365.9 L1079.7 365.9 L1081.4 365.9 L1083.1 365.9 L1084.8 365.9 L1086.5 366.0 L1088.3 366.0 L1090.0 366.0 L1091.7 366.0 L1093.4 366.0 L1095.1 366.0 L1096.8 366.0 L1098.5 366.0 L1100.2 366.0 L1101.9 366.1 L1103.6 366.1 L1105.3 366.1 L1107.0 366.1 L1108.7 366.1 L1110.4 366.1 L1112.1 366.1 L1113.8 366.1 L1115.5 366.1 L1117.3 366.1 L1119.0 366.2 L1120.7 366.2 L1122.4 366.2 L1124.1 366.2 L1125.8 366.2 L1127.5 366.2 L1129.2 366.2 L1130.9 366.2 L1132.6 366.2 L1134.3 366.2 L1136.0 366.2 L1137.7 366.2 L1139.4 366.2 L1141.1 366.2 L1142.8 366.3 L1144.6 366.3 L1146.3 366.3 L1148.0 366.3 L1149.7 366.3 L1151.4 366.3 L1153.1 366.3 L1154.8 366.3 L1156.5 366.3 L1158.2 366.3 L1159.9 366.3 L1161.6 366.3 L1163.3 366.3 L1165.0 366.3 L1166.7 366.3 L1168.4 366.3 L1170.1 366.3 L1171.8 366.3 L1173.6 366.3 L1175.3 366.3 L1177.0 366.4 L1178.7 366.4 L1180.4 366.4 L1182.1 366.4 L1183.8 366.4 L1185.5 366.4 L1187.2 366.4 L1188.9 366.4 L1190.6 366.4 L1192.3 366.4 L1194.0 366.4 L1195.7 366.4 L1197.4 366.4 L1199.1 366.4 L1200.8 366.4 L1202.6 366.4 L1204.3 366.4 L1206.0 366.4 L1207.7 366.4 L1209.4 366.4 L1211.1 366.4 L1212.8 366.4 L1214.5 366.4 L1216.2 366.4 L1217.9 366.4 L1219.6 366.4 L1221.3 366.4 L1223.0 366.4 L1224.7 366.4 L1226.4 366.4 L1228.1 366.4 L1229.9 366.4 L1231.6 366.5 L1233.3 366.5 L1235.0 366.5 L1236.7 366.5 L1238.4 366.5 L1240.1 366.5 L1241.8 366.5 L1243.5 366.5 L1245.2 366.5 L1246.9 366.5 L1248.6 366.5 L1250.3 366.5 L1252.0 366.5 L1253.7 366.5 L1255.4 366.5 L1257.1 366.5 L1258.9 366.5 L1260.6 366.5 L1262.3 366.5 L1264.0 366.5 L1265.7 366.5 L1267.4 366.5 L1269.1 366.5 L1270.8 366.5 L1272.5 366.5 L1274.2 366.5 L1275.9 366.5 L1277.6 366.5 L1279.3 366.5 L1281.0 366.5 L1282.7 366.5 L1284.4 366.5 L1286.2 366.5 L1287.9 366.5 L1289.6 366.5 L1291.3 366.5 L1293.0 366.5 L1294.7 366.5" fill="none" stroke="#8a20e0" stroke-width="2.3" stroke-linejoin="round" stroke-linecap="round"/>
<path d="M817.0 352.1 L818.7 352.4 L820.4 352.7 L822.1 353.0 L823.8 353.3 L825.5 353.6 L827.2 353.8 L828.9 354.1 L830.6 354.4 L832.4 354.6 L834.1 354.9 L835.8 355.1 L837.5 355.4 L839.2 355.6 L840.9 355.8 L842.6 356.1 L844.3 356.3 L846.0 356.5 L847.7 356.7 L849.4 356.9 L851.1 357.1 L852.8 357.3 L854.5 357.5 L856.2 357.7 L857.9 357.9 L859.6 358.1 L861.4 358.3 L863.1 358.5 L864.8 358.6 L866.5 358.8 L868.2 359.0 L869.9 359.1 L871.6 359.3 L873.3 359.5 L875.0 359.6 L876.7 359.8 L878.4 359.9 L880.1 360.1 L881.8 360.2 L883.5 360.3 L885.2 360.5 L886.9 360.6 L888.7 360.7 L890.4 360.9 L892.1 361.0 L893.8 361.1 L895.5 361.2 L897.2 361.4 L898.9 361.5 L900.6 361.6 L902.3 361.7 L904.0 361.8 L905.7 361.9 L907.4 362.0 L909.1 362.1 L910.8 362.2 L912.5 362.3 L914.2 362.4 L915.9 362.5 L917.7 362.6 L919.4 362.7 L921.1 362.8 L922.8 362.9 L924.5 363.0 L926.2 363.0 L927.9 363.1 L929.6 363.2 L931.3 363.3 L933.0 363.4 L934.7 363.4 L936.4 363.5 L938.1 363.6 L939.8 363.7 L941.5 363.7 L943.2 363.8 L945.0 363.9 L946.7 363.9 L948.4 364.0 L950.1 364.1 L951.8 364.1 L953.5 364.2 L955.2 364.2 L956.9 364.3 L958.6 364.3 L960.3 364.4 L962.0 364.5 L963.7 364.5 L965.4 364.6 L967.1 364.6 L968.8 364.7 L970.5 364.7 L972.2 364.8 L974.0 364.8 L975.7 364.9 L977.4 364.9 L979.1 364.9 L980.8 365.0 L982.5 365.0 L984.2 365.1 L985.9 365.1 L987.6 365.2 L989.3 365.2 L991.0 365.2 L992.7 365.3 L994.4 365.3 L996.1 365.3 L997.8 365.4 L999.5 365.4 L1001.2 365.4 L1003.0 365.5 L1004.7 365.5 L1006.4 365.5 L1008.1 365.6 L1009.8 365.6 L1011.5 365.6 L1013.2 365.7 L1014.9 365.7 L1016.6 365.7 L1018.3 365.8 L1020.0 365.8 L1021.7 365.8 L1023.4 365.8 L1025.1 365.9 L1026.8 365.9 L1028.5 365.9 L1030.2 365.9 L1032.0 366.0 L1033.7 366.0 L1035.4 366.0 L1037.1 366.0 L1038.8 366.0 L1040.5 366.1 L1042.2 366.1 L1043.9 366.1 L1045.6 366.1 L1047.3 366.1 L1049.0 366.2 L1050.7 366.2 L1052.4 366.2 L1054.1 366.2 L1055.8 366.2 L1057.5 366.3 L1059.3 366.3 L1061.0 366.3 L1062.7 366.3 L1064.4 366.3 L1066.1 366.3 L1067.8 366.4 L1069.5 366.4 L1071.2 366.4 L1072.9 366.4 L1074.6 366.4 L1076.3 366.4 L1078.0 366.4 L1079.7 366.5 L1081.4 366.5 L1083.1 366.5 L1084.8 366.5 L1086.5 366.5 L1088.3 366.5 L1090.0 366.5 L1091.7 366.5 L1093.4 366.6 L1095.1 366.6 L1096.8 366.6 L1098.5 366.6 L1100.2 366.6 L1101.9 366.6 L1103.6 366.6 L1105.3 366.6 L1107.0 366.6 L1108.7 366.6 L1110.4 366.7 L1112.1 366.7 L1113.8 366.7 L1115.5 366.7 L1117.3 366.7 L1119.0 366.7 L1120.7 366.7 L1122.4 366.7 L1124.1 366.7 L1125.8 366.7 L1127.5 366.7 L1129.2 366.7 L1130.9 366.7 L1132.6 366.8 L1134.3 366.8 L1136.0 366.8 L1137.7 366.8 L1139.4 366.8 L1141.1 366.8 L1142.8 366.8 L1144.6 366.8 L1146.3 366.8 L1148.0 366.8 L1149.7 366.8 L1151.4 366.8 L1153.1 366.8 L1154.8 366.8 L1156.5 366.8 L1158.2 366.8 L1159.9 366.9 L1161.6 366.9 L1163.3 366.9 L1165.0 366.9 L1166.7 366.9 L1168.4 366.9 L1170.1 366.9 L1171.8 366.9 L1173.6 366.9 L1175.3 366.9 L1177.0 366.9 L1178.7 366.9 L1180.4 366.9 L1182.1 366.9 L1183.8 366.9 L1185.5 366.9 L1187.2 366.9 L1188.9 366.9 L1190.6 366.9 L1192.3 366.9 L1194.0 366.9 L1195.7 366.9 L1197.4 366.9 L1199.1 366.9 L1200.8 366.9 L1202.6 367.0 L1204.3 367.0 L1206.0 367.0 L1207.7 367.0 L1209.4 367.0 L1211.1 367.0 L1212.8 367.0 L1214.5 367.0 L1216.2 367.0 L1217.9 367.0 L1219.6 367.0 L1221.3 367.0 L1223.0 367.0 L1224.7 367.0 L1226.4 367.0 L1228.1 367.0 L1229.9 367.0 L1231.6 367.0 L1233.3 367.0 L1235.0 367.0 L1236.7 367.0 L1238.4 367.0 L1240.1 367.0 L1241.8 367.0 L1243.5 367.0 L1245.2 367.0 L1246.9 367.0 L1248.6 367.0 L1250.3 367.0 L1252.0 367.0 L1253.7 367.0 L1255.4 367.0 L1257.1 367.0 L1258.9 367.0 L1260.6 367.0 L1262.3 367.0 L1264.0 367.0 L1265.7 367.0 L1267.4 367.0 L1269.1 367.0 L1270.8 367.0 L1272.5 367.0 L1274.2 367.0 L1275.9 367.0 L1277.6 367.0 L1279.3 367.0 L1281.0 367.0 L1282.7 367.0 L1284.4 367.0 L1286.2 367.0 L1287.9 367.0 L1289.6 367.0 L1291.3 367.0 L1293.0 367.0 L1294.7 367.1" fill="none" stroke="#333333" stroke-width="2.3" stroke-linejoin="round" stroke-linecap="round"/>
</svg>
<line x1="961.3" y1="372" x2="961.3" y2="57" stroke="#111" stroke-width="1.3" stroke-dasharray="7 3 2 3"/>
<path d="M961.3 48.3 L957.8 59 L964.8 59 Z" fill="#111"/>
<rect x="817" y="40" width="478.7" height="354.5" fill="none" stroke="#383838" stroke-width="2.4"/>
<line x1="851.12" y1="394.5" x2="851.12" y2="386.5" stroke="#383838" stroke-width="2"/>
<line x1="1021.72" y1="394.5" x2="1021.72" y2="386.5" stroke="#383838" stroke-width="2"/>
<line x1="1192.32" y1="394.5" x2="1192.32" y2="386.5" stroke="#383838" stroke-width="2"/>
<line x1="936.42" y1="394.5" x2="936.42" y2="390" stroke="#383838" stroke-width="2"/>
<line x1="1107.02" y1="394.5" x2="1107.02" y2="390" stroke="#383838" stroke-width="2"/>
<line x1="1277.62" y1="394.5" x2="1277.62" y2="390" stroke="#383838" stroke-width="2"/>
<line x1="817" y1="367.1" x2="825" y2="367.1" stroke="#383838" stroke-width="2"/>
<line x1="817" y1="285.41" x2="825" y2="285.41" stroke="#383838" stroke-width="2"/>
<line x1="817" y1="203.72" x2="825" y2="203.72" stroke="#383838" stroke-width="2"/>
<line x1="817" y1="122.03" x2="825" y2="122.03" stroke="#383838" stroke-width="2"/>
<line x1="817" y1="326.25" x2="821.5" y2="326.25" stroke="#383838" stroke-width="2"/>
<line x1="817" y1="244.57" x2="821.5" y2="244.57" stroke="#383838" stroke-width="2"/>
<line x1="817" y1="162.88" x2="821.5" y2="162.88" stroke="#383838" stroke-width="2"/>
<line x1="817" y1="81.19" x2="821.5" y2="81.19" stroke="#383838" stroke-width="2"/>
<text x="851.12" y="424.4" font-size="28" text-anchor="middle" font-weight="bold" fill="#000">550</text>
<text x="1021.72" y="424.4" font-size="28" text-anchor="middle" font-weight="bold" fill="#000">600</text>
<text x="1192.32" y="424.4" font-size="28" text-anchor="middle" font-weight="bold" fill="#000">650</text>
<text x="808.5" y="374.7" font-size="28" text-anchor="end" font-weight="bold" fill="#000">0</text>
<text x="808.5" y="293.01" font-size="28" text-anchor="end" font-weight="bold" fill="#000">300</text>
<text x="808.5" y="211.32" font-size="28" text-anchor="end" font-weight="bold" fill="#000">600</text>
<text x="808.5" y="129.63" font-size="28" text-anchor="end" font-weight="bold" fill="#000">900</text>
<text x="808.5" y="46.8" font-size="28" text-anchor="end" font-weight="bold" fill="#000">1200</text>
<text font-size="27.748" font-weight="bold" fill="#000" transform="translate(953.67 453.92) scale(1.0235 1)">Wavelength (nm)</text>
<text font-size="26.897" font-weight="bold" fill="#000" transform="translate(740.80 376.58) rotate(-90) scale(1.0423 1)">Fluorescence Intensity</text>
<line x1="1049" y1="61.5" x2="1089.8" y2="61.5" stroke="#111111" stroke-width="2.7"/>
<text x="1093.5" y="66.5" font-size="22" text-anchor="start" font-weight="bold" fill="#000">pH 2.0</text>
<line x1="1172.6" y1="61.5" x2="1213" y2="61.5" stroke="#d02a2a" stroke-width="2.7"/>
<text x="1217" y="66.5" font-size="22" text-anchor="start" font-weight="bold" fill="#000">pH 2.5</text>
<line x1="1049" y1="88.91" x2="1089.8" y2="88.91" stroke="#2a2ac8" stroke-width="2.7"/>
<text x="1093.5" y="93.91" font-size="22" text-anchor="start" font-weight="bold" fill="#000">pH 3.0</text>
<line x1="1172.6" y1="88.91" x2="1213" y2="88.91" stroke="#2a9090" stroke-width="2.7"/>
<text x="1217" y="93.91" font-size="22" text-anchor="start" font-weight="bold" fill="#000">pH 3.5</text>
<line x1="1049" y1="116.32" x2="1089.8" y2="116.32" stroke="#c83cc8" stroke-width="2.7"/>
<text x="1093.5" y="121.32" font-size="22" text-anchor="start" font-weight="bold" fill="#000">pH 4.0</text>
<line x1="1172.6" y1="116.32" x2="1213" y2="116.32" stroke="#7e7e2c" stroke-width="2.7"/>
<text x="1217" y="121.32" font-size="22" text-anchor="start" font-weight="bold" fill="#000">pH 4.5</text>
<line x1="1049" y1="143.73" x2="1089.8" y2="143.73" stroke="#1c1c6a" stroke-width="2.7"/>
<text x="1093.5" y="148.73" font-size="22" text-anchor="start" font-weight="bold" fill="#000">pH 5.0</text>
<line x1="1172.6" y1="143.73" x2="1213" y2="143.73" stroke="#7a2424" stroke-width="2.7"/>
<text x="1217" y="148.73" font-size="22" text-anchor="start" font-weight="bold" fill="#000">pH 5.5</text>
<line x1="1049" y1="171.14" x2="1089.8" y2="171.14" stroke="#d83c8a" stroke-width="2.7"/>
<text x="1093.5" y="176.14" font-size="22" text-anchor="start" font-weight="bold" fill="#000">pH 6.0</text>
<line x1="1172.6" y1="171.14" x2="1213" y2="171.14" stroke="#228a22" stroke-width="2.7"/>
<text x="1217" y="176.14" font-size="22" text-anchor="start" font-weight="bold" fill="#000">pH 7.0</text>
<line x1="1049" y1="198.55" x2="1089.8" y2="198.55" stroke="#1c1ca0" stroke-width="2.7"/>
<text x="1093.5" y="203.55" font-size="22" text-anchor="start" font-weight="bold" fill="#000">pH 8.0</text>
<line x1="1172.6" y1="198.55" x2="1213" y2="198.55" stroke="#e89432" stroke-width="2.7"/>
<text x="1217" y="203.55" font-size="22" text-anchor="start" font-weight="bold" fill="#000">pH 9.0</text>
<line x1="1049" y1="225.96" x2="1089.8" y2="225.96" stroke="#5c1c5c" stroke-width="2.7"/>
<text x="1093.5" y="230.96" font-size="22" text-anchor="start" font-weight="bold" fill="#000">pH 10.0</text>
<line x1="1173.8" y1="225.96" x2="1215.8" y2="225.96" stroke="#7424c0" stroke-width="2.7"/>
<text x="1218.6" y="230.96" font-size="22" text-anchor="start" font-weight="bold" fill="#000">pH 11.0</text>
<line x1="1049" y1="253.37" x2="1089.8" y2="253.37" stroke="#333333" stroke-width="2.7"/>
<text x="1093.5" y="258.37" font-size="22" text-anchor="start" font-weight="bold" fill="#000">pH 12.0</text>
<rect x="141.8" y="491.4" width="505.7" height="373.6" fill="none" stroke="#383838" stroke-width="2.4"/>
<line x1="183.94" y1="865" x2="183.94" y2="857" stroke="#383838" stroke-width="2"/>
<line x1="268.22" y1="865" x2="268.22" y2="857" stroke="#383838" stroke-width="2"/>
<line x1="352.5" y1="865" x2="352.5" y2="857" stroke="#383838" stroke-width="2"/>
<line x1="436.78" y1="865" x2="436.78" y2="857" stroke="#383838" stroke-width="2"/>
<line x1="521.06" y1="865" x2="521.06" y2="857" stroke="#383838" stroke-width="2"/>
<line x1="605.34" y1="865" x2="605.34" y2="857" stroke="#383838" stroke-width="2"/>
<line x1="226.08" y1="865" x2="226.08" y2="860.5" stroke="#383838" stroke-width="2"/>
<line x1="310.36" y1="865" x2="310.36" y2="860.5" stroke="#383838" stroke-width="2"/>
<line x1="394.64" y1="865" x2="394.64" y2="860.5" stroke="#383838" stroke-width="2"/>
<line x1="478.92" y1="865" x2="478.92" y2="860.5" stroke="#383838" stroke-width="2"/>
<line x1="563.2" y1="865" x2="563.2" y2="860.5" stroke="#383838" stroke-width="2"/>
<line x1="141.8" y1="830.6" x2="149.8" y2="830.6" stroke="#383838" stroke-width="2"/>
<line x1="141.8" y1="746.1" x2="149.8" y2="746.1" stroke="#383838" stroke-width="2"/>
<line x1="141.8" y1="661.6" x2="149.8" y2="661.6" stroke="#383838" stroke-width="2"/>
<line x1="141.8" y1="577.1" x2="149.8" y2="577.1" stroke="#383838" stroke-width="2"/>
<line x1="141.8" y1="788.35" x2="146.3" y2="788.35" stroke="#383838" stroke-width="2"/>
<line x1="141.8" y1="703.85" x2="146.3" y2="703.85" stroke="#383838" stroke-width="2"/>
<line x1="141.8" y1="619.35" x2="146.3" y2="619.35" stroke="#383838" stroke-width="2"/>
<line x1="141.8" y1="534.85" x2="146.3" y2="534.85" stroke="#383838" stroke-width="2"/>
<text x="183.94" y="897" font-size="30" text-anchor="middle" font-weight="bold" fill="#000">2</text>
<text x="268.22" y="897" font-size="30" text-anchor="middle" font-weight="bold" fill="#000">4</text>
<text x="352.5" y="897" font-size="30" text-anchor="middle" font-weight="bold" fill="#000">6</text>
<text x="436.78" y="897" font-size="30" text-anchor="middle" font-weight="bold" fill="#000">8</text>
<text x="521.06" y="897" font-size="30" text-anchor="middle" font-weight="bold" fill="#000">10</text>
<text x="605.34" y="897" font-size="30" text-anchor="middle" font-weight="bold" fill="#000">12</text>
<text x="133.3" y="838.45" font-size="29.8" text-anchor="end" font-weight="bold" fill="#000">0.00</text>
<text x="133.3" y="753.95" font-size="29.8" text-anchor="end" font-weight="bold" fill="#000">0.05</text>
<text x="133.3" y="669.45" font-size="29.8" text-anchor="end" font-weight="bold" fill="#000">0.10</text>
<text x="133.3" y="584.95" font-size="29.8" text-anchor="end" font-weight="bold" fill="#000">0.15</text>
<text x="133.3" y="500.45" font-size="29.8" text-anchor="end" font-weight="bold" fill="#000">0.20</text>
<text font-size="28.683" font-weight="bold" fill="#000" transform="translate(380.62 926.03) scale(0.9936 1)">pH</text>
<text font-size="30.087" font-weight="bold" fill="#000" transform="translate(54.40 715.33) rotate(-90) scale(0.9686 1)">A-A</text>
<text font-size="14.266" font-weight="bold" fill="#000" transform="translate(65.36 661.33) rotate(-90) scale(1.1068 1)">0</text>
<line x1="185.8" y1="614.5" x2="203.2" y2="529.1" stroke="#111" stroke-width="2.6"/>
<line x1="212.7" y1="525.3" x2="218.4" y2="529.2" stroke="#111" stroke-width="2.6"/>
<line x1="233.0" y1="540.7" x2="240.2" y2="547.2" stroke="#111" stroke-width="2.6"/>
<line x1="255.2" y1="558.0" x2="260.1" y2="560.8" stroke="#111" stroke-width="2.6"/>
<line x1="269.6" y1="574.6" x2="287.9" y2="694.3" stroke="#111" stroke-width="2.6"/>
<line x1="293.0" y1="712.0" x2="306.7" y2="743.5" stroke="#111" stroke-width="2.6"/>
<line x1="316.4" y1="759.1" x2="325.4" y2="769.6" stroke="#111" stroke-width="2.6"/>
<line x1="335.7" y1="785.0" x2="348.3" y2="809.6" stroke="#111" stroke-width="2.6"/>
<line x1="361.4" y1="820.6" x2="385.7" y2="827.9" stroke="#111" stroke-width="2.6"/>
<line x1="403.8" y1="829.1" x2="427.6" y2="825.3" stroke="#111" stroke-width="2.6"/>
<line x1="446.0" y1="825.0" x2="469.7" y2="827.8" stroke="#111" stroke-width="2.6"/>
<line x1="488.2" y1="829.3" x2="511.8" y2="830.2" stroke="#111" stroke-width="2.6"/>
<line x1="530.4" y1="830.6" x2="553.9" y2="830.6" stroke="#111" stroke-width="2.6"/>
<line x1="572.5" y1="831.5" x2="596.1" y2="833.6" stroke="#111" stroke-width="2.6"/>
<circle cx="183.9" cy="623.6" r="7.1" fill="#ffffff"/>
<path d="M176.84 623.88 A7.10 7.10 0 0 1 191.04 623.88 Z" fill="#0000ee"/>
<circle cx="183.9" cy="623.6" r="7.1" fill="none" stroke="#3838d8" stroke-width="1.2"/>
<circle cx="205.0" cy="520.0" r="7.1" fill="#ffffff"/>
<path d="M197.91 520.28 A7.10 7.10 0 0 1 212.11 520.28 Z" fill="#0000ee"/>
<circle cx="205.0" cy="520.0" r="7.1" fill="none" stroke="#3838d8" stroke-width="1.2"/>
<circle cx="226.1" cy="534.5" r="7.1" fill="#ffffff"/>
<path d="M218.98 534.81 A7.10 7.10 0 0 1 233.18 534.81 Z" fill="#0000ee"/>
<circle cx="226.1" cy="534.5" r="7.1" fill="none" stroke="#3838d8" stroke-width="1.2"/>
<circle cx="247.2" cy="553.4" r="7.1" fill="#ffffff"/>
<path d="M240.05 553.74 A7.10 7.10 0 0 1 254.25 553.74 Z" fill="#0000ee"/>
<circle cx="247.2" cy="553.4" r="7.1" fill="none" stroke="#3838d8" stroke-width="1.2"/>
<circle cx="268.2" cy="565.4" r="7.1" fill="#ffffff"/>
<path d="M261.12 565.74 A7.10 7.10 0 0 1 275.32 565.74 Z" fill="#0000ee"/>
<circle cx="268.2" cy="565.4" r="7.1" fill="none" stroke="#3838d8" stroke-width="1.2"/>
<circle cx="289.3" cy="703.5" r="7.1" fill="#ffffff"/>
<path d="M282.19 703.81 A7.10 7.10 0 0 1 296.39 703.81 Z" fill="#0000ee"/>
<circle cx="289.3" cy="703.5" r="7.1" fill="none" stroke="#3838d8" stroke-width="1.2"/>
<circle cx="310.4" cy="752.0" r="7.1" fill="#ffffff"/>
<path d="M303.26 752.31 A7.10 7.10 0 0 1 317.46 752.31 Z" fill="#0000ee"/>
<circle cx="310.4" cy="752.0" r="7.1" fill="none" stroke="#3838d8" stroke-width="1.2"/>
<circle cx="331.4" cy="776.7" r="7.1" fill="#ffffff"/>
<path d="M324.33 776.99 A7.10 7.10 0 0 1 338.53 776.99 Z" fill="#0000ee"/>
<circle cx="331.4" cy="776.7" r="7.1" fill="none" stroke="#3838d8" stroke-width="1.2"/>
<circle cx="352.5" cy="817.9" r="7.1" fill="#ffffff"/>
<path d="M345.40 818.23 A7.10 7.10 0 0 1 359.60 818.23 Z" fill="#0000ee"/>
<circle cx="352.5" cy="817.9" r="7.1" fill="none" stroke="#3838d8" stroke-width="1.2"/>
<circle cx="394.6" cy="830.6" r="7.1" fill="#ffffff"/>
<path d="M387.54 830.90 A7.10 7.10 0 0 1 401.74 830.90 Z" fill="#0000ee"/>
<circle cx="394.6" cy="830.6" r="7.1" fill="none" stroke="#3838d8" stroke-width="1.2"/>
<circle cx="436.8" cy="823.8" r="7.1" fill="#ffffff"/>
<path d="M429.68 824.14 A7.10 7.10 0 0 1 443.88 824.14 Z" fill="#0000ee"/>
<circle cx="436.8" cy="823.8" r="7.1" fill="none" stroke="#3838d8" stroke-width="1.2"/>
<circle cx="478.9" cy="828.9" r="7.1" fill="#ffffff"/>
<path d="M471.82 829.21 A7.10 7.10 0 0 1 486.02 829.21 Z" fill="#0000ee"/>
<circle cx="478.9" cy="828.9" r="7.1" fill="none" stroke="#3838d8" stroke-width="1.2"/>
<circle cx="521.1" cy="830.6" r="7.1" fill="#ffffff"/>
<path d="M513.96 830.90 A7.10 7.10 0 0 1 528.16 830.90 Z" fill="#0000ee"/>
<circle cx="521.1" cy="830.6" r="7.1" fill="none" stroke="#3838d8" stroke-width="1.2"/>
<circle cx="563.2" cy="830.6" r="7.1" fill="#ffffff"/>
<path d="M556.10 830.90 A7.10 7.10 0 0 1 570.30 830.90 Z" fill="#0000ee"/>
<circle cx="563.2" cy="830.6" r="7.1" fill="none" stroke="#3838d8" stroke-width="1.2"/>
<circle cx="605.3" cy="834.5" r="7.1" fill="#ffffff"/>
<path d="M598.24 834.79 A7.10 7.10 0 0 1 612.44 834.79 Z" fill="#0000ee"/>
<circle cx="605.3" cy="834.5" r="7.1" fill="none" stroke="#3838d8" stroke-width="1.2"/>
<rect x="805" y="486.5" width="504.7" height="374.5" fill="none" stroke="#383838" stroke-width="2.4"/>
<line x1="847" y1="861" x2="847" y2="853" stroke="#383838" stroke-width="2"/>
<line x1="931" y1="861" x2="931" y2="853" stroke="#383838" stroke-width="2"/>
<line x1="1015" y1="861" x2="1015" y2="853" stroke="#383838" stroke-width="2"/>
<line x1="1099" y1="861" x2="1099" y2="853" stroke="#383838" stroke-width="2"/>
<line x1="1183" y1="861" x2="1183" y2="853" stroke="#383838" stroke-width="2"/>
<line x1="1267" y1="861" x2="1267" y2="853" stroke="#383838" stroke-width="2"/>
<line x1="889" y1="861" x2="889" y2="856.5" stroke="#383838" stroke-width="2"/>
<line x1="973" y1="861" x2="973" y2="856.5" stroke="#383838" stroke-width="2"/>
<line x1="1057" y1="861" x2="1057" y2="856.5" stroke="#383838" stroke-width="2"/>
<line x1="1141" y1="861" x2="1141" y2="856.5" stroke="#383838" stroke-width="2"/>
<line x1="1225" y1="861" x2="1225" y2="856.5" stroke="#383838" stroke-width="2"/>
<line x1="805" y1="840.2" x2="813" y2="840.2" stroke="#383838" stroke-width="2"/>
<line x1="805" y1="798.55" x2="813" y2="798.55" stroke="#383838" stroke-width="2"/>
<line x1="805" y1="756.9" x2="813" y2="756.9" stroke="#383838" stroke-width="2"/>
<line x1="805" y1="715.25" x2="813" y2="715.25" stroke="#383838" stroke-width="2"/>
<line x1="805" y1="673.6" x2="813" y2="673.6" stroke="#383838" stroke-width="2"/>
<line x1="805" y1="631.95" x2="813" y2="631.95" stroke="#383838" stroke-width="2"/>
<line x1="805" y1="590.3" x2="813" y2="590.3" stroke="#383838" stroke-width="2"/>
<line x1="805" y1="548.65" x2="813" y2="548.65" stroke="#383838" stroke-width="2"/>
<line x1="805" y1="507" x2="813" y2="507" stroke="#383838" stroke-width="2"/>
<line x1="805" y1="819.38" x2="809.5" y2="819.38" stroke="#383838" stroke-width="2"/>
<line x1="805" y1="777.73" x2="809.5" y2="777.73" stroke="#383838" stroke-width="2"/>
<line x1="805" y1="736.08" x2="809.5" y2="736.08" stroke="#383838" stroke-width="2"/>
<line x1="805" y1="694.43" x2="809.5" y2="694.43" stroke="#383838" stroke-width="2"/>
<line x1="805" y1="652.78" x2="809.5" y2="652.78" stroke="#383838" stroke-width="2"/>
<line x1="805" y1="611.12" x2="809.5" y2="611.12" stroke="#383838" stroke-width="2"/>
<line x1="805" y1="569.48" x2="809.5" y2="569.48" stroke="#383838" stroke-width="2"/>
<line x1="805" y1="527.83" x2="809.5" y2="527.83" stroke="#383838" stroke-width="2"/>
<text x="847" y="892.2" font-size="28" text-anchor="middle" font-weight="bold" fill="#000">2</text>
<text x="931" y="892.2" font-size="28" text-anchor="middle" font-weight="bold" fill="#000">4</text>
<text x="1015" y="892.2" font-size="28" text-anchor="middle" font-weight="bold" fill="#000">6</text>
<text x="1099" y="892.2" font-size="28" text-anchor="middle" font-weight="bold" fill="#000">8</text>
<text x="1183" y="892.2" font-size="28" text-anchor="middle" font-weight="bold" fill="#000">10</text>
<text x="1267" y="892.2" font-size="28" text-anchor="middle" font-weight="bold" fill="#000">12</text>
<text x="796.5" y="847.7" font-size="28" text-anchor="end" font-weight="bold" fill="#000">0</text>
<text x="796.5" y="806.05" font-size="28" text-anchor="end" font-weight="bold" fill="#000">10</text>
<text x="796.5" y="764.4" font-size="28" text-anchor="end" font-weight="bold" fill="#000">20</text>
<text x="796.5" y="722.75" font-size="28" text-anchor="end" font-weight="bold" fill="#000">30</text>
<text x="796.5" y="681.1" font-size="28" text-anchor="end" font-weight="bold" fill="#000">40</text>
<text x="796.5" y="639.45" font-size="28" text-anchor="end" font-weight="bold" fill="#000">50</text>
<text x="796.5" y="597.8" font-size="28" text-anchor="end" font-weight="bold" fill="#000">60</text>
<text x="796.5" y="556.15" font-size="28" text-anchor="end" font-weight="bold" fill="#000">70</text>
<text x="796.5" y="514.5" font-size="28" text-anchor="end" font-weight="bold" fill="#000">80</text>
<text font-size="28.125" font-weight="bold" fill="#000" transform="translate(1038.65 918.85) scale(0.9956 1)">pH</text>
<text font-size="26.483" font-weight="bold" fill="#000" transform="translate(743.50 719.87) rotate(-90) scale(1.0549 1)">F/F</text>
<text font-size="14.124" font-weight="bold" fill="#000" transform="translate(754.36 675.96) rotate(-90) scale(0.9837 1)">0</text>
<line x1="850.2" y1="562.8" x2="864.8" y2="523.2" stroke="#111" stroke-width="2.6"/>
<line x1="875.4" y1="520.1" x2="881.6" y2="524.7" stroke="#111" stroke-width="2.6"/>
<line x1="896.9" y1="535.2" x2="902.1" y2="538.4" stroke="#111" stroke-width="2.6"/>
<line x1="917.9" y1="548.2" x2="923.1" y2="551.6" stroke="#111" stroke-width="2.6"/>
<line x1="932.1" y1="565.8" x2="950.9" y2="726.0" stroke="#111" stroke-width="2.6"/>
<line x1="955.0" y1="744.0" x2="970.0" y2="787.7" stroke="#111" stroke-width="2.6"/>
<line x1="978.3" y1="804.1" x2="988.7" y2="818.8" stroke="#111" stroke-width="2.6"/>
<line x1="1003.0" y1="828.6" x2="1006.0" y2="829.3" stroke="#111" stroke-width="2.6"/>
<line x1="1024.2" y1="832.5" x2="1047.8" y2="835.0" stroke="#111" stroke-width="2.6"/>
<line x1="1066.3" y1="836.0" x2="1089.7" y2="836.0" stroke="#111" stroke-width="2.6"/>
<line x1="1108.3" y1="836.0" x2="1131.7" y2="836.0" stroke="#111" stroke-width="2.6"/>
<line x1="1150.3" y1="836.0" x2="1173.7" y2="836.0" stroke="#111" stroke-width="2.6"/>
<line x1="1192.3" y1="836.0" x2="1215.7" y2="836.0" stroke="#111" stroke-width="2.6"/>
<line x1="1234.3" y1="836.0" x2="1257.7" y2="836.0" stroke="#111" stroke-width="2.6"/>
<circle cx="847.0" cy="571.6" r="7.1" fill="#f08a10"/>
<path d="M839.90 571.86 A7.10 7.10 0 0 1 854.10 571.86 Z" fill="#fff2d8"/>
<circle cx="847.0" cy="571.6" r="7.1" fill="none" stroke="#ecc48a" stroke-width="1.2"/>
<circle cx="868.0" cy="514.5" r="7.1" fill="#f08a10"/>
<path d="M860.90 514.80 A7.10 7.10 0 0 1 875.10 514.80 Z" fill="#fff2d8"/>
<circle cx="868.0" cy="514.5" r="7.1" fill="none" stroke="#ecc48a" stroke-width="1.2"/>
<circle cx="889.0" cy="530.3" r="7.1" fill="#f08a10"/>
<path d="M881.90 530.62 A7.10 7.10 0 0 1 896.10 530.62 Z" fill="#fff2d8"/>
<circle cx="889.0" cy="530.3" r="7.1" fill="none" stroke="#ecc48a" stroke-width="1.2"/>
<circle cx="910.0" cy="543.2" r="7.1" fill="#f08a10"/>
<path d="M902.90 543.54 A7.10 7.10 0 0 1 917.10 543.54 Z" fill="#fff2d8"/>
<circle cx="910.0" cy="543.2" r="7.1" fill="none" stroke="#ecc48a" stroke-width="1.2"/>
<circle cx="931.0" cy="556.6" r="7.1" fill="#f08a10"/>
<path d="M923.90 556.86 A7.10 7.10 0 0 1 938.10 556.86 Z" fill="#fff2d8"/>
<circle cx="931.0" cy="556.6" r="7.1" fill="none" stroke="#ecc48a" stroke-width="1.2"/>
<circle cx="952.0" cy="735.2" r="7.1" fill="#f08a10"/>
<path d="M944.90 735.54 A7.10 7.10 0 0 1 959.10 735.54 Z" fill="#fff2d8"/>
<circle cx="952.0" cy="735.2" r="7.1" fill="none" stroke="#ecc48a" stroke-width="1.2"/>
<circle cx="973.0" cy="796.5" r="7.1" fill="#f08a10"/>
<path d="M965.90 796.77 A7.10 7.10 0 0 1 980.10 796.77 Z" fill="#fff2d8"/>
<circle cx="973.0" cy="796.5" r="7.1" fill="none" stroke="#ecc48a" stroke-width="1.2"/>
<circle cx="994.0" cy="826.5" r="7.1" fill="#f08a10"/>
<path d="M986.90 826.76 A7.10 7.10 0 0 1 1001.10 826.76 Z" fill="#fff2d8"/>
<circle cx="994.0" cy="826.5" r="7.1" fill="none" stroke="#ecc48a" stroke-width="1.2"/>
<circle cx="1015.0" cy="831.5" r="7.1" fill="#f08a10"/>
<path d="M1007.90 831.75 A7.10 7.10 0 0 1 1022.10 831.75 Z" fill="#fff2d8"/>
<circle cx="1015.0" cy="831.5" r="7.1" fill="none" stroke="#ecc48a" stroke-width="1.2"/>
<circle cx="1057.0" cy="836.0" r="7.1" fill="#f08a10"/>
<path d="M1049.90 836.34 A7.10 7.10 0 0 1 1064.10 836.34 Z" fill="#fff2d8"/>
<circle cx="1057.0" cy="836.0" r="7.1" fill="none" stroke="#ecc48a" stroke-width="1.2"/>
<circle cx="1099.0" cy="836.0" r="7.1" fill="#f08a10"/>
<path d="M1091.90 836.34 A7.10 7.10 0 0 1 1106.10 836.34 Z" fill="#fff2d8"/>
<circle cx="1099.0" cy="836.0" r="7.1" fill="none" stroke="#ecc48a" stroke-width="1.2"/>
<circle cx="1141.0" cy="836.0" r="7.1" fill="#f08a10"/>
<path d="M1133.90 836.34 A7.10 7.10 0 0 1 1148.10 836.34 Z" fill="#fff2d8"/>
<circle cx="1141.0" cy="836.0" r="7.1" fill="none" stroke="#ecc48a" stroke-width="1.2"/>
<circle cx="1183.0" cy="836.0" r="7.1" fill="#f08a10"/>
<path d="M1175.90 836.34 A7.10 7.10 0 0 1 1190.10 836.34 Z" fill="#fff2d8"/>
<circle cx="1183.0" cy="836.0" r="7.1" fill="none" stroke="#ecc48a" stroke-width="1.2"/>
<circle cx="1225.0" cy="836.0" r="7.1" fill="#f08a10"/>
<path d="M1217.90 836.34 A7.10 7.10 0 0 1 1232.10 836.34 Z" fill="#fff2d8"/>
<circle cx="1225.0" cy="836.0" r="7.1" fill="none" stroke="#ecc48a" stroke-width="1.2"/>
<circle cx="1267.0" cy="836.0" r="7.1" fill="#f08a10"/>
<path d="M1259.90 836.34 A7.10 7.10 0 0 1 1274.10 836.34 Z" fill="#fff2d8"/>
<circle cx="1267.0" cy="836.0" r="7.1" fill="none" stroke="#ecc48a" stroke-width="1.2"/>
<text font-size="46.945" font-weight="bold" fill="#000" transform="translate(40.45 56.64) scale(0.8309 1)">(</text>
<text font-size="45.494" font-weight="bold" fill="#000" transform="translate(58.33 62.10) scale(0.9369 1)">A</text>
<text font-size="46.945" font-weight="bold" fill="#000" transform="translate(94.16 56.64) scale(0.7856 1)">)</text>
<text font-size="46.945" font-weight="bold" fill="#000" transform="translate(681.71 56.64) scale(0.7629 1)">(</text>
<text font-size="45.203" font-weight="bold" fill="#000" transform="translate(700.86 62.10) scale(0.8051 1)">B</text>
<text font-size="46.945" font-weight="bold" fill="#000" transform="translate(733.47 56.64) scale(0.7327 1)">)</text>
<text font-size="47.374" font-weight="bold" fill="#000" transform="translate(34.93 462.95) scale(0.7485 1)">(</text>
<text font-size="46.751" font-weight="bold" fill="#000" transform="translate(53.58 468.63) scale(0.7392 1)">C</text>
<text font-size="47.374" font-weight="bold" fill="#000" transform="translate(85.16 462.95) scale(0.7485 1)">)</text>
<text font-size="47.481" font-weight="bold" fill="#000" transform="translate(684.87 462.92) scale(0.7692 1)">(</text>
<text font-size="46.076" font-weight="bold" fill="#000" transform="translate(703.65 468.40) scale(0.8922 1)">D</text>
<text font-size="47.481" font-weight="bold" fill="#000" transform="translate(739.66 462.92) scale(0.7692 1)">)</text>
</g></defs>
<rect width="1326" height="945" fill="#fff"/>
<use href="#content" filter="url(#soft)"/>
<use href="#content" opacity="0.6"/>
</svg>
</body></html>
